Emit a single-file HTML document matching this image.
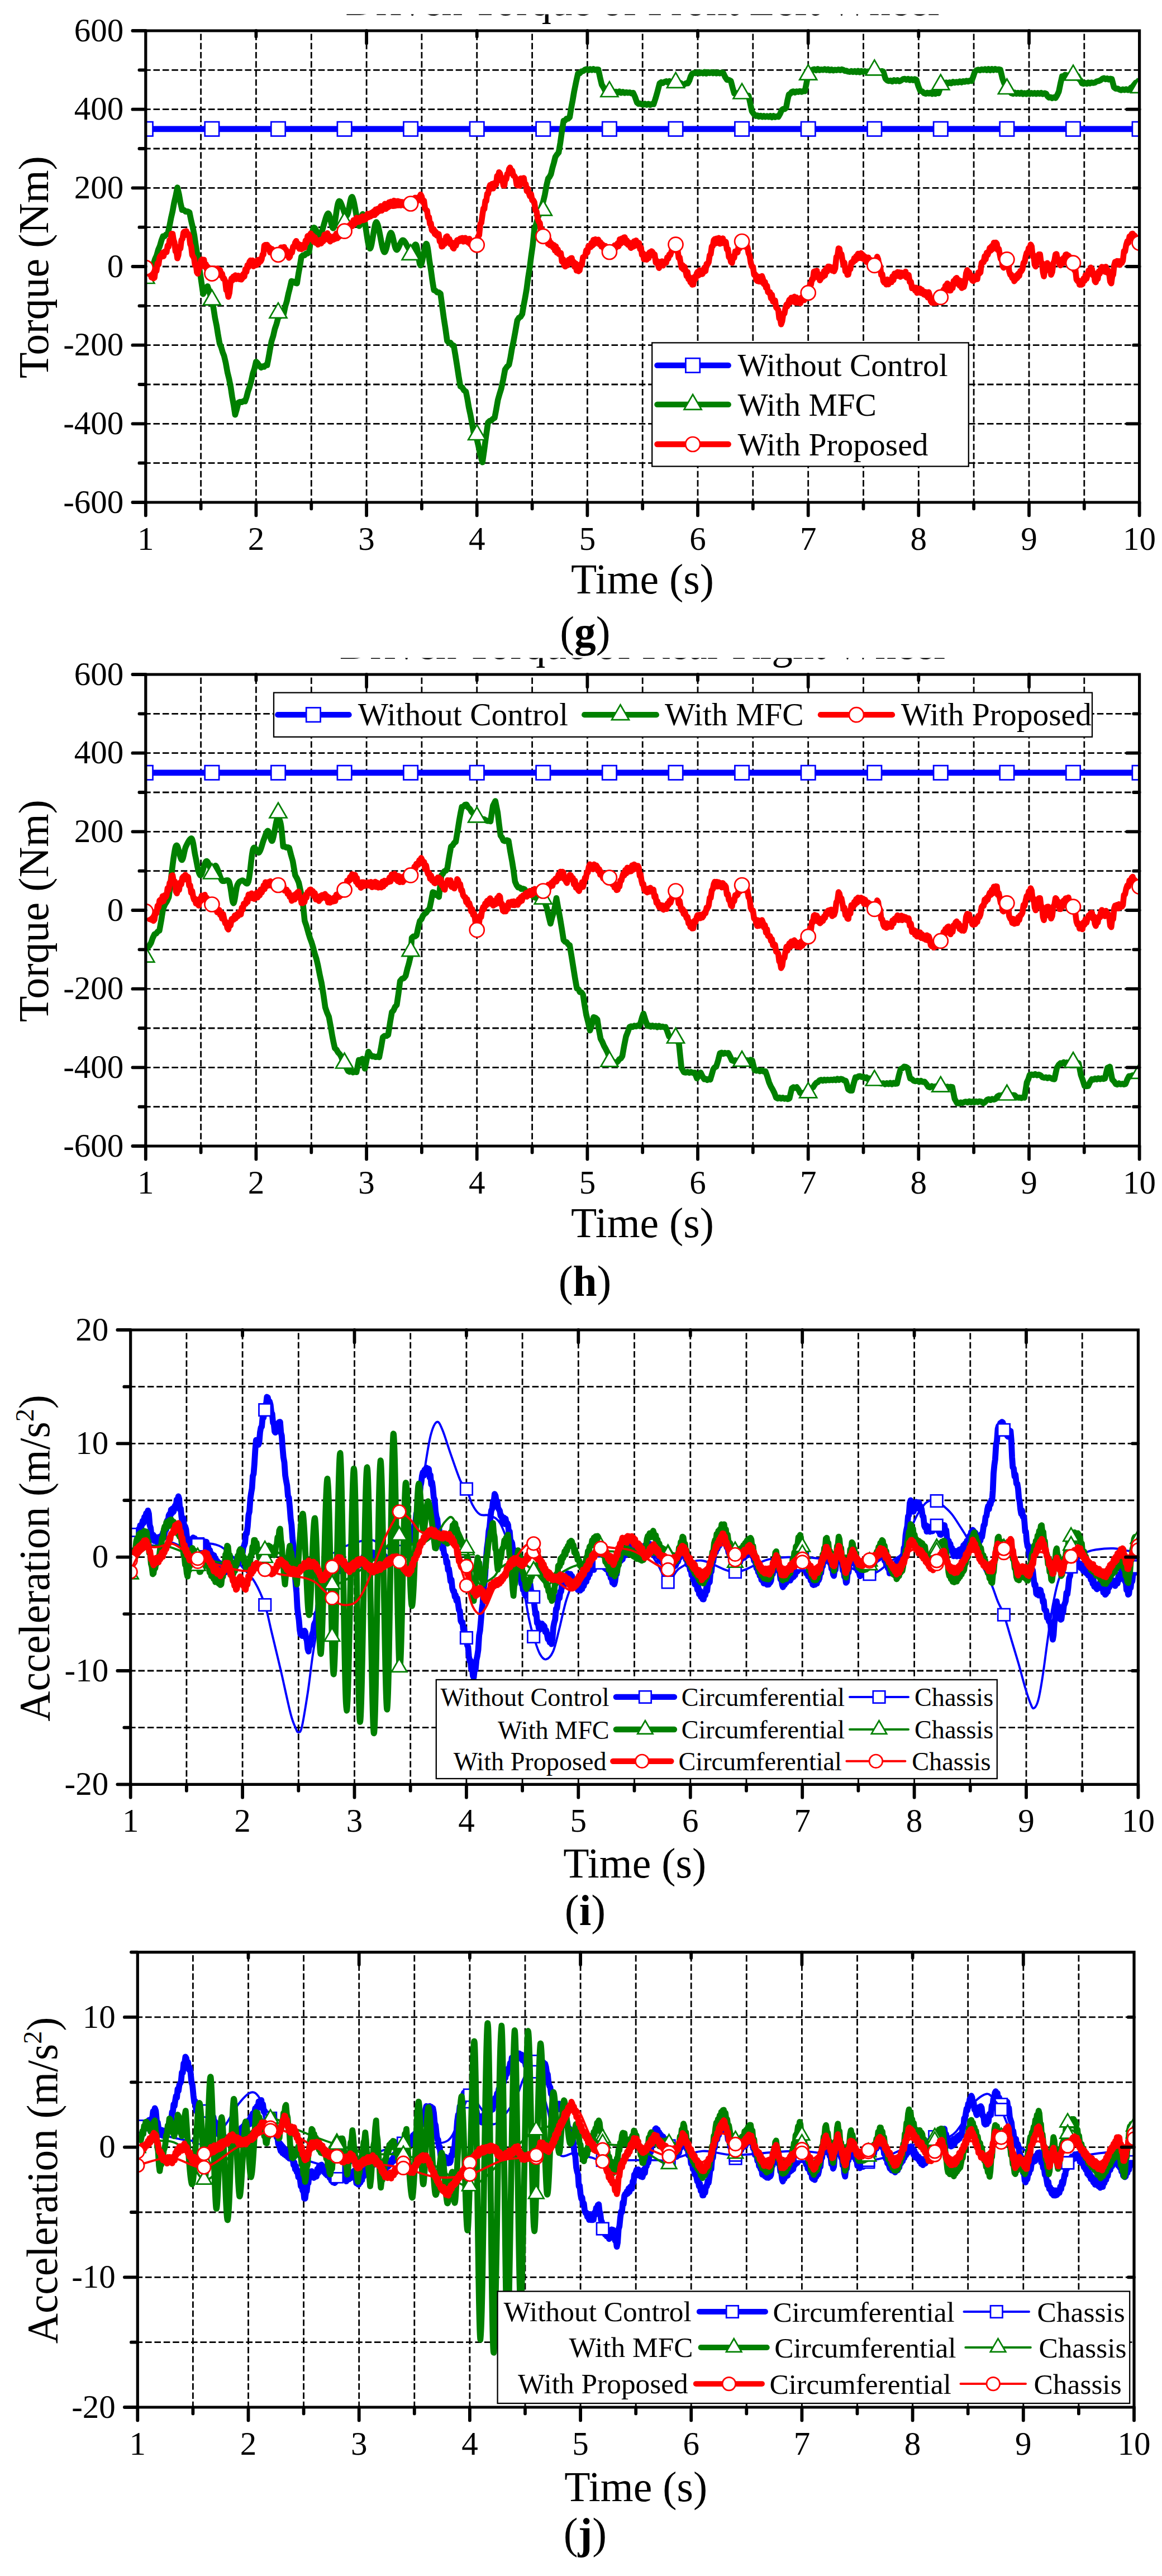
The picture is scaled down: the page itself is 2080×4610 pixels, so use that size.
<!DOCTYPE html><html><head><meta charset="utf-8"><title>Figure</title>
<style>html,body{margin:0;padding:0;background:#fff}svg{display:block}text{font-family:"Liberation Serif", serif;fill:#000}</style></head><body>
<svg width="2080" height="4610" viewBox="0 0 2080 4610">
<rect width="2080" height="4610" fill="#fff"/>
<defs>
<clipPath id="c1"><rect x="260.8" y="55" width="1778.8" height="844"/></clipPath>
<clipPath id="t1"><rect x="0" y="25.4" width="2080" height="40"/></clipPath>
<clipPath id="c2"><rect x="260.8" y="1207" width="1778.8" height="844"/></clipPath>
<clipPath id="t2"><rect x="0" y="1177.4" width="2080" height="40"/></clipPath>
<clipPath id="c3"><rect x="233.7" y="2380" width="1803.7" height="813.3"/></clipPath>
<clipPath id="c4"><rect x="246.3" y="3493.6" width="1783.7" height="814.4"/></clipPath>
</defs>
<text x="1150" y="27" font-size="75.5" text-anchor="middle" clip-path="url(#t1)">Driven Torque of Front Left Wheel</text>
<path d="M359.6 55V899M458.4 55V899M557.3 55V899M656.1 55V899M754.9 55V899M853.7 55V899M952.6 55V899M1051.4 55V899M1150.2 55V899M1249 55V899M1347.8 55V899M1446.7 55V899M1545.5 55V899M1644.3 55V899M1743.1 55V899M1842 55V899M1940.8 55V899" fill="none" stroke="#000" stroke-width="2.8" stroke-dasharray="11.6 4.7" stroke-dashoffset="10.9"/>
<path d="M260.8 828.7H2039.6M260.8 758.3H2039.6M260.8 688H2039.6M260.8 617.7H2039.6M260.8 547.3H2039.6M260.8 477H2039.6M260.8 406.7H2039.6M260.8 336.3H2039.6M260.8 266H2039.6M260.8 195.7H2039.6M260.8 125.3H2039.6" fill="none" stroke="#000" stroke-width="2.8" stroke-dasharray="11.6 4.8" stroke-dashoffset="2.7"/>
<path d="M260.8 230.8L2039.6 230.8" fill="none" stroke="#0000ff" stroke-width="10.8" stroke-linejoin="round" stroke-linecap="butt" clip-path="url(#c1)"/>
<g fill="#fff" stroke="#0000ff" stroke-width="2.7" clip-path="url(#c1)">
<rect x="248.1" y="218.1" width="25.4" height="25.4"/>
<rect x="366.7" y="218.1" width="25.4" height="25.4"/>
<rect x="485.3" y="218.1" width="25.4" height="25.4"/>
<rect x="603.9" y="218.1" width="25.4" height="25.4"/>
<rect x="722.4" y="218.1" width="25.4" height="25.4"/>
<rect x="841" y="218.1" width="25.4" height="25.4"/>
<rect x="959.6" y="218.1" width="25.4" height="25.4"/>
<rect x="1078.2" y="218.1" width="25.4" height="25.4"/>
<rect x="1196.8" y="218.1" width="25.4" height="25.4"/>
<rect x="1315.4" y="218.1" width="25.4" height="25.4"/>
<rect x="1434" y="218.1" width="25.4" height="25.4"/>
<rect x="1552.6" y="218.1" width="25.4" height="25.4"/>
<rect x="1671.1" y="218.1" width="25.4" height="25.4"/>
<rect x="1789.7" y="218.1" width="25.4" height="25.4"/>
<rect x="1908.3" y="218.1" width="25.4" height="25.4"/>
<rect x="2026.9" y="218.1" width="25.4" height="25.4"/>
</g>
<path d="M260.8 501.6L263.6 495L266.3 491L269.1 483.1L271.9 479.4L274.6 472.8L277.5 463.6L280.4 457.1L283.2 447.2L286.1 440.4L289 430.2L291.8 422.8L294.7 422.6L297.5 419.5L300.3 418.6L303.2 405.5L306.1 390.4L308.9 378.3L311.8 362.3L314.7 350L317.5 335.6L320.4 347.7L323.2 363.6L326 375.7L329.3 375.8L332.5 378.8L335.8 378.3L339.1 379.9L342 394L344.9 406.2L347.8 420.7L350.7 440.6L353.7 458.8L356.7 479.4L359.6 498.1L363.6 526.2L366.2 521.1L368.8 517.7L371.5 512.2L374.1 519.5L376.8 529.7L379.4 536.8L382.2 551.5L384.9 569L387.7 582.7L390.5 600.3L393.2 614.9L395.9 621.3L398.5 630.1L401.1 636.7L404.1 649.4L407.1 666.1L410 677.7L413 692.9L415.6 710.4L418.3 725L420.9 742.2L423.9 731.9L426.8 720.4L429.8 719.1L432.8 719.8L435.7 717.7L438.7 718.2L441.3 710.6L444 700.2L446.6 692.9L449.6 682.3L452.5 668.8L455.5 659.8L458.4 647.2L461.4 650.3L464.4 654.9L467.3 657.8L470.1 655.5L472.8 656.5L475.5 653.3L478.2 653.5L480.8 640L483.5 624.4L486.1 610.6L489.1 601.1L492 588.4L495 579.7L498 568.4L501.3 565.6L504.6 564.5L507.9 561.4L510.6 548.5L513.4 539.1L516.2 525.8L518.9 515.4L521.7 503L525 503.9L528.3 506.3L531.6 507.2L534.2 490.2L536.8 476L539.5 459.4L542.2 456.8L545 456.9L547.8 453.7L550.5 453.7L553.3 451C554.6 443.8 557.9 413.1 561.2 408.1C564.5 403 568.8 425.1 573.1 420.7C577.4 416.4 583 384.2 586.9 382.1C590.9 379.9 593.5 411.7 596.8 408.1C600.1 404.4 602.7 363.9 606.7 360.2C610.6 356.6 616.6 387.6 620.5 386.3C624.5 385 626.8 349.6 630.4 352.5C634 355.4 639 398.6 642.3 403.9C645.5 409.1 646.9 377.4 650.2 384.2C653.5 391 658.1 442.4 662 444.6C666 446.9 669.6 396.5 673.9 397.5C678.2 398.6 683.4 447.8 687.7 451C692 454.1 695.9 417.2 699.6 416.5C703.2 415.8 705.8 444.5 709.5 446.8C713.1 449 717 429.5 721.3 429.9C725.6 430.2 731.2 447.5 735.1 448.9C739.1 450.3 742.1 434 745 438.3C748 442.7 750 475.2 752.9 474.9C755.9 474.5 760.2 437.6 762.8 436.2C765.5 434.8 767.8 461.4 768.7 466.4L771.4 483.5L774 502.6L776.7 519.2L779.6 520.2L782.6 523.2L785.5 523.3L788.5 525.5L791.5 548L794.4 569.1L797.4 588.3L800.4 609.9L803.3 613.2L806.3 613.4L809.3 617.5L812.2 618.4L815.2 636L818.2 654.9L821.1 674L824.1 691.5L827.4 693.4L830.7 698.6L834 700.7L836.6 713.7L839.2 729.1L841.9 741.5L844.8 757L847.8 773.8L850.8 780.8L853.7 786.5L856.7 799.4L859.7 814.6L863.6 827.3L866.6 806.5L869.5 784.4L873.5 756.2L876.5 753.4L879.4 752.5L882.4 749.4L885.4 747.8L888.3 732.6L891.3 715.4L894.3 704.9L897.2 695.7L900.7 679.5L904.1 661.3L907.6 656.3L911.1 652.8L913.7 640.1L916.3 624.4L919 612L922.4 593.6L925.9 573.4L928.8 568.7L931.8 567L934.8 562.1L937.4 546.5L940 532.7L942.7 517.1L945.4 496.5L948.1 479.6L950.8 458.4L953.5 439.7L956.5 410.2L959.7 401L962.8 389.4L966 381.9L969.2 370.2L972.3 360.9L975.3 348.4L978.2 332.1L981.2 319.5L983.7 316.5L986.2 311.7L988.8 300.6L991.4 291.6L994.1 280.8L997 276.4L1000 273L1003 255.3L1005.9 234.4L1008.9 216.1L1011.6 215.5L1014.3 212.2L1017 212.5L1019.8 209.7L1022.4 193.5L1025 180L1027.7 164L1031.1 147.2L1034.6 131.7L1037.8 131L1041 127.6L1044.2 127L1047.4 124.6L1050.4 123.7L1053.4 125.8L1056.3 123.7L1059.3 125.3L1062.2 123.4L1065.2 125.3L1068.2 124.2L1071.1 124.6L1074.1 138.7L1077.1 151.4L1080.5 156.9L1084 164L1087.1 164.7L1090.2 163.7L1093.3 165.2L1096.3 163.6L1099.4 165.2L1102.5 164L1105.6 166.1L1108.7 163.8L1111.8 166.2L1114.9 164.3L1118 166.4L1121 165L1124.1 166.2L1127.2 165.4L1130.3 167.2L1133.4 166.1L1136.9 173.9L1140.3 183.7L1143 185.9L1145.6 185.1L1148.2 186.5L1151.3 187.5L1154.4 185.7L1157.5 187.6L1160.6 185.8L1163.8 187.8L1166.9 186L1170 186.5L1173.4 176.2L1176.9 164L1180.8 149.2L1183.8 147.2L1186.8 148.6L1189.7 146.4L1192.6 145.4L1195.4 147.5L1198.2 145.3L1201 147.7L1203.8 145.7L1206.7 147.5L1209.5 146.4L1212.5 146.2L1215.4 149.6L1218.4 148.6L1221.4 151.5L1224.3 151.4L1227.8 149.1L1231.2 149.2L1233.9 144.3L1236.5 136.5L1239.1 131.7L1243.1 130.3L1246.1 131L1249.1 129.3L1252.2 131.2L1255.2 129.7L1258.2 131.3L1261.2 129L1264.3 131.5L1267.3 129.2L1270.3 131L1273.3 129.2L1276.3 131.2L1279.4 129.4L1282.4 131.4L1285.4 129.7L1288.4 131.3L1291.5 129.8L1294.5 130.3L1297.9 137.5L1301.4 142.9L1304.9 143.1L1308.3 145L1311.3 156.6L1314.2 166.8L1317.1 166.3L1320 168.6L1322.8 167.3L1325.7 169.9L1328.5 168.5L1331.4 170.1L1334.2 169.4L1337.1 171.6L1339.9 171.1L1342.9 184.5L1345.9 199.2L1349.3 204L1352.8 207.6L1355.7 206.5L1358.6 208.8L1361.5 207.1L1364.4 209.2L1367.3 207.4L1370.2 209.2L1373 207.7L1375.9 209.2L1378.8 207.4L1381.7 209.9L1384.6 207.5L1387.5 209.6L1390.4 208L1393.3 209L1396.3 203.8L1399.2 197.1L1401.9 195.1L1404.5 195.1L1407.1 192.9L1409.6 179.7L1412.1 168.9L1414.5 168L1417 164.7L1420 163.5L1422.9 165.6L1425.9 163.5L1428.9 164.6L1431.8 163L1434.8 164.4L1437.8 162.9L1440.7 163.3L1443.7 148.6L1446.7 132.4L1449.3 128.8L1451.9 128.1L1454.6 124.6L1457.6 123.9L1460.7 125.9L1463.8 123.5L1466.9 125.6L1469.9 124.3L1473 125.3L1476.1 123.7L1479.2 125.4L1482.2 123.9L1485.3 126L1488.4 124.3L1491.5 126.2L1494.5 124.7L1497.6 125.7L1500.7 124.4L1503.8 125.7L1506.8 124.1L1509.9 125.3L1512.5 126.9L1515.2 126.6L1517.8 128.1L1520.8 128.6L1523.8 127.2L1526.9 129L1529.9 127.2L1532.9 129.2L1535.9 127L1538.9 129.4L1541.9 127.1L1544.9 128.8L1547.9 127.3L1550.9 128.8L1554 127.7L1557 129L1560 127.1L1563 128.8L1566 127.5L1569 128.9L1572 127.1L1575 129L1578.1 127.2L1581.1 128.1L1585 140.8L1588 144L1590.9 145L1594.1 144.1L1597.2 145.9L1600.3 143.5L1603.4 145.2L1606.5 143.3L1609.6 145.5L1612.7 144.3L1616.6 141.5L1619.6 141.1L1622.6 142.7L1625.5 141.1L1628.5 143.4L1631.5 141.6L1634.4 143.5L1637.4 141.5L1640.4 142.9L1643.8 153.9L1647.3 162.6L1650.7 163.5L1654.2 166.8L1657 167.7L1659.9 165.8L1662.8 167.5L1665.6 165.8L1668.5 168L1671.3 165.8L1674.2 167.9L1677 166.2L1679.9 166.8L1682.4 159.3L1684.8 149.2L1687.8 147.7L1690.9 150.1L1693.9 147.6L1696.9 149.4L1699.9 147.3L1702.9 149.1L1706 146.4L1709 148.1L1712 146.6L1715 147.7L1718 145.7L1721.1 147.5L1724.1 145.3L1727.1 146.4L1730.1 144.6L1733.1 146L1736.2 144.1L1739.2 145L1742.1 137.2L1745.1 128.1L1748.1 125.7L1751 124.6L1754.1 125.8L1757.1 124.1L1760.2 125.2L1763.2 123.7L1766.2 125.7L1769.3 123.5L1772.3 125.7L1775.4 123.4L1778.4 125.5L1781.4 123.4L1784.5 125.2L1787.5 124L1790.6 124.6L1794.5 140.8L1797.2 148.3L1799.8 153.2L1802.4 160.5L1805.1 163.7L1807.7 163.7L1810.3 166.8L1813.3 167.8L1816.3 165.7L1819.2 167.9L1822.2 166.2L1825.2 167.8L1828.1 165.9L1831.1 168.3L1834 166.5L1837 168.3L1840 165.9L1842.9 168.1L1845.9 166.3L1848.9 167.9L1851.8 166.4L1854.8 168.2L1857.8 166.4L1860.7 167.9L1863.7 166.2L1866.7 168.4L1869.6 166.7L1872.6 167.5L1875.1 172.2L1877.5 174.6L1880.5 173.8L1883.5 175.8L1886.4 174.1L1889.4 175.3L1892.4 170.2L1895.3 164L1898.3 149.4L1901.2 136.6L1903.9 136.7L1906.5 133.9L1909.2 134.5L1912 135.9L1914.8 134.2L1917.6 135.9L1920.4 134.7L1923.3 136.3L1926.1 134.5L1928.9 135.9L1931.6 141.6L1934.2 143.9L1936.8 149.2L1939.6 149.9L1942.5 148.4L1945.3 149.9L1948.1 147.6L1950.9 149.3L1953.8 147.5L1956.6 148.5L1959.9 147.8L1963.2 145.6L1966.5 145L1969.9 143.6L1973.4 140.8L1976.2 139.9L1979 141.8L1981.8 140.4L1984.6 142.3L1987.4 140.8L1990.2 141.5L1994.1 156.3L1997.4 158.8L2000.7 158.5L2004 160.5L2007 161.4L2010 159.8L2012.9 161.1L2015.9 159.6L2018.8 161.3L2021.8 160.5L2024.4 156.9L2027.1 155.7L2029.7 152.1L2033 148.1L2036.3 146.6L2039.6 142.9" fill="none" stroke="#008000" stroke-width="10.6" stroke-linejoin="round" stroke-linecap="butt" clip-path="url(#c1)"/>
<g fill="#fff" stroke="#008000" stroke-width="2.7" clip-path="url(#c1)">
<path d="M260.8 480.2L276.3 507L245.3 507Z"/>
<path d="M379.4 518.9L394.9 545.7L363.9 545.7Z"/>
<path d="M498 542.1L513.5 568.9L482.5 568.9Z"/>
<path d="M616.6 380.3L632.1 407.2L601.1 407.2Z"/>
<path d="M735.1 438L750.6 464.8L719.6 464.8Z"/>
<path d="M853.7 760.1L869.2 787L838.2 787Z"/>
<path d="M972.3 358.5L987.8 385.4L956.8 385.4Z"/>
<path d="M1090.9 146.1L1106.4 173L1075.4 173Z"/>
<path d="M1209.5 129.9L1225 156.8L1194 156.8Z"/>
<path d="M1328.1 149.6L1343.6 176.5L1312.6 176.5Z"/>
<path d="M1446.7 115.9L1462.2 142.7L1431.2 142.7Z"/>
<path d="M1565.3 107.4L1580.8 134.3L1549.8 134.3Z"/>
<path d="M1683.8 133.5L1699.3 160.3L1668.3 160.3Z"/>
<path d="M1802.4 141.2L1817.9 168L1786.9 168Z"/>
<path d="M1921 116.6L1936.5 143.4L1905.5 143.4Z"/>
<path d="M2039.6 139.1L2055.1 165.9L2024.1 165.9Z"/>
</g>
<path d="M260.8 479.1L262.5 477.9L264.3 488.1L266 481.9L267.7 491L269.4 489L271.2 496.6L272.9 492.8L274.6 498.1L276.5 497.1L278.3 482.1L280.1 484.7L282 470.9L283.8 473.3L285.6 460.7L287.5 457.3L289.3 459.5L291 452.3L292.8 458.7L294.6 450.1L296.4 451L298.2 451.2L300 439.5L301.8 441.5L303.6 429.4L305.4 431.2L307.2 418.3L309 418.6L310.7 429.3L312.4 433.9L314.1 450L315.8 449.8L317.5 462.2L319.3 456.9L321.1 441.5L323 444.7L324.8 429.4L326.6 427.6L328.4 416.5L330.1 414.5L331.8 420.4L333.5 413.6L335.2 420.7L336.9 418.6L338.7 422.4L340.5 437L342.2 440.6L344 456.1L345.8 459.4L347.4 462.1L349.1 474.9L350.8 473.5L352.4 487.2L354.1 489.7L356 480L357.8 479L359.7 466.1L361.6 464.3L363.4 472.7L365.1 464.9L366.9 477.5L368.6 473L370.4 482.4L372.1 477.8L373.9 489.5L375.7 485.8L377.4 491.1L379.3 492.4L381.2 485L383.1 490.6L385 480.6L386.9 487.7L388.8 480.6L390.7 481.2L392.4 488.9L394.1 483.4L395.9 493.4L397.6 489.8L399.4 498.7L401.1 498.1L403.1 503.1L405 519.3L406.9 520.6L408.8 531.2L410.7 524L412.5 506.6L414.4 498.1L416.1 501.9L417.9 494.9L419.6 499.3L421.4 492.6L423.1 499.4L424.8 494.6L426.6 493.2L428.4 499.6L430.2 494L432 500.3L433.7 498.1L435.6 490.3L437.4 495L439.2 481.8L441.1 486.6L442.9 474.5L444.8 478L446.6 468.6L448.4 466L450.2 472.6L452 466.1L453.8 476.6L455.6 470.1L457.5 472.8L459.3 474.3L461.1 465.3L462.9 471.7L464.7 464.4L466.5 467.7L468.3 464.3L469.9 455.8L471.5 455.5L473.1 439.4L474.7 438.3L476.4 445.6L478.2 438.1L480 445.6L481.8 442.3L483.5 451.8L485.3 448.9L487.1 445.6L488.9 456.4L490.7 451L492.4 459.2L494.2 453.4L496 458.7L497.8 460.2L499.6 450.5L501.4 455.9L503.2 442.8L505.1 447.7L506.9 442.5L508.6 442L510.3 452.4L512 446.9L513.8 457.5L515.5 450.8L517.2 461.4L518.9 459.4L520.8 449.9L522.7 452L524.6 441.3L526.5 442L528.4 434.1L530.3 431.2L532.1 441.5L534 436.2L535.9 445.2L537.7 438.2L539.6 445.9L541.5 444.6L543.3 437.7L545.1 443.2L547 430.5L548.8 435.1L550.6 422.4L552.5 429.5L554.3 420.7L556.2 417.8L558 427.6L559.9 421.9L561.8 432.8L563.6 424.6L565.5 435L567.4 429.6L569.2 437.7L571.1 436.2L573 429.4L574.9 435.7L576.8 427.6L578.7 431.8L580.6 420L582.5 427.7L584.3 420.7L586 417.3L587.7 429.3L589.4 422L591.1 432.2L592.8 429.2L594.7 424.7L596.5 429.1L598.3 422.4L600.1 427.5L602 418L603.8 426.4L605.6 417L607.4 423.8L609.3 416.1L611.1 421.1L612.9 411.7L614.7 418.2L616.6 413.7L618.4 409.2L620.2 413.8L622 405.6L623.7 411.4L625.5 403L627.3 406L629.1 399L630.9 404.8L632.7 394.1L634.5 401.4L636.3 395.4L638.1 389.6L639.9 397.5L641.7 391.7L643.5 396.8L645.3 389L647.1 394.5L648.9 387.1L650.7 394L652.5 387.5L654.3 392.8L656.1 389.1L657.9 382.6L659.7 388.7L661.6 382.3L663.4 387.2L665.2 380.5L667 385.4L668.9 378L670.7 384.8L672.5 374.7L674.3 381.6L676.2 373.5L678 378.4L679.8 373.6L681.6 368.8L683.4 377L685.2 368.5L687.1 374.1L688.9 364.8L690.7 373.9L692.5 365.5L694.3 371.4L696.1 362.1L697.9 369.3L699.7 360.9L701.5 364.5L703.3 368.8L705.1 359.1L706.9 368.4L708.6 360.1L710.4 367.6L712.2 359.9L713.9 367.5L715.7 360.8L717.5 367.7L719.2 361.4L721 366.9L722.8 361.7L724.5 368.3L726.3 361.6L728.1 366.6L729.8 359.7L731.6 367.4L733.4 359.2L735.1 364.5L737.1 367.1L739.1 358.3L741.1 365.3L743.1 353.7L745 357.4L747 359.4L749 352.8L751 358.3L752.9 348L754.9 351.8L756.9 361.9L758.9 359L760.8 373.1L762.8 375.7L764.5 377L766.2 389.4L767.9 388.6L769.6 400.7L771.3 399.5L773 411.6L774.7 413.7L776.5 410.2L778.2 418.8L780 414.8L781.8 421.6L783.6 420L785.3 418.7L787.1 432L788.9 430.2L790.7 441.3L792.5 440.4L794.4 431L796.4 436.5L798.4 424L800.4 422.8L802.3 431.3L804.3 427.7L806.3 437.1L808.3 433.6L810.3 442.5L812.2 444.8L814.2 434.5L816.2 439.6L818.2 429.8L820.1 429.2L821.9 432L823.8 426.7L825.6 431L827.4 425.7L829.2 432.5L831 427.8L832.8 425.7L834.7 432.2L836.5 427.9L838.3 434.4L840.2 427.3L842 437.3L843.9 434.1L845.8 432.6L847.8 440.2L849.8 432.8L851.8 441L853.7 438.3L855.7 423.7L857.7 420.9L859.7 401L861.6 398.7L863.6 384.2L865.3 373.1L867 374.1L868.7 359.5L870.4 360.1L872.1 346.6L873.8 346.9L875.5 336.3L877.3 331.1L879.1 337.8L880.9 329L882.7 337.2L884.5 327.8L886.3 332.1L888.1 330.5L889.8 314.8L891.5 318.5L893.3 308.2L895.2 310.7L897.2 323.5L899.2 322L901.2 332.1L902.9 332.1L904.6 317.9L906.3 320.6L907.9 311.5L909.6 311.3L911.3 302.2L913 299.8L915 305.8L917 305.5L919 314.2L920.9 315.2L922.9 318.5L924.9 330.9L926.9 332.1L928.6 325.5L930.4 332.4L932.2 319.2L934 326.6L935.8 319.5L937.6 318.5L939.4 330.2L941.2 329.7L943 342L944.8 337.5L946.6 345.5L948.6 351.3L950.6 347.2L952.6 358.4L954.5 358.1L956.5 362L958.5 376.7L960.5 378.6L962.4 391.3L964.4 396.8L966.4 399.2L968.4 415.2L970.3 410.9L972.3 422.8L974.1 429.2L975.8 421L977.6 431.2L979.3 426.7L981.1 436.7L982.9 429.1L984.6 439.2L986.4 434.6L988.1 438.3L989.9 442.9L991.6 438.4L993.3 448.4L995 440.8L996.8 452.2L998.5 446.3L1000.2 454.5L1002 453.1L1003.9 452.9L1005.9 468.1L1007.9 463.8L1009.9 474.8L1011.8 477L1013.8 469.9L1015.8 474.9L1017.8 464.9L1019.8 467.9L1021.7 462.2L1023.5 461.8L1025.2 472.1L1026.9 468.6L1028.6 477.7L1030.4 471.4L1032.1 484.2L1033.8 479.7L1035.6 485.4L1037.5 483.7L1039.5 472.7L1041.5 474.4L1043.5 460.4L1045.4 459.4L1047.4 458.2L1049.4 447.9L1051.4 452.1L1053.4 440.2L1055.3 440.4L1057.1 442.3L1058.8 434.6L1060.5 439.4L1062.2 429.3L1064 436.5L1065.7 428.3L1067.4 434.1L1069.2 429.2L1071 428.9L1072.8 437L1074.6 433.2L1076.4 441.2L1078.2 437.1L1080 442.5L1081.8 447.1L1083.7 440.1L1085.5 449.7L1087.3 445.1L1089.1 453.8L1090.9 451L1092.7 446.1L1094.6 451.7L1096.4 442.2L1098.2 447.1L1100.1 439.1L1101.9 444.2L1103.8 440.4L1105.6 435.4L1107.4 440.8L1109.3 428.3L1111.1 435.9L1112.9 426.8L1114.8 430.7L1116.6 425L1118.4 424.6L1120.2 435L1122 429.9L1123.8 437.9L1125.7 433.6L1127.5 440.4L1129.3 443.8L1131.2 434.8L1133 441.7L1134.9 431.9L1136.7 440L1138.6 430.4L1140.4 438.2L1142.3 434.1L1144 434.8L1145.7 445.9L1147.4 442.6L1149.1 456L1150.8 452.9L1152.5 463.8L1154.2 464.3L1155.9 458.1L1157.6 464.7L1159.3 455L1161.1 461.8L1162.8 451.5L1164.5 457.5L1166.3 449.6L1168 451L1170 457.8L1171.9 455.4L1173.9 470.1L1175.9 466.8L1177.9 474.9L1179.7 479.7L1181.5 468.5L1183.4 475.5L1185.2 467.6L1187 475.3L1188.9 468.2L1190.7 470.7L1192.5 470.2L1194.3 460.7L1196.2 462.9L1198 455.4L1199.8 456.6L1201.6 451L1203.6 444.6L1205.5 446.8L1207.5 438.6L1209.5 437.6L1211.3 449.3L1213.1 447.8L1214.8 461.5L1216.6 460.5L1218.4 471.4L1220.2 479.4L1221.9 474.6L1223.7 482.6L1225.5 477.6L1227.3 485.4L1229 494L1230.7 487L1232.4 499.5L1234.1 495.9L1235.8 505.1L1237.4 500.8L1239.1 509.4L1241.1 509.1L1243.1 495.6L1245.1 499.3L1247 489.7L1248.7 486.5L1250.4 492.9L1252.1 483.6L1253.8 490.8L1255.5 484L1257.2 490.4L1258.9 487.6L1260.9 478.9L1262.9 485.1L1264.8 472.2L1266.8 472.8L1268.6 469.1L1270.4 456.5L1272.2 455L1274.1 441L1275.9 440.4L1277.7 429.9L1279.5 427.9L1281.3 435.5L1283.1 426.7L1284.9 434.6L1286.7 425.9L1288.5 436.2L1290.3 427.3L1292.1 435.3L1293.9 426.6L1295.6 435.1L1297.4 432L1299.3 432.9L1301.1 446.2L1302.9 445.5L1304.7 460.2L1306.5 458.3L1308.3 468.6L1310.3 470.5L1312.3 458.8L1314.2 461.4L1316.2 449.7L1318.2 451L1320.2 451.8L1322.2 439.6L1324.1 444.3L1326.1 431.4L1328.1 432L1330.1 439.1L1332 432L1334 441.5L1336 437.5L1338 442.5L1339.9 453.4L1341.9 457.4L1343.9 470.5L1345.9 477L1347.8 477.6L1349.8 491.4L1351.8 490.9L1353.8 500.9L1355.5 503L1357.2 494.9L1358.9 503.8L1360.6 497.1L1362.2 504.3L1363.9 494.1L1365.6 498.8L1367.4 508.4L1369.3 504.5L1371.1 514.8L1372.9 511.4L1374.7 522.8L1376.5 524.1L1378.3 522.8L1380.1 533.9L1381.8 527.5L1383.6 539.7L1385.4 537.5L1387.4 537.8L1389.3 550.3L1391.3 552.3L1393.1 554.7L1394.8 569.8L1396.5 570.8L1398.2 580.4L1400.2 574.8L1402.2 561.1L1404.2 560.9L1406.1 550.1L1407.8 545.1L1409.4 548.2L1411.1 541.7L1412.9 536.6L1414.6 541.4L1416.4 532.7L1418.2 538.8L1420 533.3L1421.8 530.9L1423.6 541.5L1425.4 532.3L1427.2 541.9L1429 535.3L1430.9 541.7L1432.6 542.8L1434.4 532.5L1436.1 538L1437.9 530.8L1439.6 537.2L1441.4 525.7L1443.2 532.5L1444.9 523.4L1446.7 524.1L1448.4 521L1450.1 507.7L1451.7 509.7L1453.4 499.5L1455.1 500L1456.8 486.1L1458.5 485.4L1460.3 492L1462.1 484.4L1464 496.8L1465.8 490.9L1467.6 501.8L1469.4 498.8L1471.2 493L1473.1 495.5L1475 485.3L1476.8 493L1478.7 480.9L1480.5 486.1L1482.4 477.1L1484.2 477L1486 481.4L1487.8 478.2L1489.6 484.3L1491.3 480.1L1493.1 485.4L1495.1 480.4L1497.1 459.8L1499 458.6L1501 444.6L1502.7 445.2L1504.5 458.1L1506.2 454.7L1507.9 464.3L1509.7 474.3L1511.5 469.9L1513.3 485.7L1515.1 481.9L1516.8 491.8L1518.6 491.2L1520.4 480L1522.2 481.5L1523.9 469.7L1525.7 468.6L1527.4 469.1L1529.1 462.1L1530.8 466.2L1532.5 458.4L1534.2 463.2L1535.9 454L1537.6 455.2L1539.4 461.8L1541.3 453.1L1543.1 462.4L1545 456.3L1546.8 464.2L1548.7 459.4L1550.6 468.6L1552.4 464.3L1554.2 460.7L1556.1 471.6L1557.9 464.6L1559.7 472.8L1561.6 468L1563.4 475.9L1565.3 474.9L1566.9 466.6L1568.5 468.6L1570.2 459.4L1572 464.2L1573.8 476.7L1575.6 476.7L1577.4 492.1L1579.3 490.6L1581.1 503L1582.9 505.8L1584.7 501.4L1586.6 509.2L1588.4 500.1L1590.2 508.9L1592.1 500.9L1593.9 505.1L1595.7 505L1597.5 494.6L1599.3 501.1L1601.2 489.6L1603 494.7L1604.8 489.7L1606.6 486.9L1608.4 493.9L1610.2 487.4L1612 495.4L1613.8 487.8L1615.6 493L1617.4 488.5L1619.2 494.1L1621 486.1L1622.7 496.6L1624.5 491.8L1626.5 492.2L1628.5 504.8L1630.5 504L1632.5 515.8L1634.4 515.7L1636.2 514.2L1638 520L1639.8 514.7L1641.5 524.1L1643.3 517.3L1645.1 522.9L1646.9 516.4L1648.7 524.4L1650.4 518.7L1652.2 524.1L1653.9 527.2L1655.6 522.3L1657.3 528.6L1659 523L1660.7 532.4L1662.4 522.8L1664.1 528.3L1666.1 538.9L1668 541.7L1669.8 538.4L1671.5 542.1L1673.3 535.4L1675.1 542.1L1676.8 531L1678.6 537.2L1680.3 530.9L1682.1 538.3L1683.8 531.9L1685.5 525.9L1687.2 527L1688.9 518.4L1690.6 522.9L1692.3 511.4L1694 515.3L1695.7 507.2L1697.7 509.1L1699.7 520L1701.6 519.9L1703.4 513.2L1705.2 515.5L1707 502.7L1708.7 508.1L1710.5 498.8L1712.4 497.2L1714.2 507.9L1716.1 501L1717.9 511.5L1719.8 502.8L1721.6 515.4L1723.5 509.4L1725.3 513.6L1727.3 506.4L1729.3 489L1731.3 483.3L1733.1 491.7L1734.9 487.1L1736.7 497.8L1738.5 492.8L1740.3 501.7L1742.1 503L1744 498.6L1745.8 500.5L1747.6 493.6L1749.4 499.4L1751.2 487.5L1753 489.7L1755 487.6L1757 470.4L1758.9 468.6L1760.8 469L1762.6 458.3L1764.4 464L1766.2 452.4L1768 456.2L1769.8 451L1771.7 443.5L1773.5 448.6L1775.3 440.2L1777.2 445.7L1779 434.3L1780.8 441.4L1782.7 434.1L1784.4 436.3L1786.1 447.6L1787.9 445.4L1789.6 455.2L1791.3 463.3L1793 462.1L1794.8 476.2L1796.5 479.1L1798.5 470.9L1800.5 472.3L1802.4 464.3L1804.4 469L1806.4 485.2L1808.4 491.8L1810.1 491.2L1811.9 497.6L1813.7 494.9L1815.5 503.2L1817.2 500.9L1819.1 492.9L1820.9 497.7L1822.7 489.6L1824.5 493.8L1826.3 485L1828.1 485.4L1830.1 482.1L1832.1 470.1L1834 469.4L1836 459.4L1837.8 452.2L1839.6 452.8L1841.4 443.9L1843.1 447.2L1844.9 437.6L1846.7 441L1848.5 458.8L1850.3 456.4L1852 473.7L1853.8 477L1855.8 468.8L1857.8 468.4L1859.7 455.2L1861.7 455.2L1863.4 469.4L1865.2 470.4L1866.9 487.2L1868.6 494.6L1870.6 481.9L1872.6 482.5L1874.6 470.7L1876.3 473.7L1878 483.9L1879.8 481.1L1881.5 491.8L1883.5 486.8L1885.4 471.2L1887.4 466.6L1889.4 455.2L1891.2 454.5L1892.9 466.3L1894.7 463.4L1896.5 473.4L1898.3 474.9L1900.1 469L1901.9 472L1903.7 461.6L1905.5 464.4L1907.3 456L1909.2 455.2L1910.8 460.9L1912.5 457.3L1914.2 464L1915.9 460.4L1917.6 468.4L1919.3 463.9L1921 470.7L1923 483.4L1925 482.4L1926.9 500.3L1928.9 503L1930.6 502.1L1932.4 509.6L1934.1 504.4L1935.8 509.4L1937.6 508.6L1939.5 498.5L1941.3 502.6L1943.1 492.2L1944.9 499L1946.7 491.8L1948.7 483.7L1950.7 488.6L1952.6 478.7L1954.6 481.2L1956.3 492.6L1958.1 488.5L1959.8 503.2L1961.5 505.1L1963.3 496.1L1965.1 499.2L1966.9 485.8L1968.6 490L1970.4 481.2L1972.3 477.6L1974.1 485.2L1975.9 478L1977.8 486.4L1979.6 477.4L1981.4 487.7L1983.3 483.3L1985.2 488.2L1987.2 503.8L1989.2 507.2L1990.9 494.8L1992.7 491.5L1994.4 474.4L1996.1 468.6L1997.8 473.4L1999.5 467L2001.2 471.9L2002.9 467.2L2004.6 474.2L2006.3 467.8L2008 470.7L2010 466.5L2011.9 449.4L2013.9 449.9L2015.9 438.3L2017.9 431.7L2019.8 434.5L2021.8 423.1L2023.8 426L2025.8 418.6L2027.5 418.1L2029.2 427L2031 421.5L2032.7 432.2L2034.4 425L2036.1 435.1L2037.9 427.5L2039.6 434.8" fill="none" stroke="#ff0000" stroke-width="10.6" stroke-linejoin="round" stroke-linecap="butt" clip-path="url(#c1)"/>
<g fill="#fff" stroke="#ff0000" stroke-width="2.7" clip-path="url(#c1)">
<circle cx="260.8" cy="479.1" r="13"/>
<circle cx="379.4" cy="489.6" r="13"/>
<circle cx="498" cy="455.8" r="13"/>
<circle cx="616.6" cy="413.7" r="13"/>
<circle cx="735.1" cy="364.5" r="13"/>
<circle cx="853.7" cy="438.3" r="13"/>
<circle cx="972.3" cy="422.8" r="13"/>
<circle cx="1090.9" cy="451" r="13"/>
<circle cx="1209.5" cy="437.6" r="13"/>
<circle cx="1328.1" cy="432" r="13"/>
<circle cx="1446.7" cy="524.1" r="13"/>
<circle cx="1565.3" cy="474.9" r="13"/>
<circle cx="1683.8" cy="531.9" r="13"/>
<circle cx="1802.4" cy="464.3" r="13"/>
<circle cx="1921" cy="470.7" r="13"/>
<circle cx="2039.6" cy="434.8" r="13"/>
</g>
<rect x="1167.2" y="613.4" width="566.6" height="221.2" fill="#fff" stroke="#000" stroke-width="2.3"/>
<path d="M1176.4 653.9H1303.8" stroke="#0000ff" stroke-width="10.3" stroke-linecap="round" fill="none"/>
<g fill="#fff" stroke="#0000ff" stroke-width="2.7"><rect x="1227.4" y="641.2" width="25.4" height="25.4"/></g>
<text x="1320.4" y="673.4" font-size="57.5" text-anchor="start">Without Control</text>
<path d="M1176.4 723.9H1303.8" stroke="#008000" stroke-width="10.3" stroke-linecap="round" fill="none"/>
<g fill="#fff" stroke="#008000" stroke-width="2.7"><path d="M1240.1 706L1255.6 732.8L1224.6 732.8Z"/></g>
<text x="1320.4" y="744.3" font-size="57.5" text-anchor="start">With MFC</text>
<path d="M1176.4 795H1303.8" stroke="#ff0000" stroke-width="10.3" stroke-linecap="round" fill="none"/>
<g fill="#fff" stroke="#ff0000" stroke-width="2.7"><circle cx="1240.1" cy="795" r="13"/></g>
<text x="1320.4" y="815.4" font-size="57.5" text-anchor="start">With Proposed</text>
<path d="M260.8 899v23.4M359.6 899v11.4M458.4 899v23.4M557.3 899v11.4M656.1 899v23.4M754.9 899v11.4M853.7 899v23.4M952.6 899v11.4M1051.4 899v23.4M1150.2 899v11.4M1249 899v23.4M1347.8 899v11.4M1446.7 899v23.4M1545.5 899v11.4M1644.3 899v23.4M1743.1 899v11.4M1842 899v23.4M1940.8 899v11.4M2039.6 899v23.4M458.4 55v10.4M656.1 55v22.4M853.7 55v10.4M1051.4 55v22.4M1249 55v10.4M1446.7 55v22.4M1644.3 55v10.4M1842 55v22.4M260.8 55h-23.4M260.8 195.7h-23.4M260.8 336.3h-23.4M260.8 477h-23.4M260.8 617.7h-23.4M260.8 758.3h-23.4M260.8 899h-23.4M260.8 125.3h-11.4M260.8 266h-11.4M260.8 406.7h-11.4M260.8 547.3h-11.4M260.8 688h-11.4M260.8 828.7h-11.4M2039.6 195.7h-22.4M2039.6 477h-22.4M2039.6 758.3h-22.4M2039.6 336.3h-10.4M2039.6 617.7h-10.4" fill="none" stroke="#000" stroke-width="5.8" stroke-linecap="round"/>
<path d="M260.8 55H2039.6V899H260.8Z" fill="none" stroke="#000" stroke-width="5.2" stroke-linejoin="miter"/>
<g font-size="59" text-anchor="end">
<text x="221.3" y="73.7">600</text>
<text x="221.3" y="214.4">400</text>
<text x="221.3" y="355.1">200</text>
<text x="221.3" y="495.7">0</text>
<text x="221.3" y="636.4">-200</text>
<text x="221.3" y="777.1">-400</text>
<text x="221.3" y="917.7">-600</text>
</g><g font-size="59" text-anchor="middle">
<text x="260.8" y="983.7">1</text>
<text x="458.4" y="983.7">2</text>
<text x="656.1" y="983.7">3</text>
<text x="853.7" y="983.7">4</text>
<text x="1051.4" y="983.7">5</text>
<text x="1249" y="983.7">6</text>
<text x="1446.7" y="983.7">7</text>
<text x="1644.3" y="983.7">8</text>
<text x="1842" y="983.7">9</text>
<text x="2039.6" y="983.7">10</text>
</g>
<text transform="translate(86 478) rotate(-90)" font-size="76" text-anchor="middle">Torque (Nm)</text>
<text x="1150" y="1061.8" font-size="75.7" text-anchor="middle">Time (s)</text>
<text x="1047.4" y="1157.2" font-size="77.5" text-anchor="middle">(<tspan font-weight="bold">g</tspan>)</text>
<text x="1150" y="1179" font-size="75.5" text-anchor="middle" clip-path="url(#t2)">Driven Torque of Rear Right Wheel</text>
<path d="M359.6 1207V2051M458.4 1207V2051M557.3 1207V2051M656.1 1207V2051M754.9 1207V2051M853.7 1207V2051M952.6 1207V2051M1051.4 1207V2051M1150.2 1207V2051M1249 1207V2051M1347.8 1207V2051M1446.7 1207V2051M1545.5 1207V2051M1644.3 1207V2051M1743.1 1207V2051M1842 1207V2051M1940.8 1207V2051" fill="none" stroke="#000" stroke-width="2.8" stroke-dasharray="11.6 4.7" stroke-dashoffset="10.9"/>
<path d="M260.8 1980.7H2039.6M260.8 1910.3H2039.6M260.8 1840H2039.6M260.8 1769.7H2039.6M260.8 1699.3H2039.6M260.8 1629H2039.6M260.8 1558.7H2039.6M260.8 1488.3H2039.6M260.8 1418H2039.6M260.8 1347.7H2039.6M260.8 1277.3H2039.6" fill="none" stroke="#000" stroke-width="2.8" stroke-dasharray="11.6 4.8" stroke-dashoffset="2.7"/>
<path d="M260.8 1382.8L2039.6 1382.8" fill="none" stroke="#0000ff" stroke-width="10.8" stroke-linejoin="round" stroke-linecap="butt" clip-path="url(#c2)"/>
<g fill="#fff" stroke="#0000ff" stroke-width="2.7" clip-path="url(#c2)">
<rect x="248.1" y="1370.1" width="25.4" height="25.4"/>
<rect x="366.7" y="1370.1" width="25.4" height="25.4"/>
<rect x="485.3" y="1370.1" width="25.4" height="25.4"/>
<rect x="603.9" y="1370.1" width="25.4" height="25.4"/>
<rect x="722.4" y="1370.1" width="25.4" height="25.4"/>
<rect x="841" y="1370.1" width="25.4" height="25.4"/>
<rect x="959.6" y="1370.1" width="25.4" height="25.4"/>
<rect x="1078.2" y="1370.1" width="25.4" height="25.4"/>
<rect x="1196.8" y="1370.1" width="25.4" height="25.4"/>
<rect x="1315.4" y="1370.1" width="25.4" height="25.4"/>
<rect x="1434" y="1370.1" width="25.4" height="25.4"/>
<rect x="1552.6" y="1370.1" width="25.4" height="25.4"/>
<rect x="1671.1" y="1370.1" width="25.4" height="25.4"/>
<rect x="1789.7" y="1370.1" width="25.4" height="25.4"/>
<rect x="1908.3" y="1370.1" width="25.4" height="25.4"/>
<rect x="2026.9" y="1370.1" width="25.4" height="25.4"/>
</g>
<path d="M260.8 1700L264 1695.2L267.1 1692.6L270.3 1687.4L273.4 1678.6L276.6 1671.9L279.5 1670.7L282.4 1667L285.3 1665.6L288.6 1647.4L291.8 1626.9L295.3 1618.5L298.8 1613.2L302.3 1605.1C303.8 1592.9 308.8 1547.3 311.2 1531.9C313.6 1516.6 314.4 1511.8 316.7 1513C319.1 1514.1 322.8 1538.6 325.4 1539C328.1 1539.3 329.7 1521.4 332.7 1515.1C335.7 1508.7 340.6 1498.2 343.4 1501C346.2 1503.8 347.2 1521 349.7 1531.9C352.2 1542.8 355.2 1564.9 358.4 1566.4C361.7 1567.9 365.8 1542.4 369.3 1541.1C372.8 1539.8 376.5 1557.3 379.4 1558.7C382.3 1560.1 383.5 1546.7 386.5 1549.5C389.5 1552.3 393.3 1570.9 397.2 1575.5C401.1 1580.2 406.6 1570.9 410 1577.7C413.4 1584.5 415.3 1615.3 417.7 1616.3C420.2 1617.4 422.2 1590.8 424.8 1584C427.5 1577.2 430.4 1576.6 433.7 1575.5C437 1574.5 441.4 1587 444.6 1577.7C447.8 1568.3 449.9 1528 453.1 1519.3C456.3 1510.6 460.6 1528.4 463.8 1525.6C467 1522.8 469.6 1508.8 472.3 1502.4C474.9 1496 477.3 1486.6 479.8 1486.9C482.3 1487.3 484.8 1508 487.5 1504.5C490.2 1501 493.5 1470.9 496 1465.8C498.5 1460.8 500.7 1466.1 502.5 1474.3C504.3 1482.5 506.1 1508.3 506.9 1515.1L509.6 1514.7L512.3 1516.8L515 1516.2L517.7 1517.2L520.9 1529.9L524.1 1541.1L528.4 1566.4L531.7 1572.1L534.9 1579.8L538.2 1595.4L541.5 1610L545.4 1648L548.8 1657.8L552.1 1669.8L555 1679.1L557.8 1686.5L560.6 1695.8L563.5 1706.9L566.3 1715.6L569.1 1727.5L572.4 1744.4L575.6 1759.1L578.9 1779.7L582.2 1802.7L585.4 1812.1L588.7 1819.6L591.8 1836.4L594.8 1854.1L597.1 1865.7L599.4 1875.9L602.3 1878.5L605.2 1883.5L608.1 1886.4L610.9 1891.3L613.7 1899.4L616.6 1904.7L619.8 1910.1L623.1 1916.7L626.1 1918.2L629.1 1916.9L632.1 1919.2L635.1 1917.5L638.1 1918.8L642.3 1897L645.5 1896.8L648.8 1894.9L653.1 1912.4L656.3 1896.6L659.4 1882.2L662.7 1887.3L666 1890.6L669.2 1890.4L672.4 1891.8L675.6 1890.5L678.8 1892L682.1 1874.8L685.3 1856.2L688.5 1853.7L691.7 1854L694.8 1852L698.2 1830.3L701.5 1811.2L704.4 1808.2L707.3 1801.6L710.2 1798.5L713.2 1778.2L716.2 1755.6L719.5 1751.6L722.8 1750.6L726.1 1746.5L729 1734.4L731.9 1724.3L734.8 1712L737.1 1678.2L740 1675.7L742.8 1676L745.6 1674L748.6 1659.8L751.6 1648L754.4 1645L757.2 1638.7L760 1635.3L762.9 1633.3L765.8 1628.9L768.7 1626.9L771.7 1612.5L774.7 1596.6L777.4 1597.5L780.2 1601.6L783 1602.5L785.7 1605.1L790.1 1566.4L792.8 1563.8L795.4 1559L798.1 1558.2L800.8 1553.7L804 1533.5L807.3 1515.1L810.1 1513.1L813 1508.5L815.8 1506.6L818.9 1488.4L822.1 1467.9L824.4 1455.3L826.7 1444L829.5 1443.6L832.3 1440.3L835.2 1439.8L838.1 1445L841 1447.6L843.9 1452.5L847.1 1456.1L850.4 1457.8L853.7 1461.6L856.9 1464.1L860.1 1463.4L863.2 1466.4L866.4 1466L869.5 1467.9L872.4 1469.2L875.2 1468.8L878 1470L882.4 1441.9L886.7 1433.5L890.9 1454.6L893.5 1476.1L896 1495.4L898.6 1498.8L901.2 1504.5L904.2 1505.3L907.2 1503.5L910.3 1504.5L913.4 1523.8L916.6 1541.1L919.3 1558.2L921.9 1577.7L924.7 1584.2L927.5 1588.2L930.3 1588.1L933.1 1590.9L936 1590.3L938.9 1591.2L941.8 1595.5L944.6 1596.6L947.3 1597.6L950 1601.7L952.7 1602.2L955.3 1605.1L958.2 1606.5L961 1605.3L963.8 1607.8L966.7 1607.4L969.5 1609.7L972.3 1609.3L975.6 1615.9L978.8 1624.8L982.1 1639.7L985.4 1652.9L988.5 1640.8L991.7 1631.1L996 1607.2L999.3 1626L1002.6 1643.8L1005.7 1662.4L1008.9 1682.5L1011.6 1685.4L1014.3 1686.2L1017 1689.9L1019.8 1691.6L1022.9 1710.4L1026.1 1730.3L1029.3 1750.4L1032.6 1769L1035.3 1770.4L1038 1775.5L1040.8 1775.8L1043.5 1779.5L1046.4 1798.7L1049.4 1816.1L1052.8 1829.5L1056.1 1844.2L1059.4 1833.5L1062.6 1820.3L1065.9 1821.5L1069.2 1824.5L1072.1 1842.8L1075.1 1859L1078.1 1864.4L1081 1871.3L1084 1876.6L1087.4 1883.5L1090.9 1892.8L1093.9 1899.2L1096.8 1903.3L1099.8 1900.9L1102.8 1901.9L1105.7 1899.8L1108.5 1895.7L1111.3 1894.2L1114 1889.9L1117.3 1871.2L1120.6 1854.8L1123.7 1847L1126.9 1837.9L1129.8 1836.6L1132.7 1837.9L1135.6 1835.7L1138.5 1836.9L1141.4 1835.1L1144.3 1835.8L1146.8 1829.8L1149.3 1820.8L1151.8 1814L1155.4 1825.8L1159.1 1835.8L1162 1835L1165 1837.3L1167.9 1835.4L1170.8 1837.2L1173.7 1835.9L1176.7 1838.2L1179.6 1835.9L1182.5 1837.9L1185.5 1837L1188.4 1838.2L1191.3 1837.9L1194.5 1845.9L1197.6 1854.8L1200.6 1856.5L1203.6 1856L1206.5 1858.6L1209.5 1858.3L1212.5 1862.2L1215.4 1868.1L1219.8 1911L1224.1 1918.8L1227.3 1919.5L1230.6 1918.1L1233.8 1919.9L1237 1918.4L1240.3 1920L1243.5 1919.5L1247.6 1930L1250.9 1924.2L1254.2 1919.5L1257.4 1926.1L1260.7 1931.4L1263.4 1930.8L1266 1932.8L1268.7 1931L1271.4 1932.1L1274.1 1923.1L1276.9 1913.1L1279.5 1910L1282 1908.9L1285.3 1898.2L1288.6 1885L1291.6 1883.8L1294.6 1885.9L1297.6 1884.1L1300.6 1885.3L1303.6 1884.3L1306.8 1890.5L1310.1 1897.7L1313.1 1898.9L1316.1 1897.3L1319.1 1899.1L1322.1 1897.5L1325.1 1899.3L1328.1 1898.4L1331.1 1897.5L1334.2 1898.6L1337.3 1897.2L1340.3 1898.6L1343.4 1896.6L1346.5 1897.7L1350.8 1915.3L1354 1916.3L1357.3 1915.1L1360.5 1917.2L1363.7 1915.4L1367 1917.6L1370.2 1917.4L1373.4 1926.3L1376.7 1937.1L1379.9 1944.3L1383 1949.7L1386.2 1956L1389.3 1964.5L1392.3 1965.9L1395.3 1964.1L1398.2 1966.1L1401.2 1964.3L1404.2 1966.3L1407.1 1965L1410.1 1966.9L1413.1 1965.9L1417.4 1947.6L1420.3 1945.6L1423.2 1947L1426.1 1945.5L1429.3 1950.1L1432.4 1956L1435.3 1957.3L1438.1 1955.5L1441 1956.6L1443.8 1955.5L1446.7 1956L1449.6 1953.5L1452.5 1947.6L1455.4 1945.8L1458.3 1941.3L1461.2 1937.7L1464 1936.6L1466.8 1933.5L1469.7 1932.4L1472.7 1934.1L1475.6 1932.2L1478.5 1933.7L1481.4 1932L1484.4 1933.3L1487.3 1932L1490.2 1933.2L1493.1 1931.5L1496 1933.1L1499 1930.7L1501.9 1932.8L1504.8 1930.7L1507.7 1931.4L1510.8 1933.5L1513.9 1934.2L1516.1 1941.2L1518.4 1949.7L1521.7 1951.6L1524.9 1951.8L1528.1 1938.9L1531.3 1927.9L1534 1928.5L1536.8 1926L1539.6 1925.8L1542.4 1927.5L1545.3 1926.7L1548.1 1929.4L1551 1928L1553.8 1931.2L1556.7 1930L1559.5 1932.9L1562.4 1931.7L1565.3 1933.5L1568.6 1936.1L1571.9 1935.3L1575.2 1938.8L1578.5 1939.2L1581.5 1938.5L1584.5 1940.4L1587.5 1938.4L1590.5 1940.1L1593.5 1938L1596.5 1940.4L1599.6 1937.9L1602.6 1939.6L1605.6 1939.2L1608.8 1925.4L1612.1 1913.1L1615.3 1911.8L1618.4 1908.9L1621.5 1909.2L1624.5 1911L1626.9 1921.1L1629.3 1930L1632.5 1931.2L1635.6 1934.2L1638.8 1935L1642.1 1934L1645.3 1936.2L1648.5 1934.1L1651.8 1936.3L1655 1935.7L1658.2 1939.7L1661.5 1944.8L1664.7 1946.1L1667.9 1943.7L1671.1 1945.4L1674.3 1944.1L1677.5 1945.8L1680.6 1943.8L1683.8 1944.8L1686.8 1945.6L1689.8 1943.7L1692.7 1945.8L1695.7 1944.5L1698.7 1946.5L1701.6 1944.8L1704.6 1945.5L1708.9 1966.6L1713.3 1974.3L1716.5 1974.8L1719.7 1972.7L1722.9 1973.7L1726.1 1972.2L1729.1 1971.5L1732.1 1972.9L1735.1 1970.8L1738.2 1972.8L1741.2 1971.1L1744.2 1972.8L1747.2 1971L1750.2 1972.3L1753.2 1970.8L1756.2 1971.5L1760.5 1974.3L1763.7 1971.9L1766.9 1968L1769.9 1967.1L1772.9 1968.7L1776 1966.7L1779 1968L1782.1 1966.6L1785.3 1962.2L1788.6 1960.3L1791.4 1961.2L1794.1 1959.5L1796.9 1960.7L1799.7 1959.2L1802.4 1959.6L1805.2 1960.7L1808 1958.8L1810.8 1960.6L1813.7 1959.7L1816.5 1960.3L1819.7 1963.3L1823 1964.5L1825.6 1964L1828.3 1965.2L1831 1963.7L1833.7 1964.5L1838 1937.1L1840.6 1931.6L1843.1 1923.7L1846.4 1922.8L1849.7 1924L1853 1922.2L1856.3 1924.3L1859.5 1923L1862.8 1924.6L1866.1 1927.9L1869.1 1928.7L1872.1 1927.9L1875.1 1929.6L1878.1 1928.1L1881.1 1929.3L1884.3 1931L1887.4 1931.4L1891.8 1911L1895 1905.7L1898.3 1902.6L1901.1 1903.6L1904 1901L1906.8 1903.3L1909.6 1901.4L1912.5 1902.7L1915.3 1901L1918.2 1902.6L1921 1901.2L1924.2 1900.6L1927.5 1903.2L1930.7 1902.6L1934.8 1923.7L1938.1 1932.9L1941.4 1943.4L1944.6 1943.9L1947.9 1943.4L1951.2 1936.3L1954.4 1931.4L1957.4 1932.2L1960.3 1930.1L1963.2 1931.8L1966.2 1929.6L1969.1 1931.3L1972.1 1929.7L1975 1931L1977.9 1930L1982.3 1911L1986.6 1908.9L1991 1932.1L1994.1 1935.3L1997.3 1939.9L2000.2 1940.9L2003.1 1938.7L2006 1940.4L2008.9 1939.4L2011.8 1940.8L2014.7 1939.9L2017.9 1931.8L2021 1925.8L2024.1 1926.1L2027.2 1924.4L2030.3 1925.3L2033.4 1923.9L2036.5 1924.9L2039.6 1923.7" fill="none" stroke="#008000" stroke-width="10.6" stroke-linejoin="round" stroke-linecap="butt" clip-path="url(#c2)"/>
<g fill="#fff" stroke="#008000" stroke-width="2.7" clip-path="url(#c2)">
<path d="M260.8 1694.8L276.3 1721.6L245.3 1721.6Z"/>
<path d="M379.4 1545.7L394.9 1572.5L363.9 1572.5Z"/>
<path d="M498 1436.7L513.5 1463.5L482.5 1463.5Z"/>
<path d="M616.6 1884.7L632.1 1911.5L601.1 1911.5Z"/>
<path d="M735.1 1684.2L750.6 1711.1L719.6 1711.1Z"/>
<path d="M853.7 1444.4L869.2 1471.3L838.2 1471.3Z"/>
<path d="M972.3 1590.7L987.8 1617.6L956.8 1617.6Z"/>
<path d="M1090.9 1881.9L1106.4 1908.7L1075.4 1908.7Z"/>
<path d="M1209.5 1839.7L1225 1866.5L1194 1866.5Z"/>
<path d="M1328.1 1881.2L1343.6 1908L1312.6 1908Z"/>
<path d="M1446.7 1937.4L1462.2 1964.3L1431.2 1964.3Z"/>
<path d="M1565.3 1915.6L1580.8 1942.5L1549.8 1942.5Z"/>
<path d="M1683.8 1926.9L1699.3 1953.7L1668.3 1953.7Z"/>
<path d="M1802.4 1941.7L1817.9 1968.5L1786.9 1968.5Z"/>
<path d="M1921 1883.3L1936.5 1910.1L1905.5 1910.1Z"/>
<path d="M2039.6 1903L2055.1 1929.8L2024.1 1929.8Z"/>
</g>
<path d="M260.8 1631.1L262.5 1627.9L264.3 1637.8L266 1635.4L267.7 1645L269.4 1639.1L271.2 1646.1L272.9 1641.6L274.6 1648L276.5 1645.7L278.3 1632L280.1 1634.5L282 1620.9L283.8 1623.9L285.6 1611.4L287.5 1610L289.3 1614.4L291 1603.9L292.8 1612.7L294.6 1602.2L296.4 1605.8L298.2 1602.3L300 1589.5L301.8 1592.9L303.6 1580.2L305.4 1580.3L307.2 1567.1L309 1566.4L311 1578.5L312.9 1577.3L314.8 1595.4L316.7 1598.8L318.7 1588.4L320.6 1592.6L322.6 1579.2L324.5 1582.7L326.5 1570.7L328.4 1568.5L330 1573.9L331.7 1565.5L333.3 1573.2L334.9 1568.5L336.7 1569.3L338.5 1585L340.4 1584.4L342.2 1597.8L344 1594.7L345.8 1605.1L347.4 1610.3L349.1 1608.3L350.8 1616.9L352.4 1613.7L354.1 1618.5L355.8 1620.6L357.6 1608.5L359.3 1612.9L361 1602.7L362.8 1603L364.6 1609L366.5 1601.2L368.3 1611.2L370.2 1606.6L372 1615.6L373.9 1610.3L375.7 1619.1L377.5 1612.9L379.4 1618.5L381.3 1623.7L383.1 1617.6L385 1627.5L386.9 1623.2L388.8 1632.7L390.7 1629L392.4 1628.3L394.1 1637.4L395.9 1633L397.6 1644.1L399.4 1636L401.1 1643.8L403.1 1652.4L405 1650.3L406.9 1660.8L408.8 1663.5L410.8 1653.4L412.7 1656.2L414.6 1644.8L416.5 1643.8L418.4 1645.7L420.2 1638.3L422 1643.4L423.9 1636.3L425.7 1639.8L427.6 1632.7L429.4 1635.3L431.1 1636.7L432.9 1624.3L434.6 1627.8L436.3 1617.4L438.1 1618.5L439.8 1617.5L441.5 1608.9L443.2 1614.1L444.9 1600.9L446.6 1603L448.4 1606.9L450.2 1598.7L452 1607.7L453.8 1600.6L455.6 1608.7L457.5 1605.1L459.3 1597.8L461.1 1606.1L463 1596L464.8 1602.4L466.6 1591.8L468.5 1597.4L470.3 1592.4L471.9 1584.5L473.6 1591L475.2 1578.8L476.8 1579.8L478.6 1585.4L480.4 1578.5L482.1 1584.5L483.9 1577L485.6 1584.7L487.4 1579.3L489.2 1586.6L490.9 1579.1L492.7 1585.8L494.4 1581.2L496.2 1589L498 1584L499.9 1582L501.8 1588.7L503.6 1584.9L505.5 1591.6L507.4 1585L509.3 1593.8L511.2 1592.4L513.1 1592L514.9 1599.7L516.7 1596.4L518.6 1605.1L520.4 1601.8L522.2 1612.1L524.1 1610L525.8 1602.1L527.5 1609.6L529.3 1599.9L531 1602.6L532.8 1596.6L534.5 1595.6L536.2 1606.6L538 1605.8L539.7 1616.1L541.5 1616.3L543.3 1609.6L545.1 1614.1L547 1601.6L548.8 1606.3L550.6 1596.4L552.5 1598.6L554.3 1592.4L556.2 1591.7L558 1599L559.9 1594.7L561.7 1603.7L563.6 1598.3L565.4 1609.8L567.3 1605.7L569.1 1610L570.9 1612.5L572.7 1603.6L574.6 1608.6L576.4 1601.7L578.2 1606.2L580 1603L581.8 1599.9L583.7 1608.1L585.5 1603.6L587.3 1614.9L589.2 1606.1L591 1615.4L592.8 1614.2L594.7 1608.7L596.5 1613.3L598.3 1606L600.1 1612.5L602 1601L603.8 1606.1L605.6 1599.2L607.4 1605L609.3 1596.6L611.1 1602.3L612.9 1590.7L614.7 1598L616.6 1592.4L618.2 1585L619.8 1588.9L621.5 1576L623.1 1575.5L624.9 1576.6L626.6 1569.6L628.4 1573.5L630.2 1564.5L632 1571.7L633.8 1566.4L635.5 1565.5L637.2 1578.3L638.9 1571.5L640.6 1583.1L642.3 1584L644.1 1580.4L645.8 1588.7L647.6 1578.8L649.4 1586.5L651.2 1578.8L653 1585.5L654.8 1580.1L656.6 1584.6L658.4 1579L660.2 1584.8L662 1581.9L663.9 1578.3L665.8 1587.7L667.7 1580.1L669.6 1586.7L671.5 1578L673.3 1587.3L675.2 1579.7L677.1 1588.4L679 1584L680.8 1581.4L682.6 1588.1L684.4 1577.8L686.2 1586.4L688.1 1576.1L689.9 1582.6L691.7 1579.8L693.5 1575.7L695.4 1578.5L697.3 1570.3L699.1 1577.4L701 1565L702.8 1571.7L704.7 1566.4L706.5 1563.6L708.3 1573.6L710.1 1567.2L711.9 1577L713.7 1567.6L715.6 1578.8L717.4 1575.5L719.1 1569.5L720.9 1578.5L722.7 1568.5L724.5 1575L726.3 1568L728 1572.8L729.8 1567L731.6 1573.5L733.4 1564.3L735.1 1566.4L736.8 1565.4L738.5 1557.3L740.2 1559.7L741.9 1550.8L743.6 1554.4L745.3 1545.8L747 1545.3L748.7 1547.7L750.5 1539.4L752.2 1544.7L754 1535.4L755.7 1539L757.4 1545.8L759.2 1542.7L760.9 1555.4L762.7 1548.8L764.4 1558L766.2 1564.3L768.1 1562.1L769.9 1572.6L771.7 1566.7L773.6 1576.2L775.4 1574.3L777.2 1579.8L778.9 1580.7L780.6 1573.1L782.3 1576.7L784 1570.4L785.7 1570.6L787.5 1580L789.2 1573.6L791 1584.8L792.7 1582.7L794.4 1590.3L796.1 1592.2L797.8 1580.7L799.5 1583.6L801.2 1575.4L802.9 1575.5L804.7 1581.4L806.4 1575.4L808.2 1587.2L809.9 1582.1L811.6 1588.2L813.3 1589.9L815 1581L816.7 1585L818.4 1573.3L820.1 1575.5L821.9 1584.8L823.7 1582.2L825.5 1593.3L827.2 1593.3L829 1602.4L830.8 1605.1L832.7 1605.5L834.5 1614.5L836.3 1609.2L838.2 1619.5L840 1616.1L841.9 1622.7L843.5 1631.1L845.2 1626.9L846.9 1637.3L848.5 1634.3L850.2 1643.8L852 1658L853.7 1664.2L855.6 1654.1L857.4 1652.9L859.3 1638.7L861.2 1641.3L863 1629L864.8 1623.2L866.6 1626.9L868.4 1616.9L870.1 1620.7L871.9 1612.1L873.7 1617.9L875.5 1610L877.4 1607.5L879.2 1617.7L881.1 1611.4L883 1620.7L884.9 1612.3L886.7 1618.5L888.4 1617.3L890 1606.9L891.6 1611.2L893.3 1603L895 1604.6L896.7 1618.3L898.4 1617.1L900.1 1629.4L901.8 1631.1L903.5 1625.5L905.3 1631L907.1 1620.5L908.9 1626.7L910.7 1614.8L912.4 1616.3L914.2 1619.4L916 1613.5L917.8 1619.6L919.5 1613L921.3 1619.9L923.1 1614.1L924.9 1618.5L926.8 1619.3L928.7 1609.3L930.6 1614.2L932.5 1605.3L934.3 1611.9L936.2 1602.4L938.1 1603L939.8 1604.5L941.6 1598L943.3 1604.7L945 1596.7L946.7 1600.7L948.4 1594.4L950.2 1601.9L951.9 1593.7L953.6 1600.7L955.3 1594.5L957.2 1590.8L959.1 1597L961 1592.3L962.9 1597.8L964.8 1590.9L966.7 1597.1L968.5 1592.3L970.4 1598.3L972.3 1594.5L974.2 1590.2L976 1595L977.9 1586.5L979.8 1592.9L981.6 1583L983.5 1588.2L985.4 1584L987.2 1579.5L989 1585.2L990.8 1576.2L992.6 1578.7L994.4 1572.3L996.2 1577.4L998 1570.6L999.8 1564.7L1001.5 1571.6L1003.2 1560.1L1005 1565.3L1006.7 1560.1L1008.3 1561L1010 1573.4L1011.6 1570.5L1013.2 1577.7L1014.9 1580.2L1016.6 1569.8L1018.3 1573L1020 1565.5L1021.7 1566.4L1023.6 1574L1025.5 1571.4L1027.3 1582.7L1029.2 1576L1031 1588.7L1032.9 1583.6L1034.8 1592.4L1036.6 1594.7L1038.3 1584.4L1040.1 1588.6L1041.9 1578.7L1043.7 1587.1L1045.4 1579.8L1047.1 1570.6L1048.8 1571.8L1050.5 1560.7L1052.2 1561.4L1053.9 1551.6L1055.8 1546.7L1057.8 1554.9L1059.7 1548.7L1061.6 1555.7L1063.5 1546.9L1065.4 1554.2L1067.3 1548.7L1069.2 1551.6L1070.9 1558.8L1072.6 1555.5L1074.3 1565.3L1076 1560.4L1077.7 1566.4L1079.6 1571.9L1081.4 1564.1L1083.3 1570.7L1085.2 1566.8L1087.1 1571.7L1089 1567.2L1090.9 1570.6L1092.7 1578L1094.6 1571.3L1096.4 1583L1098.2 1578.5L1100 1588.5L1101.9 1582.4L1103.7 1592.9L1105.5 1592.4L1107.2 1585.4L1108.9 1586.5L1110.6 1575.4L1112.3 1575.9L1114 1568.5L1115.8 1563.1L1117.5 1566.5L1119.3 1557L1121 1563L1122.8 1552.8L1124.5 1555.9L1126.2 1559.8L1128 1552.6L1129.7 1559.1L1131.5 1548.5L1133.2 1556.5L1134.9 1547L1136.7 1555.1L1138.4 1548.8L1140.2 1552.6L1141.9 1549.5L1143.5 1553L1145.1 1567.5L1146.6 1564.2L1148.2 1575.5L1149.9 1582.6L1151.5 1581.9L1153.1 1592.1L1154.7 1594.5L1156.6 1591.5L1158.5 1597.1L1160.4 1590.2L1162.3 1595.8L1164.2 1588.8L1166.1 1595.5L1168 1592.4L1169.7 1592L1171.5 1605.5L1173.2 1603L1175 1615.8L1176.7 1612.7L1178.5 1620.6L1180.3 1624L1182.1 1619.4L1184 1625.3L1185.8 1620.2L1187.6 1628.1L1189.5 1621L1191.3 1624.8L1193.1 1626.8L1194.9 1616.9L1196.6 1619.6L1198.4 1611.9L1200.2 1615.8L1202 1610L1203.9 1601L1205.7 1604.9L1207.6 1595.7L1209.5 1594.5L1211.3 1602.8L1213.1 1603.2L1214.8 1617.2L1216.6 1612.3L1218.4 1623.4L1220.2 1628.9L1221.9 1626.9L1223.7 1635.5L1225.5 1630.6L1227.3 1637.4L1229 1643.2L1230.7 1640.9L1232.4 1652.4L1234.1 1649.2L1235.8 1659L1237.4 1653.6L1239.1 1661.4L1241.1 1661.2L1243.1 1647.8L1245.1 1650.2L1247 1641.7L1248.7 1637.6L1250.4 1643.5L1252.1 1637L1253.8 1643.2L1255.5 1637.1L1257.2 1641.9L1258.9 1639.5L1260.9 1633.4L1262.9 1634.3L1264.8 1624.6L1266.8 1624.8L1268.6 1620.4L1270.4 1606.6L1272.2 1607.1L1274.1 1593.4L1275.9 1591.4L1277.7 1581.9L1279.5 1578L1281.3 1586.6L1283.1 1578.1L1284.9 1586.4L1286.7 1578.8L1288.5 1585L1290.3 1580.2L1292.1 1588.2L1293.9 1580.3L1295.6 1586.1L1297.4 1584L1299.3 1586.7L1301.1 1601.1L1302.9 1600L1304.7 1610.7L1306.5 1610.8L1308.3 1620.6L1310.3 1622.1L1312.3 1610.2L1314.2 1612.8L1316.2 1601.8L1318.2 1603L1320.2 1601.4L1322.2 1592.4L1324.1 1595.6L1326.1 1582.8L1328.1 1584L1330.1 1591.1L1332 1585.1L1334 1593.2L1336 1589.2L1338 1594.5L1339.9 1605.5L1341.9 1608.9L1343.9 1625L1345.9 1629L1347.8 1629.6L1349.8 1643.8L1351.8 1644.8L1353.8 1652.9L1355.5 1657.2L1357.2 1646.9L1358.9 1656.8L1360.6 1648.3L1362.2 1656L1363.9 1646.5L1365.6 1650.8L1367.4 1659.6L1369.3 1655.6L1371.1 1669L1372.9 1663L1374.7 1674.7L1376.5 1676.1L1378.3 1675.3L1380.1 1683.7L1381.8 1680.9L1383.6 1691.7L1385.4 1689.5L1387.4 1690.7L1389.3 1703.1L1391.3 1704.3L1393.1 1706.6L1394.8 1720.6L1396.5 1722.2L1398.2 1732.4L1400.2 1728.5L1402.2 1713.6L1404.2 1714.1L1406.1 1702.1L1407.8 1694.1L1409.4 1701.3L1411.1 1693.7L1412.9 1688.1L1414.6 1694.7L1416.4 1684.8L1418.2 1692.4L1420 1685.3L1421.8 1682.6L1423.6 1692.1L1425.4 1686.1L1427.2 1694.3L1429 1687.6L1430.9 1693.7L1432.6 1695L1434.4 1684.6L1436.1 1692.4L1437.9 1680.6L1439.6 1688.4L1441.4 1678L1443.2 1683.3L1444.9 1676.1L1446.7 1676.1L1448.4 1674.9L1450.1 1660.5L1451.7 1664.1L1453.4 1649.4L1455.1 1650.5L1456.8 1638.6L1458.5 1637.4L1460.3 1642.6L1462.1 1638.6L1464 1649.2L1465.8 1643L1467.6 1652.2L1469.4 1650.8L1471.2 1646L1473.1 1647.9L1475 1640L1476.8 1642.6L1478.7 1633.4L1480.5 1636.5L1482.4 1629.5L1484.2 1629L1486 1632.9L1487.8 1627.8L1489.6 1639.5L1491.3 1631.1L1493.1 1637.4L1495.1 1631L1497.1 1614.7L1499 1611.6L1501 1596.6L1502.7 1599.2L1504.5 1608.7L1506.2 1607.7L1507.9 1616.3L1509.7 1626.8L1511.5 1624.3L1513.3 1637.8L1515.1 1635.2L1516.8 1643.8L1518.6 1644.5L1520.4 1629.9L1522.2 1634.9L1523.9 1619.8L1525.7 1620.6L1527.4 1623.5L1529.1 1614.1L1530.8 1618.6L1532.5 1609.1L1534.2 1615.5L1535.9 1606.4L1537.6 1607.2L1539.4 1612.3L1541.3 1606.5L1543.1 1613.2L1545 1608.2L1546.8 1617.7L1548.7 1610.1L1550.6 1618.4L1552.4 1616.3L1554.2 1615.1L1556.1 1622.6L1557.9 1617.5L1559.7 1625.3L1561.6 1620.8L1563.4 1628.1L1565.3 1626.9L1566.9 1618.8L1568.5 1620.9L1570.2 1611.4L1572 1614.5L1573.8 1630.1L1575.6 1628L1577.4 1644.8L1579.3 1645.4L1581.1 1655L1582.9 1658.7L1584.7 1651.8L1586.6 1660.5L1588.4 1652.4L1590.2 1658.8L1592.1 1653.2L1593.9 1657.1L1595.7 1658.8L1597.5 1647.2L1599.3 1652.9L1601.2 1644.1L1603 1646.3L1604.8 1641.7L1606.6 1638.1L1608.4 1646.6L1610.2 1639.9L1612 1646.2L1613.8 1638.6L1615.6 1646.7L1617.4 1640.2L1619.2 1645.4L1621 1641.4L1622.7 1646.6L1624.5 1643.8L1626.5 1643.4L1628.5 1656.8L1630.5 1652.7L1632.5 1667.8L1634.4 1667.7L1636.2 1664.5L1638 1672.9L1639.8 1666.3L1641.5 1676L1643.3 1668.8L1645.1 1675.2L1646.9 1668.5L1648.7 1678.6L1650.4 1672L1652.2 1676.1L1653.9 1680.1L1655.6 1675L1657.3 1681.9L1659 1673.8L1660.7 1682.8L1662.4 1675.3L1664.1 1680.3L1666.1 1691.6L1668 1693.7L1669.8 1689.5L1671.5 1695.7L1673.3 1685L1675.1 1693.8L1676.8 1685.7L1678.6 1691.4L1680.3 1681.8L1682.1 1689.7L1683.8 1683.9L1685.5 1675.9L1687.2 1682L1688.9 1667.9L1690.6 1672.5L1692.3 1662.6L1694 1664.8L1695.7 1659.2L1697.7 1658L1699.7 1670L1701.6 1671.9L1703.4 1664.2L1705.2 1667.6L1707 1655.8L1708.7 1657.6L1710.5 1650.8L1712.4 1648.9L1714.2 1657.2L1716.1 1652.7L1717.9 1662.7L1719.8 1657L1721.6 1665.4L1723.5 1659.5L1725.3 1665.6L1727.3 1659.3L1729.3 1640.6L1731.3 1635.3L1733.1 1643.7L1734.9 1636.5L1736.7 1647.7L1738.5 1644.8L1740.3 1654.1L1742.1 1655L1744 1648.4L1745.8 1653.9L1747.6 1643.4L1749.4 1649.8L1751.2 1639.1L1753 1641.7L1755 1636.7L1757 1623.5L1758.9 1620.6L1760.8 1621L1762.6 1609.8L1764.4 1614.1L1766.2 1606.6L1768 1610.3L1769.8 1603L1771.7 1597.5L1773.5 1601.6L1775.3 1592.4L1777.2 1598.8L1779 1586.8L1780.8 1593.4L1782.7 1586.1L1784.4 1586.4L1786.1 1601.6L1787.9 1598.4L1789.6 1607.2L1791.3 1616.1L1793 1615.4L1794.8 1630.3L1796.5 1631.1L1798.5 1621.1L1800.5 1624.9L1802.4 1616.3L1804.4 1620.3L1806.4 1639.3L1808.4 1643.8L1810.1 1643.5L1811.9 1651.6L1813.7 1644.5L1815.5 1653.2L1817.2 1652.9L1819.1 1647.1L1820.9 1652L1822.7 1641.4L1824.5 1646.4L1826.3 1637.8L1828.1 1637.4L1830.1 1633.8L1832.1 1619.4L1834 1621.1L1836 1611.4L1837.8 1603.4L1839.6 1606.7L1841.4 1595.4L1843.1 1597.4L1844.9 1589.6L1846.7 1593.8L1848.5 1610.4L1850.3 1608.3L1852 1623.7L1853.8 1629L1855.8 1619.8L1857.8 1622.7L1859.7 1607.5L1861.7 1607.2L1863.4 1620.9L1865.2 1622.7L1866.9 1641L1868.6 1646.6L1870.6 1634.3L1872.6 1635.8L1874.6 1622.7L1876.3 1622.5L1878 1638.7L1879.8 1636.1L1881.5 1643.8L1883.5 1639.1L1885.4 1622.2L1887.4 1619.3L1889.4 1607.2L1891.2 1608.9L1892.9 1620.3L1894.7 1613.9L1896.5 1626.8L1898.3 1626.9L1900.1 1619.9L1901.9 1623L1903.7 1611.8L1905.5 1618.4L1907.3 1608L1909.2 1607.2L1910.8 1613.4L1912.5 1606.1L1914.2 1616.7L1915.9 1612.8L1917.6 1621.5L1919.3 1617.2L1921 1622.7L1923 1633.1L1925 1634.7L1926.9 1649.7L1928.9 1655L1930.6 1652.2L1932.4 1661.8L1934.1 1654.8L1935.8 1661.4L1937.6 1663L1939.5 1650.5L1941.3 1655L1943.1 1644.9L1944.9 1651.4L1946.7 1643.8L1948.7 1638.2L1950.7 1640.4L1952.6 1633.6L1954.6 1633.2L1956.3 1643.9L1958.1 1639.8L1959.8 1653.3L1961.5 1657.1L1963.3 1649.6L1965.1 1650.9L1966.9 1640.6L1968.6 1642.2L1970.4 1633.2L1972.3 1628.5L1974.1 1638.8L1975.9 1631.6L1977.8 1639.6L1979.6 1630L1981.4 1637.5L1983.3 1635.3L1985.2 1638.3L1987.2 1656.5L1989.2 1659.2L1990.9 1644.5L1992.7 1644.5L1994.4 1625.4L1996.1 1620.6L1997.8 1624.7L1999.5 1619.2L2001.2 1625.8L2002.9 1618.1L2004.6 1624.5L2006.3 1620L2008 1622.7L2010 1619.7L2011.9 1601.3L2013.9 1600.5L2015.9 1590.3L2017.9 1584.4L2019.8 1586.9L2021.8 1575.5L2023.8 1579.6L2025.8 1570.6L2027.5 1569.1L2029.2 1579.1L2031 1574.6L2032.7 1583.4L2034.4 1578.1L2036.1 1586.2L2037.9 1581.1L2039.6 1586.8" fill="none" stroke="#ff0000" stroke-width="10.6" stroke-linejoin="round" stroke-linecap="butt" clip-path="url(#c2)"/>
<g fill="#fff" stroke="#ff0000" stroke-width="2.7" clip-path="url(#c2)">
<circle cx="260.8" cy="1631.1" r="13"/>
<circle cx="379.4" cy="1618.5" r="13"/>
<circle cx="498" cy="1584" r="13"/>
<circle cx="616.6" cy="1592.4" r="13"/>
<circle cx="735.1" cy="1566.4" r="13"/>
<circle cx="853.7" cy="1664.2" r="13"/>
<circle cx="972.3" cy="1594.5" r="13"/>
<circle cx="1090.9" cy="1570.6" r="13"/>
<circle cx="1209.5" cy="1594.5" r="13"/>
<circle cx="1328.1" cy="1584" r="13"/>
<circle cx="1446.7" cy="1676.1" r="13"/>
<circle cx="1565.3" cy="1626.9" r="13"/>
<circle cx="1683.8" cy="1683.9" r="13"/>
<circle cx="1802.4" cy="1616.3" r="13"/>
<circle cx="1921" cy="1622.7" r="13"/>
<circle cx="2039.6" cy="1586.8" r="13"/>
</g>
<rect x="490" y="1239.6" width="1465" height="79.2" fill="#fff" stroke="#000" stroke-width="2.3"/>
<path d="M497.2 1279.2H624.6" stroke="#0000ff" stroke-width="10.2" stroke-linecap="round" fill="none"/>
<g fill="#fff" stroke="#0000ff" stroke-width="2.7"><rect x="548.2" y="1266.5" width="25.4" height="25.4"/></g>
<text x="640.7" y="1297.8" font-size="57.5" text-anchor="start">Without Control</text>
<path d="M1046.1 1279.2H1174.9" stroke="#008000" stroke-width="10.2" stroke-linecap="round" fill="none"/>
<g fill="#fff" stroke="#008000" stroke-width="2.7"><path d="M1110.5 1261.3L1126 1288.1L1095 1288.1Z"/></g>
<text x="1190.1" y="1297.8" font-size="57.5" text-anchor="start">With MFC</text>
<path d="M1468.9 1279.2H1597.1" stroke="#ff0000" stroke-width="10.2" stroke-linecap="round" fill="none"/>
<g fill="#fff" stroke="#ff0000" stroke-width="2.7"><circle cx="1533" cy="1279.2" r="13"/></g>
<text x="1612.8" y="1297.8" font-size="57.5" text-anchor="start">With Proposed</text>
<path d="M260.8 2051v23.4M359.6 2051v11.4M458.4 2051v23.4M557.3 2051v11.4M656.1 2051v23.4M754.9 2051v11.4M853.7 2051v23.4M952.6 2051v11.4M1051.4 2051v23.4M1150.2 2051v11.4M1249 2051v23.4M1347.8 2051v11.4M1446.7 2051v23.4M1545.5 2051v11.4M1644.3 2051v23.4M1743.1 2051v11.4M1842 2051v23.4M1940.8 2051v11.4M2039.6 2051v23.4M458.4 1207v10.4M656.1 1207v22.4M853.7 1207v10.4M1051.4 1207v22.4M1249 1207v10.4M1446.7 1207v22.4M1644.3 1207v10.4M1842 1207v22.4M260.8 1207h-23.4M260.8 1347.7h-23.4M260.8 1488.3h-23.4M260.8 1629h-23.4M260.8 1769.7h-23.4M260.8 1910.3h-23.4M260.8 2051h-23.4M260.8 1277.3h-11.4M260.8 1418h-11.4M260.8 1558.7h-11.4M260.8 1699.3h-11.4M260.8 1840h-11.4M260.8 1980.7h-11.4M2039.6 1347.7h-22.4M2039.6 1488.3h-22.4M2039.6 1629h-22.4M2039.6 1769.7h-22.4M2039.6 1910.3h-22.4M2039.6 1277.3h-10.4M2039.6 1418h-10.4M2039.6 1558.7h-10.4M2039.6 1699.3h-10.4M2039.6 1840h-10.4M2039.6 1980.7h-10.4" fill="none" stroke="#000" stroke-width="5.8" stroke-linecap="round"/>
<path d="M260.8 1207H2039.6V2051H260.8Z" fill="none" stroke="#000" stroke-width="5.2" stroke-linejoin="miter"/>
<g font-size="59" text-anchor="end">
<text x="221.3" y="1225.7">600</text>
<text x="221.3" y="1366.4">400</text>
<text x="221.3" y="1507.1">200</text>
<text x="221.3" y="1647.7">0</text>
<text x="221.3" y="1788.4">-200</text>
<text x="221.3" y="1929.1">-400</text>
<text x="221.3" y="2069.7">-600</text>
</g><g font-size="59" text-anchor="middle">
<text x="260.8" y="2135.7">1</text>
<text x="458.4" y="2135.7">2</text>
<text x="656.1" y="2135.7">3</text>
<text x="853.7" y="2135.7">4</text>
<text x="1051.4" y="2135.7">5</text>
<text x="1249" y="2135.7">6</text>
<text x="1446.7" y="2135.7">7</text>
<text x="1644.3" y="2135.7">8</text>
<text x="1842" y="2135.7">9</text>
<text x="2039.6" y="2135.7">10</text>
</g>
<text transform="translate(86 1630) rotate(-90)" font-size="76" text-anchor="middle">Torque (Nm)</text>
<text x="1150" y="2213.8" font-size="75.7" text-anchor="middle">Time (s)</text>
<text x="1047" y="2319.2" font-size="77.5" text-anchor="middle">(<tspan font-weight="bold">h</tspan>)</text>
<path d="M333.9 2380V3193.3M434.1 2380V3193.3M534.3 2380V3193.3M634.5 2380V3193.3M734.7 2380V3193.3M834.9 2380V3193.3M935.1 2380V3193.3M1035.3 2380V3193.3M1135.5 2380V3193.3M1235.8 2380V3193.3M1336 2380V3193.3M1436.2 2380V3193.3M1536.4 2380V3193.3M1636.6 2380V3193.3M1736.8 2380V3193.3M1837 2380V3193.3M1937.2 2380V3193.3" fill="none" stroke="#000" stroke-width="2.8" stroke-dasharray="11.6 4.7" stroke-dashoffset="10.9"/>
<path d="M233.7 3091.6H2037.4M233.7 2990H2037.4M233.7 2888.3H2037.4M233.7 2786.7H2037.4M233.7 2685H2037.4M233.7 2583.3H2037.4M233.7 2481.7H2037.4" fill="none" stroke="#000" stroke-width="2.8" stroke-dasharray="11.6 4.8" stroke-dashoffset="2.7"/>
<path d="M233.7 2766.3L235.2 2761.4L236.6 2763.3L238.1 2754.3L239.5 2759.9L241 2749.7L242.4 2752.1L243.9 2743.7L245.3 2744L246.7 2746.6L248.1 2736.5L249.5 2741.8L250.9 2729.8L252.3 2734.7L253.7 2729.7L255.3 2721.8L256.9 2726L258.5 2714.7L260 2720.6L261.6 2708.4L263.2 2709.2L264.8 2703.3L266.4 2708.7L268 2729.3L269.6 2734L271.2 2748L272.8 2752.7L274.3 2747L275.9 2757.7L277.5 2750.2L279.1 2757.3L280.6 2751.3L282.2 2761.1L283.8 2758.2L285.4 2750.3L287 2759.5L288.5 2748.6L290.1 2752.9L291.7 2742.7L293.3 2751.9L294.8 2744L296.3 2736L297.7 2737.4L299.1 2721.2L300.6 2725.5L302 2712.2L303.4 2709.4L304.8 2713.2L306.2 2701.7L307.7 2708.2L309.1 2699.4L310.5 2705.6L311.9 2701.3L313.3 2694.3L314.8 2695.3L316.3 2683.8L317.8 2686.2L319.3 2677.9L320.7 2682.4L322.1 2701.5L323.5 2699.5L324.9 2714.5L326.5 2724.7L328.2 2717.1L329.8 2732.6L331.5 2731.8L333.1 2737.1L334.7 2751.8L336.3 2753.1L337.9 2766.3L339.5 2767.2L341.1 2755L342.7 2758.9L344.3 2753.1L345.8 2751.7L347.2 2761.7L348.6 2753.1L350 2763.8L351.5 2758L352.9 2765.6L354.3 2757.7L355.7 2769.5L357.2 2766.3L358.7 2759.5L360.2 2767.4L361.8 2759.8L363.3 2768.1L364.9 2758.1L366.4 2766.3L368 2760.2L369.5 2759.2L371.1 2769.3L372.6 2767.6L374.2 2779.3L375.7 2774.1L377.3 2782.8L378.8 2783.2L380.2 2781.7L381.6 2791.9L383.1 2783.5L384.5 2794.8L385.9 2788.8L387.3 2799.9L388.8 2793.5L390.2 2802.1L391.6 2800.5L393.1 2796.9L394.5 2807L396 2801.1L397.4 2806.8L398.9 2802.6L400.3 2811.1L401.8 2802.3L403.2 2814L404.7 2809L406.1 2803L407.5 2810.2L408.9 2801.1L410.4 2811.2L411.8 2800.8L413.2 2805.5L414.6 2798.8L416.1 2804.6L417.5 2800.5L419.1 2796.6L420.6 2800.6L422.2 2794.6L423.8 2801.6L425.4 2792.7L426.9 2798.4L428.5 2789.9L430.1 2791.7L431.5 2789.5L432.8 2776.3L434.2 2779.7L435.6 2768.6L436.9 2766.3L438.5 2761.6L440.1 2744.2L441.7 2744.5L443.3 2731.8L444.9 2711.2L446.5 2705.2L448.1 2682.3L449.7 2671.4L451.1 2663.4L452.5 2641.7L454 2637.7L455.4 2619.9L456.9 2594.7L458.4 2577.2L459.8 2580.9L461.2 2576.7L462.6 2585.4L464 2581.3L465.5 2563.1L467 2554.9L468.6 2553.3L470.2 2535.3L471.8 2537.1L473.4 2525.4L474.9 2514.2L476.3 2513.9L477.8 2500L479.4 2501L481 2510.8L482.6 2508L484.2 2514.2L485.7 2527.3L487.2 2530L488.7 2546.6L490.1 2547.5L491.6 2562L493 2563.7L494.4 2554L495.8 2559.7L497.2 2547.1L498.6 2555L500 2544.9L501.4 2544.7L502.9 2564.1L504.3 2568.9L505.7 2589.4L507.3 2607.8L509 2617L510.6 2640.4L512.3 2650.4L513.9 2658.6L515.5 2677.5L517.1 2680.2L518.7 2697.2L520.3 2718.1L521.9 2728.9L523.5 2752L525.1 2766.3L526.5 2785.9L527.9 2817.2L529.3 2835.4L530.8 2850.2L532.2 2877.2L533.7 2890.3L535.1 2899.5L536.5 2916.5L537.9 2924.9L539.4 2919.7L540.8 2927.5L542.2 2918.8L543.7 2927.9L545.1 2918.3L546.5 2920.8L547.9 2932.3L549.3 2935.9L550.8 2950.8L552.2 2955.4L553.9 2944.7L555.6 2944.4L557.4 2933L559 2923.6L560.6 2920.4L562.2 2907.4L563.8 2903.6L565.3 2902.1L566.8 2887.2L568.3 2889.6L569.8 2873.1L571.4 2874.6L572.9 2859.2L574.4 2857.8L575.9 2857L577.4 2845.7L578.9 2851.8L580.4 2838.4L581.9 2842.1L583.4 2832.5L584.9 2835.5L586.4 2827.3L587.9 2822.8L589.4 2827.5L590.9 2818L592.4 2826.3L593.9 2814.1L595.4 2821.3L596.9 2810L598.4 2817.1L600 2808.5L601.5 2815.1L603 2804.4L604.5 2807L606 2809.7L607.5 2802.9L609 2811.7L610.5 2803.1L612 2810.8L613.5 2803.5L615 2811.4L616.5 2800.6L618 2808.5L619.5 2799L621 2810L622.5 2802.2L624 2807.4L625.5 2800.1L627 2809.9L628.5 2801.1L630 2805.8L631.5 2800L633 2805.4L634.5 2802.9L636 2798.1L637.5 2804.9L639 2795.7L640.5 2801.1L642 2795.1L643.5 2801.4L645 2791.3L646.5 2797.9L648 2788.9L649.6 2796.5L651.1 2785L652.6 2794.8L654.1 2783.4L655.6 2790.7L657.1 2783.4L658.6 2787.5L660.1 2778.5L661.6 2785.1L663.1 2777.3L664.6 2780.6L666.1 2786.8L667.6 2778.4L669.1 2786L670.6 2779.3L672.1 2789.4L673.6 2779.4L675.1 2790.2L676.6 2783.2L678.1 2791L679.6 2782.8L681.1 2790.9L682.6 2782.6L684.1 2793.4L685.6 2783.4L687.1 2794.7L688.6 2784.7L690.1 2794.7L691.6 2787.3L693.1 2797.3L694.6 2792.7L696.1 2788.1L697.7 2793.8L699.2 2785.9L700.7 2795L702.2 2783.2L703.7 2790.5L705.2 2783.5L706.7 2789.2L708.2 2782L709.7 2790.5L711.2 2780.1L712.7 2786.3L714.2 2779L715.7 2785.2L717.2 2775.8L718.7 2783.2L720.2 2776.1L721.7 2781.1L723.2 2774.2L724.7 2776.5L726.3 2778.7L727.8 2766.9L729.4 2771.4L730.9 2760.4L732.5 2764.7L734.1 2753L735.6 2757.9L737.2 2745.6L738.7 2746L740.3 2740.3L741.9 2727.3L743.5 2726.8L745.1 2709.2L746.8 2705.3L748.2 2698.6L749.6 2680.5L751.1 2678.1L752.5 2658.6L753.9 2654.3L755.4 2641.3L756.9 2634.9L758.5 2640.8L760 2630.2L761.6 2638L763.1 2626.7L764.6 2632.5L766.2 2628.1L767.6 2629L769.1 2644.1L770.5 2639.9L771.9 2656.6L773.4 2652.6L774.8 2662.6L776.4 2680L778 2683.5L779.6 2704.6L781.2 2714.5L782.8 2718.8L784.4 2736.8L786 2735.8L787.6 2748.8L789.1 2758.8L790.5 2754.8L791.9 2771.9L793.4 2768.6L794.8 2779.9L796.3 2783.2L797.7 2784.4L799.1 2797.2L800.6 2794.3L802 2809.8L803.4 2807.3L804.9 2817.1L806.5 2830.1L808.1 2826.9L809.7 2842.7L811.3 2847.6L812.7 2847.4L814.2 2857.6L815.6 2854.5L817 2864.6L818.5 2860.1L819.9 2869.2L821.5 2881.3L823.1 2882.8L824.7 2900.6L826.3 2903.6L827.8 2902.8L829.2 2916.1L830.6 2913.2L832.1 2926.5L833.5 2923.6L834.9 2931L836.4 2944.5L837.9 2947.3L839.3 2963.5L840.8 2972.7L842.2 2971.6L843.7 2987.8L845.1 2984.9L846.5 2999.2L848 3002.2L849.6 2987.1L851.2 2988L852.8 2970.8L854.4 2963.5L856 2952.9L857.7 2926.4L859.3 2918L861 2898.5L862.5 2880L864 2869.4L865.5 2845.9L867 2835.4L868.5 2819.2L870.1 2788.6L871.6 2770.4L873.2 2759.2L874.8 2740L876.4 2732.2L878 2714.5L879.5 2703L881 2700.4L882.5 2686.7L884 2687.1L885.4 2673.6L887 2676.8L888.5 2688.3L890 2686.1L891.5 2698.5L893.1 2701.3L894.6 2703.6L896.1 2712.8L897.6 2712.3L899.1 2719.6L900.6 2726.5L902.1 2716.1L903.6 2727.5L905.1 2718L906.6 2728L908.1 2725.7L909.5 2729.1L910.9 2744.2L912.3 2740.7L913.7 2757.4L915.1 2758.2L916.7 2761.4L918.3 2775.3L919.9 2773.4L921.5 2790.6L923.1 2791.7L924.6 2794.6L926.1 2806L927.5 2806.4L929 2818.4L930.5 2814L931.9 2825.3L933.4 2834.7L934.8 2832.8L936.2 2845.3L937.7 2841L939.1 2853.2L940.5 2855.8L942 2846.7L943.4 2853.7L944.9 2841.6L946.3 2845.7L947.7 2836.1L949.2 2835.4L950.8 2847.9L952.4 2849L954 2864.1L955.6 2865L957.2 2878.1L958.6 2889.7L960 2886.2L961.4 2904.8L962.8 2901.9L964.2 2912.7L965.6 2916.9L967.1 2907.8L968.5 2914.5L969.9 2905.7L971.4 2915.2L972.8 2908.6L974.4 2910.4L976 2920.7L977.6 2917.4L979.2 2924.9L980.8 2933.6L982.4 2926L984 2939.2L985.6 2936.3L987.2 2942.2L988.8 2933.7L990.5 2912L992.1 2903.6L993.7 2898.7L995.4 2879.1L997 2878.5L998.7 2864.9L1000.1 2855.8L1001.5 2860.2L1003 2848L1004.4 2848.3L1005.9 2835.6L1007.3 2835.4L1008.8 2838.7L1010.3 2824.4L1011.8 2830.8L1013.4 2819.1L1014.9 2825.6L1016.4 2815.9L1017.9 2817.1L1019.4 2821.9L1020.9 2816.8L1022.4 2826.9L1023.9 2820.5L1025.4 2833.1L1026.9 2826.7L1028.4 2836L1029.9 2829L1031.4 2838.6L1032.9 2835.2L1034.4 2845.3L1035.9 2836.7L1037.3 2843.6L1038.9 2846.3L1040.4 2837.4L1042 2843.6L1043.5 2832.5L1045.1 2838.2L1046.6 2828.2L1048.2 2830.6L1049.6 2830.8L1051 2817.6L1052.5 2823.7L1053.9 2811.5L1055.4 2817.7L1056.8 2809L1058.3 2801.9L1059.9 2809.1L1061.4 2801.5L1063 2809.4L1064.6 2797.8L1066.1 2804.4L1067.7 2794L1069.2 2800.7L1070.8 2793.7L1072.3 2797.8L1073.9 2789.4L1075.4 2792.7L1076.9 2798.5L1078.3 2793L1079.7 2801.9L1081.1 2796.8L1082.6 2806.5L1084 2798.4L1085.4 2808.8L1086.9 2807L1088.4 2805.1L1090 2816.4L1091.6 2813.4L1093.2 2823.9L1094.7 2822.2L1096.3 2832.6L1097.9 2829.5L1099.5 2835.4L1100.9 2830.6L1102.4 2818.3L1103.9 2817.2L1105.4 2801L1106.8 2802.2L1108.3 2791.7L1109.8 2787.3L1111.3 2793.2L1112.8 2781L1114.4 2790.5L1115.9 2780.4L1117.4 2783.6L1118.9 2775.2L1120.4 2783.2L1122 2771.2L1123.5 2779.1L1125 2768.8L1126.5 2773.9L1128 2763.4L1129.5 2766.3L1131 2770.7L1132.4 2764.9L1133.9 2775.7L1135.3 2766.5L1136.8 2777.9L1138.3 2769.1L1139.7 2781.8L1141.2 2772.7L1142.6 2781.6L1144.1 2776.9L1145.5 2783.5L1147 2782.6L1148.6 2774.4L1150.1 2781.8L1151.7 2770.5L1153.3 2777.9L1154.9 2765.1L1156.4 2771L1158 2760.4L1159.6 2762.3L1161.1 2766.3L1162.5 2762.5L1164 2770.7L1165.4 2763.7L1166.9 2775.2L1168.3 2767.8L1169.8 2777.5L1171.3 2772.1L1172.7 2780.8L1174.2 2776.6L1175.6 2780.6L1177.2 2786.1L1178.7 2779L1180.3 2791.9L1181.8 2785.6L1183.3 2794.8L1184.9 2787.7L1186.4 2797.7L1188 2793.3L1189.5 2803.2L1191 2798.1L1192.6 2808.6L1194.1 2802.8L1195.7 2807L1197.2 2811.7L1198.7 2800.6L1200.2 2808.2L1201.7 2800.5L1203.2 2808.3L1204.7 2797.2L1206.2 2804.1L1207.7 2797L1209.2 2802L1210.7 2798.7L1212.3 2790.1L1213.9 2794.4L1215.4 2783.2L1217 2787.4L1218.6 2775.4L1220.2 2777.1L1221.7 2770.4L1223.2 2769.2L1224.8 2784L1226.3 2777.3L1227.8 2790.9L1229.3 2785.7L1230.8 2800.1L1232.3 2798.7L1233.8 2800.3L1235.2 2809.7L1236.6 2806.8L1238 2819.1L1239.5 2814.6L1240.9 2826.9L1242.3 2822.6L1243.7 2835.4L1245.2 2833.4L1246.8 2833.2L1248.3 2844.9L1249.9 2839.5L1251.5 2853L1253.1 2846.9L1254.6 2857.7L1256.2 2854.5L1257.8 2861.9L1259.4 2862.1L1261 2851.4L1262.5 2855L1264.1 2842.3L1265.7 2847.2L1267.2 2833.9L1268.8 2833.4L1270.4 2831.1L1272 2812.2L1273.5 2812.6L1275.1 2796L1276.7 2794.9L1278.3 2782.2L1279.8 2776.5L1281.3 2778.1L1282.8 2767.6L1284.3 2771.8L1285.8 2760.5L1287.3 2766.5L1288.7 2755.3L1290.2 2762L1291.7 2748.8L1293.2 2753.9L1294.7 2748.6L1296.2 2747.9L1297.8 2762.7L1299.3 2759.3L1300.9 2769.3L1302.4 2768.6L1304 2778.4L1305.5 2780.6L1307 2779.6L1308.5 2793.2L1310 2786.6L1311.5 2797.2L1312.9 2794.6L1314.4 2806.6L1315.9 2804.1L1317.4 2797.7L1318.9 2802.9L1320.3 2792.1L1321.8 2799.4L1323.3 2787.7L1324.7 2795.6L1326.2 2786.3L1327.7 2790.1L1329.1 2785.2L1330.7 2781.6L1332.3 2787.7L1333.9 2777.6L1335.5 2784.5L1337.1 2772.7L1338.6 2780.4L1340.2 2771.2L1341.8 2778.8L1343.4 2772.4L1344.9 2772.2L1346.5 2784.7L1348.1 2782.7L1349.7 2793.2L1351.2 2792.2L1352.8 2798.7L1354.2 2806.6L1355.7 2800.7L1357.1 2813.7L1358.6 2808.1L1360 2820.1L1361.5 2814.2L1362.9 2827.2L1364.4 2820.8L1365.8 2828.3L1367.2 2833.5L1368.7 2824.8L1370.1 2832.6L1371.5 2827.7L1372.9 2835.9L1374.4 2826.2L1375.8 2835.6L1377.2 2826.3L1378.6 2832.4L1380.2 2828.8L1381.7 2814.5L1383.3 2817.1L1384.8 2804.1L1386.4 2802.8L1387.9 2791.5L1389.5 2787.3L1391 2797.1L1392.5 2796.2L1394 2812.3L1395.5 2813.1L1397.1 2826.4L1398.6 2823.5L1400.1 2836.5L1401.5 2840.3L1403 2830.5L1404.4 2836.4L1405.9 2827.5L1407.3 2832.7L1408.8 2823.7L1410.2 2829.2L1411.7 2821.7L1413.1 2824.3L1414.6 2828.4L1416 2816L1417.5 2824.1L1418.9 2812.6L1420.4 2822.1L1421.8 2811.6L1423.3 2818.9L1424.7 2805.9L1426.1 2809.9L1427.6 2812.4L1429 2804.1L1430.4 2809.3L1431.9 2799.5L1433.3 2807.9L1434.7 2797.3L1436.2 2798.7L1437.7 2806L1439.2 2798.4L1440.6 2810.3L1442.1 2805.1L1443.6 2816.3L1445.1 2809.9L1446.6 2820.9L1448.1 2812.2L1449.6 2820.2L1451.2 2828.4L1452.9 2826L1454.6 2835.6L1456.2 2836.5L1457.7 2832.4L1459.2 2835.8L1460.8 2827.7L1462.3 2833.8L1463.8 2822.5L1465.3 2828.3L1466.8 2824.3L1468.3 2813.5L1469.7 2815.3L1471.2 2802.1L1472.6 2803.4L1474.1 2792L1475.5 2795.4L1477 2778.4L1478.4 2780.5L1479.9 2772.4L1481.3 2774.1L1482.7 2788.7L1484.1 2785.6L1485.6 2797.5L1487 2795.8L1488.4 2807.5L1489.8 2805.6L1491.3 2817.5L1492.7 2820.2L1494.1 2809.2L1495.6 2809.5L1497 2790.2L1498.4 2791.4L1499.9 2776.1L1501.3 2770.4L1502.7 2779.9L1504.2 2779.6L1505.6 2795.6L1507.1 2795.8L1508.5 2810.7L1510 2808.2L1511.4 2821.8L1512.9 2820.9L1514.3 2832.4L1515.8 2830.7L1517.4 2814.1L1518.9 2814.3L1520.4 2800.5L1521.9 2799.3L1523.4 2782.4L1524.9 2780.6L1526.4 2790.2L1527.8 2784.9L1529.3 2797.7L1530.7 2790.1L1532.2 2803.3L1533.6 2798.4L1535.1 2810.9L1536.5 2805.8L1538 2815.5L1539.5 2820.7L1541 2808.7L1542.6 2817.8L1544.1 2808.9L1545.7 2818L1547.2 2808.4L1548.7 2814.6L1550.3 2807.1L1551.8 2816.6L1553.3 2806.3L1554.9 2816L1556.4 2809.9L1557.9 2801.5L1559.3 2809.4L1560.8 2798.8L1562.2 2803.8L1563.7 2794.4L1565.1 2797.6L1566.6 2786.1L1568 2789.5L1569.6 2791.5L1571.1 2781.9L1572.7 2789.5L1574.2 2776.9L1575.8 2782.5L1577.3 2774.6L1578.9 2776.5L1580.4 2784.6L1581.9 2781.3L1583.4 2793.3L1584.9 2787.6L1586.4 2801.4L1587.9 2797.3L1589.4 2806.6L1590.9 2804.4L1592.4 2815.7L1593.9 2815.5L1595.4 2810.5L1596.9 2815.8L1598.4 2806.3L1599.9 2810.2L1601.4 2800.6L1602.9 2808.2L1604.5 2796.4L1606 2804.3L1607.5 2792.7L1609 2800.8L1610.5 2790.3L1612 2798.2L1613.5 2787L1615 2794.5L1616.5 2786.7L1618 2770.1L1619.5 2768.1L1621 2747.6L1622.5 2737.9L1624 2731.5L1625.5 2713.4L1627 2711.4L1628.5 2689.9L1630 2685L1631.3 2695.5L1632.7 2691.5L1634 2702.6L1635.4 2705.3L1636.9 2695.4L1638.5 2700.1L1640 2687.8L1641.6 2689.1L1643.2 2695.9L1644.9 2689L1646.5 2701.2L1648.2 2695.8L1649.8 2701.3L1651.4 2713L1652.9 2713.9L1654.5 2730.5L1656 2733.8L1657.5 2729.6L1658.9 2740.9L1660.4 2731.3L1661.9 2739.6L1663.3 2734.1L1664.8 2741.1L1666.2 2737.9L1667.7 2732.3L1669.2 2740.3L1670.7 2732.2L1672.2 2736.1L1673.7 2727.5L1675.2 2736L1676.7 2729.7L1678.2 2728L1679.7 2740.5L1681.2 2737L1682.7 2746L1684.3 2746.6L1685.9 2735.1L1687.5 2741L1689.1 2729.3L1690.7 2729.7L1692.2 2741.3L1693.7 2738.1L1695.2 2753.3L1696.7 2758.2L1698.2 2757.4L1699.6 2771.2L1701.1 2763.1L1702.6 2775.2L1704 2770.5L1705.5 2779.1L1707 2784.8L1708.4 2775.4L1709.8 2783.4L1711.3 2775.9L1712.7 2785.1L1714.2 2776.3L1715.6 2784L1717.1 2773.2L1718.5 2785L1719.9 2779.1L1721.5 2771.1L1723.1 2777.7L1724.6 2765.5L1726.2 2774.1L1727.7 2762.3L1729.3 2767L1730.8 2757.4L1732.4 2758.2L1733.9 2758.9L1735.4 2748.6L1736.8 2754.1L1738.3 2741.9L1739.8 2747.2L1741.3 2738L1742.8 2739.9L1744.4 2748.1L1746 2742.8L1747.6 2759.3L1749.2 2752.9L1750.8 2762.3L1752.2 2763.8L1753.6 2751.9L1755 2756.9L1756.4 2745.6L1757.8 2750.6L1759.2 2741.9L1760.9 2729.4L1762.5 2728.7L1764.2 2714.6L1765.8 2713L1767.4 2701.3L1768.8 2695.1L1770.3 2700.5L1771.7 2689.2L1773.1 2692.6L1774.5 2684.3L1775.9 2685L1777.2 2667.8L1778.5 2637L1779.9 2622L1781.4 2611.4L1783 2584.9L1784.5 2579L1786.1 2556.9L1787.6 2551.8L1789.1 2554.9L1790.5 2546.9L1792 2550.2L1793.5 2544.7L1795 2545.6L1796.6 2557L1798.1 2551.3L1799.6 2564.4L1801.2 2561.7L1802.7 2569.1L1804.3 2571L1805.8 2559.2L1807.4 2567.1L1808.9 2561L1810.3 2576.7L1811.6 2607.6L1812.9 2626L1814.5 2627.7L1816.1 2642.4L1817.7 2638.8L1819.4 2655L1821 2655.5L1822.4 2664.4L1823.8 2681.3L1825.2 2687.3L1826.6 2701.3L1828 2709.4L1829.5 2703.3L1830.9 2714.4L1832.4 2713.5L1833.7 2722.4L1835.1 2741L1836.4 2741.1L1837.8 2758.2L1839.3 2767.5L1840.9 2766.5L1842.5 2783.5L1844 2786.7L1845.6 2793.6L1847.1 2807.9L1848.7 2810.3L1850.2 2824.7L1851.8 2837.2L1853.3 2835.5L1854.9 2852L1856.4 2853.7L1858 2849.6L1859.5 2855.2L1861.1 2844.9L1862.6 2845.6L1864 2854.5L1865.4 2854.4L1866.9 2867.3L1868.3 2864.4L1869.7 2880.2L1871.1 2882.2L1872.7 2882.5L1874.3 2895.6L1875.9 2890.6L1877.5 2901.8L1879.1 2902.5L1880.4 2907L1881.8 2922.7L1883.1 2920.5L1884.5 2934.1L1885.9 2926.1L1887.3 2904.6L1888.7 2896.7L1890.1 2874.7L1891.5 2865.9L1892.9 2876.5L1894.3 2874L1895.7 2891.2L1897.1 2889.7L1898.5 2898.5L1900 2897.6L1901.5 2884.1L1903 2886L1904.4 2872.9L1905.9 2870L1907.5 2865.5L1909 2850.4L1910.6 2853.3L1912.1 2841.5L1913.8 2824.4L1915.5 2820.2L1917.2 2803.9L1918.7 2799.5L1920.3 2803.6L1921.9 2794.1L1923.4 2803.7L1925 2792.1L1926.6 2795.8L1928.1 2799.4L1929.6 2796L1931.1 2803.2L1932.6 2798L1934.2 2806.1L1935.7 2799.5L1937.2 2803.9L1938.8 2810.9L1940.3 2804.9L1941.9 2813.5L1943.4 2807.5L1945 2816.1L1946.5 2811.5L1948.1 2819.6L1949.7 2815.3L1951.2 2820.4L1952.7 2827.2L1954.3 2822.8L1955.8 2834.1L1957.3 2827L1958.8 2839.6L1960.3 2835.6L1961.8 2841.5L1963.5 2844L1965.1 2835.6L1966.8 2842L1968.4 2832.9L1970.1 2833.4L1971.7 2840.7L1973.3 2835.8L1975 2850L1976.6 2846.2L1978.3 2853.7L1979.8 2852.5L1981.3 2844L1982.7 2848.7L1984.2 2837.4L1985.7 2841.1L1987.2 2830.1L1988.7 2829.3L1990.2 2835L1991.6 2828L1993.1 2833.7L1994.5 2828.8L1996 2838.1L1997.5 2830.7L1998.9 2833.4L2000.4 2833.7L2001.9 2820.5L2003.4 2827.3L2004.9 2816.7L2006.4 2819.9L2007.9 2808.3L2009.3 2808L2010.8 2817.5L2012.2 2818.4L2013.6 2830.1L2015.1 2829.8L2016.5 2845.7L2017.9 2841.6L2019.4 2853.7L2020.9 2852.4L2022.4 2838.1L2023.9 2841.6L2025.4 2827.3L2026.9 2829.8L2028.5 2812.3L2030 2812.3L2031.5 2814.8L2033 2803.9L2034.4 2811.8L2035.9 2800.8L2037.4 2803.9" fill="none" stroke="#0000ff" stroke-width="10.8" stroke-linejoin="round" stroke-linecap="butt" clip-path="url(#c3)"/>
<g fill="#fff" stroke="#0000ff" stroke-width="2.7" clip-path="url(#c3)">
<rect x="223" y="2735.3" width="21.5" height="21.5"/>
<rect x="343.2" y="2752.3" width="21.5" height="21.5"/>
<rect x="463.5" y="2512.4" width="21.5" height="21.5"/>
<rect x="583.7" y="2807.5" width="21.5" height="21.5"/>
<rect x="704" y="2771.2" width="21.5" height="21.5"/>
<rect x="824.2" y="2920.3" width="21.5" height="21.5"/>
<rect x="944.4" y="2847.1" width="21.5" height="21.5"/>
<rect x="1064.7" y="2782" width="21.5" height="21.5"/>
<rect x="1184.9" y="2796.3" width="21.5" height="21.5"/>
<rect x="1305.2" y="2793.3" width="21.5" height="21.5"/>
<rect x="1425.4" y="2788" width="21.5" height="21.5"/>
<rect x="1545.7" y="2799.2" width="21.5" height="21.5"/>
<rect x="1665.9" y="2719" width="21.5" height="21.5"/>
<rect x="1786.2" y="2548.2" width="21.5" height="21.5"/>
<rect x="1906.4" y="2793.2" width="21.5" height="21.5"/>
<rect x="2026.7" y="2793.2" width="21.5" height="21.5"/>
</g>
<path d="M233.7 2760.2C242.1 2761.2 271.8 2766.3 283.8 2766.3C295.8 2766.3 297.5 2759.5 305.8 2760.2C314.2 2760.9 324.6 2770 333.9 2770.4C343.3 2770.7 352.3 2762.9 362 2762.3C371.6 2761.6 383.3 2762.8 392 2766.3C400.7 2769.8 407.1 2776.8 414.1 2783.2C421.1 2789.6 427.1 2796.9 434.1 2804.9C441.1 2813 449.5 2820.2 456.2 2831.4C462.8 2842.6 469.2 2857.1 474.2 2872C479.2 2887 481.3 2900.5 486.2 2920.8C491.1 2941.2 498 2969.6 503.7 2994C509.3 3018.4 516 3050.8 520.3 3067.2C524.6 3083.7 527.1 3087.2 529.3 3092.7C531.5 3098.1 531.9 3100.1 533.7 3099.8C535.6 3099.4 537.5 3102.5 540.3 3090.6C543.2 3078.8 547.7 3049.8 551 3028.6C554.2 3007.4 556.7 2982.9 559.6 2963.5C562.4 2944.2 564.7 2932 568.2 2912.7C571.7 2893.4 576.7 2866.6 580.4 2847.6C584.1 2828.7 587.1 2810.7 590.4 2798.8C593.8 2787 595.4 2781.9 600.5 2776.5C605.5 2771.1 613 2769.4 620.5 2766.3C628 2763.3 637.9 2759.9 645.5 2758.2C653.2 2756.5 658.7 2754.1 666.6 2756.2C674.4 2758.2 684.6 2767 692.6 2770.4C700.7 2773.8 707.7 2778.9 714.7 2776.5C721.7 2774.1 728.7 2769.4 734.7 2756.2C740.7 2742.9 746.6 2717.9 750.8 2697.2C754.9 2676.5 756.4 2653.5 759.8 2632.1C763.1 2610.8 767.1 2583.7 770.8 2569.1C774.5 2554.5 778.5 2546.4 782 2544.7C785.6 2543 787.9 2549.3 792 2558.9C796.2 2568.6 801.5 2587.4 806.9 2602.6C812.3 2617.9 819.6 2640.1 824.3 2650.4C829 2660.8 831.4 2657.5 834.9 2664.7C838.5 2671.8 841.7 2685.5 845.8 2693.1C849.8 2700.7 853.9 2707 859 2710.2C864 2713.4 870 2709.7 876 2712.2C882 2714.8 888.5 2714.9 895.1 2725.7C901.6 2736.4 908.4 2758.2 915.1 2776.5C921.8 2794.8 929.8 2815.1 935.1 2835.4C940.5 2855.8 943.8 2882.9 947.2 2898.5C950.5 2914.1 952 2918.8 955.2 2929C958.4 2939.1 962.5 2952.7 966.2 2959.5C969.9 2966.3 973.3 2970.3 977.2 2969.6C981.2 2969 986.1 2964.2 990.1 2955.4C994 2946.6 996.8 2931.9 1000.7 2916.8C1004.5 2901.7 1009 2879.2 1013.3 2864.9C1017.6 2850.7 1021.5 2840.7 1026.5 2831.4C1031.5 2822.1 1035.2 2814.8 1043.4 2809C1051.5 2803.3 1064.7 2801.1 1075.4 2796.8C1086.1 2792.5 1094.8 2787.6 1107.5 2783.2C1120.2 2778.8 1140.2 2768.1 1151.6 2770.4C1162.9 2772.7 1168.3 2786.7 1175.6 2796.8C1183 2807 1189 2829.7 1195.7 2831.4C1202.4 2833.1 1205.7 2813.4 1215.7 2807C1225.7 2800.5 1239.1 2791.7 1255.8 2792.7C1272.5 2793.8 1295.9 2813.4 1315.9 2813.1C1336 2812.7 1356 2795.1 1376 2790.7C1396.1 2786.3 1416.1 2786 1436.2 2786.7C1456.2 2787.3 1476.2 2789.7 1496.3 2794.8C1516.3 2799.9 1539.7 2817.5 1556.4 2817.1C1573.1 2816.8 1586.5 2799.5 1596.5 2792.7C1606.5 2786 1609.9 2788.3 1616.5 2776.5C1623.2 2764.6 1630.3 2735.5 1636.6 2721.6C1642.8 2707.7 1649.1 2699.2 1654 2693.1C1659 2687 1662.5 2686.2 1666.2 2685C1670 2683.8 1672.9 2684.3 1676.7 2686C1680.5 2687.7 1684.6 2691.3 1689.1 2695.2C1693.6 2699.1 1698.4 2702.9 1703.5 2709.4C1708.7 2715.8 1714.7 2725.7 1719.9 2733.8C1725.2 2741.9 1729.3 2748.6 1734.8 2758.2C1740.3 2767.8 1746.3 2779 1752.8 2791.5C1759.3 2804.1 1768.3 2821 1773.9 2833.4C1779.4 2845.8 1782.2 2856.6 1786.1 2865.9C1789.9 2875.3 1792.8 2878 1796.9 2889.7C1801 2901.4 1806.5 2921.4 1810.9 2936.1C1815.3 2950.8 1819.2 2963.4 1823.4 2977.8C1827.5 2992.2 1832.3 3011 1835.8 3022.5C1839.2 3034 1841.6 3041.1 1844 3046.9C1846.4 3052.7 1847.8 3057.8 1850.2 3057.1C1852.6 3056.4 1855.7 3052.7 1858.4 3042.8C1861.2 3033 1863.9 3015.9 1866.6 2998.1C1869.4 2980.3 1872 2957.4 1875.1 2936.1C1878.1 2914.7 1881.3 2889.3 1885.1 2870C1888.9 2850.7 1892.4 2831.4 1897.7 2820.4C1903.1 2809.4 1909.6 2810.8 1917.2 2803.9C1924.7 2797.1 1935.4 2784.3 1943.2 2779.1C1951 2774 1955.6 2774.4 1963.8 2773C1972.1 2771.7 1983.8 2770.7 1992.7 2771C2001.6 2771.3 2009.9 2773.7 2017.4 2775.1C2024.8 2776.4 2034.1 2778.4 2037.4 2779.1" fill="none" stroke="#0000ff" stroke-width="3.9" stroke-linejoin="round" stroke-linecap="butt" clip-path="url(#c3)"/>
<g fill="#fff" stroke="#0000ff" stroke-width="2.7" clip-path="url(#c3)">
<rect x="223" y="2749.5" width="21.5" height="21.5"/>
<rect x="343.2" y="2753.8" width="21.5" height="21.5"/>
<rect x="463.5" y="2861.3" width="21.5" height="21.5"/>
<rect x="583.7" y="2779.2" width="21.5" height="21.5"/>
<rect x="704" y="2765.8" width="21.5" height="21.5"/>
<rect x="824.2" y="2653.9" width="21.5" height="21.5"/>
<rect x="944.4" y="2918.2" width="21.5" height="21.5"/>
<rect x="1064.7" y="2786.1" width="21.5" height="21.5"/>
<rect x="1184.9" y="2820.7" width="21.5" height="21.5"/>
<rect x="1305.2" y="2802.4" width="21.5" height="21.5"/>
<rect x="1425.4" y="2775.9" width="21.5" height="21.5"/>
<rect x="1545.7" y="2806.4" width="21.5" height="21.5"/>
<rect x="1665.9" y="2675.3" width="21.5" height="21.5"/>
<rect x="1786.2" y="2879" width="21.5" height="21.5"/>
<rect x="1906.4" y="2793.2" width="21.5" height="21.5"/>
<rect x="2026.7" y="2768.4" width="21.5" height="21.5"/>
</g>
<path d="M233.7 2817.1L235.2 2806.7L236.6 2804.1L238.1 2789.8L239.5 2790.7L241 2773.1L242.4 2774L243.9 2758.6L245.3 2753.1L246.9 2756.2L248.5 2745.7L250 2754.2L251.6 2743.3L253.2 2753.6L254.7 2743.5L256.3 2748.1L257.9 2739.9L259.4 2746.5L261 2740.8L262.6 2741.9L264.1 2757.6L265.7 2758L267.2 2779.5L268.7 2779.1L270.3 2798.5L271.8 2804L273.4 2817.1L274.9 2815.5L276.4 2802.8L277.8 2807L279.3 2797.5L280.8 2798.1L282.3 2789.4L283.8 2787.5L285.4 2781.8L287 2768.1L288.5 2766.3L290.1 2752.3L291.7 2753.4L293.3 2737L294.8 2731.8L296.3 2735.9L297.7 2724.5L299.2 2732.7L300.6 2722.9L302.1 2731.2L303.5 2720.6L305 2726.8L306.4 2719.3L307.9 2721.6L309.4 2727.3L310.9 2723.2L312.4 2735.5L313.9 2728.4L315.4 2737.2L316.9 2733.5L318.4 2745.4L319.9 2738.9L321.4 2750.2L322.9 2748L324.3 2753.7L325.7 2766.6L327.2 2767.7L328.6 2782.8L330 2785.4L331.4 2800.4L332.9 2802.1L334.3 2815.3L335.7 2821.2L337.1 2810.6L338.6 2810.1L340 2791L341.5 2793.1L342.9 2774.8L344.3 2770.4L345.8 2781L347.2 2774.4L348.6 2789.1L350 2785.2L351.5 2798.2L352.9 2795.9L354.3 2807.2L355.7 2803.4L357.2 2813.1L358.7 2812.9L360.2 2801.6L361.8 2808L363.3 2796.4L364.9 2803.1L366.4 2790.2L368 2791.7L369.4 2797.6L370.9 2795.2L372.3 2803.7L373.8 2802.6L375.2 2813.9L376.7 2807L378.1 2820.5L379.6 2812.8L381 2821.2L382.5 2826L384 2818.2L385.5 2831.2L387 2823L388.5 2830.8L390 2826.4L391.5 2833.9L393 2829.1L394.5 2836.4L396 2835.4L397.6 2820.7L399.1 2821.6L400.6 2802.9L402.1 2801.1L403.6 2781.7L405.1 2780.2L406.7 2766.3L408.2 2767.9L409.7 2784.4L411.3 2782.8L412.8 2797.6L414.4 2796.8L415.9 2812.7L417.5 2817.1L419.1 2809.4L420.6 2811.5L422.2 2795.5L423.8 2799.5L425.4 2784.1L426.9 2787.2L428.5 2775.5L430.1 2772.4L431.6 2779.8L433 2774.7L434.5 2790.5L436 2785.7L437.5 2796.6L438.9 2793L440.4 2806.5L441.9 2802.8L443.3 2809L444.8 2808.5L446.2 2794.2L447.6 2795.6L449 2782.9L450.5 2782.1L451.9 2768.2L453.3 2772L454.7 2756.1L456.2 2756.2L457.7 2766.7L459.2 2761.3L460.8 2773.8L462.3 2772.1L463.9 2787.5L465.4 2782.6L467 2791.7L468.5 2790.5L470.1 2781.7L471.6 2786.8L473.2 2771.3L474.7 2776.6L476.3 2766.6L477.8 2766.3L479.2 2773.1L480.7 2766L482.1 2774.8L483.5 2767.9L484.9 2780.2L486.4 2774L487.8 2781.6L489.2 2777.2L490.6 2783.2L492.2 2781.5L493.7 2766.9L495.3 2765.3L496.8 2751.2L498.4 2755L499.9 2739L501.4 2735.8L502.9 2756.4L504.3 2764.4L505.8 2789.8L507.2 2799.6L508.6 2822L510.1 2835.4L511.5 2821L512.9 2815.3L514.4 2798.4L515.8 2793L517.2 2774.9L518.7 2766.3L520.1 2779.4L521.5 2778.3L523 2795.2L524.4 2791.8L525.8 2807.9L527.2 2809.7L528.7 2824.4L530.1 2823.8L531.5 2835.4C533.3 2814.4 538.7 2700.2 542.3 2709.4C545.9 2718.5 549.6 2889 553.2 2890.3C556.7 2891.7 560.2 2706 563.8 2717.5C567.3 2729 570.7 2971.3 574.4 2959.5C578.1 2947.6 582.4 2640.3 586.2 2646.4C590.1 2652.5 593.6 3003.7 597.4 2996.1C601.3 2988.5 605.2 2589.8 609.1 2600.6C612.9 2611.5 616.4 3056.6 620.5 3061.1C624.6 3065.7 629.5 2624.7 633.5 2628.1C637.5 2631.4 640.6 3081.8 644.5 3081.5C648.5 3081.1 653 2622.6 657.2 2626C661.3 2629.4 665.4 3103.8 669.4 3101.8C673.4 3099.8 677.1 2620.9 681 2613.8C685 2606.7 689.2 3067.1 693 3059.1C696.9 3051.1 700.4 2578.2 704.1 2566C707.8 2553.8 711.6 2971.2 715.3 2985.9C719 3000.6 722.4 2673.1 726.1 2654.5C729.8 2635.9 733.6 2873.4 737.3 2874.1C741.1 2874.8 745.4 2680.9 748.8 2658.6C752.1 2636.2 754.6 2735.1 757.6 2739.9C760.6 2744.6 763.3 2681.9 766.8 2687C770.3 2692.1 776.8 2756.5 778.8 2770.4L780.4 2770.9L782 2760.4L783.5 2763.5L785.1 2750.6L786.7 2755.8L788.3 2745.2L789.8 2744.6L791.4 2752.8L793 2746.4L794.6 2758.1L796.1 2749.9L797.7 2759.3L799.3 2755.9L800.9 2762.3L802.4 2760.4L804 2747.9L805.6 2752.3L807.2 2741.5L808.8 2745.2L810.3 2729.6L811.9 2734.7L813.5 2725.7L814.9 2726.6L816.4 2738.6L817.8 2735.6L819.2 2750.1L820.7 2747.9L822.1 2757.4L823.5 2763.3L825 2757.2L826.4 2765.2L827.8 2759.4L829.2 2770.9L830.7 2765.1L832.1 2776.1L833.5 2767.1L834.9 2774.5L836.4 2789.4L837.8 2788.9L839.3 2808.1L840.7 2812.2L842.2 2828.2L843.6 2830.3L845.1 2850L846.5 2849.9L848 2864.9L849.4 2854L850.8 2829.5L852.2 2823.1L853.6 2798.6L855 2787.5L856.4 2796.5L857.8 2796.9L859.3 2811.2L860.7 2812.5L862.1 2826.2L863.6 2823.2L865 2835.4L866.5 2827.1L867.9 2807.7L869.4 2805.4L870.9 2784.6L872.3 2783.3L873.8 2766.3L875.2 2754.7L876.7 2755.2L878.1 2741.5L879.6 2742.7L881 2728.7L882.4 2725.7L883.9 2744.3L885.3 2750.7L886.7 2771.9L888.2 2775.5L889.6 2797.5L891 2809L892.5 2797.2L893.9 2801L895.4 2786L896.8 2788.3L898.2 2774.4L899.7 2770.4L901.2 2769.1L902.8 2756.5L904.4 2763L905.9 2751.8L907.5 2753.2L909.1 2746.6L910.5 2758.4L911.9 2782L913.4 2787.4L914.8 2811.8L916.2 2820L917.7 2844L919.1 2855.8L920.5 2838L921.9 2834.4L923.3 2812.6L924.7 2806.9L926.1 2783.1L927.5 2774.5L929 2784.5L930.5 2785.7L932 2800.2L933.5 2796.7L935 2812.5L936.5 2813.3L938 2827.1L939.5 2825L941.1 2840.2L942.6 2843.6L944.1 2835.8L945.7 2837.9L947.3 2828.7L948.9 2830.3L950.4 2818.2L952 2821.8L953.6 2812.2L955.2 2811L956.8 2813.5L958.3 2805.2L959.9 2809.7L961.5 2800.3L963.1 2806.8L964.6 2798L966.2 2800.9L967.8 2807.6L969.4 2805.2L970.9 2818.4L972.5 2814L974.1 2824.9L975.7 2824.1L977.2 2830.6L978.7 2838.6L980.3 2836.7L981.8 2847.8L983.3 2846.4L984.8 2859.2L986.3 2857.7L987.8 2864.9L989.3 2862.5L990.7 2844.9L992.1 2848.4L993.5 2832.6L995 2834.7L996.4 2816.4L997.8 2820.9L999.2 2802.2L1000.7 2800.9L1002.1 2803L1003.5 2789.2L1005 2797.1L1006.4 2785.7L1007.9 2788.8L1009.3 2783.2L1010.7 2776.3L1012.2 2782.3L1013.6 2771.4L1015.1 2775.2L1016.5 2766.4L1018 2768.2L1019.4 2760L1020.9 2765.6L1022.3 2757.4L1023.8 2758.9L1025.2 2767.7L1026.7 2765.2L1028.1 2778.5L1029.6 2773.5L1031 2782.5L1032.4 2781.8L1033.9 2791.4L1035.3 2791.7L1036.7 2792.5L1038.2 2802.2L1039.6 2798L1041 2806.1L1042.4 2803.7L1043.8 2809L1045.2 2807.4L1046.7 2797.1L1048.1 2797.5L1049.6 2787.2L1051 2788.3L1052.4 2776L1053.9 2779.3L1055.3 2768.2L1056.8 2766.3L1058.4 2766.3L1059.9 2756.5L1061.5 2765.2L1063.1 2751.8L1064.7 2760.3L1066.3 2749.4L1067.8 2754.4L1069.4 2748.8L1071 2750.9L1072.6 2762.5L1074.1 2759.8L1075.7 2774.2L1077.3 2770.5L1078.9 2783.1L1080.4 2783.2L1082 2781.9L1083.6 2795.2L1085.2 2789.8L1086.7 2800.2L1088.3 2799L1089.9 2809.4L1091.5 2809L1092.9 2805.7L1094.4 2817.2L1095.9 2807.3L1097.4 2816.6L1098.9 2812.1L1100.4 2821.1L1101.9 2817.1L1103.3 2809.8L1104.7 2812.4L1106.2 2799.1L1107.6 2800.8L1109 2785.8L1110.4 2788.4L1111.9 2778.3L1113.3 2780.1L1114.7 2770.4L1116.2 2766.3L1117.7 2774.2L1119.2 2768.9L1120.6 2778.8L1122.1 2769.3L1123.6 2778.9L1125.1 2773.9L1126.6 2781.4L1128.1 2773.5L1129.5 2778.5L1131 2783.1L1132.5 2775.9L1133.9 2785.5L1135.4 2778.1L1136.9 2787.2L1138.4 2779.5L1139.8 2789.8L1141.3 2780.4L1142.8 2788.6L1144.2 2782.2L1145.7 2791.3L1147.2 2785.3L1148.6 2792.9L1150.1 2787.5L1151.6 2791.7L1153.2 2786.8L1154.8 2770.7L1156.4 2768.5L1158 2754.2L1159.6 2748.8L1161.2 2752.1L1162.8 2744L1164.4 2751.2L1166 2744L1167.6 2750.1L1169.2 2739.5L1170.8 2744.6L1172.4 2753.2L1173.9 2747.7L1175.5 2760.9L1177 2755.7L1178.6 2765.8L1180.1 2762.2L1181.6 2770.4L1183.2 2774.8L1184.8 2769.9L1186.3 2779.5L1187.9 2771.7L1189.4 2779.9L1191 2775.6L1192.6 2784.8L1194.1 2776.6L1195.7 2782.6L1197.2 2789.2L1198.7 2779.6L1200.2 2788.8L1201.7 2781.8L1203.2 2793.2L1204.7 2783.1L1206.2 2795.4L1207.7 2788.1L1209.2 2794.8L1210.7 2792.7L1212.3 2783.9L1213.9 2785.8L1215.4 2769.6L1217 2772.6L1218.6 2759.4L1220.2 2759.9L1221.7 2750.1L1223.2 2751.4L1224.8 2764.5L1226.3 2762.8L1227.8 2779.3L1229.3 2775L1230.8 2792.4L1232.3 2792.7L1233.8 2791.1L1235.2 2801L1236.6 2796.6L1238 2806.7L1239.5 2800.7L1240.9 2810.8L1242.3 2806.9L1243.7 2816.7L1245.2 2815.1L1246.8 2812.3L1248.3 2821.6L1249.9 2816L1251.5 2828.4L1253.1 2821.9L1254.6 2832.3L1256.2 2824.9L1257.8 2832.4L1259.4 2833.7L1261 2824.1L1262.5 2827.4L1264.1 2819.1L1265.7 2822.4L1267.2 2814.5L1268.8 2815.1L1270.4 2811.3L1272 2794.8L1273.5 2795.5L1275.1 2777.5L1276.7 2778.4L1278.3 2761.7L1279.8 2756.2L1281.3 2759.3L1282.8 2745.2L1284.3 2753.4L1285.8 2739.8L1287.3 2746.3L1288.7 2736.7L1290.2 2742L1291.7 2728L1293.2 2735L1294.7 2728.3L1296.2 2727.8L1297.8 2742L1299.3 2736.9L1300.9 2752.2L1302.4 2746.5L1304 2758.3L1305.5 2760.2L1307 2761.6L1308.5 2774.9L1310 2772.9L1311.5 2786L1312.9 2783L1314.4 2794L1315.9 2796.8L1317.4 2790.4L1318.9 2795.9L1320.3 2783.4L1321.8 2788.3L1323.3 2778.3L1324.7 2783.8L1326.2 2770.7L1327.7 2775.7L1329.1 2770.2L1330.7 2765.3L1332.3 2769.9L1333.9 2761.2L1335.5 2764.9L1337.1 2756.8L1338.6 2760.8L1340.2 2753.9L1341.8 2757.9L1343.4 2752.1L1344.9 2755.1L1346.5 2770.1L1348.1 2766.7L1349.7 2785L1351.2 2782L1352.8 2792.7L1354.2 2798.9L1355.7 2794.1L1357.1 2805.4L1358.6 2800.1L1360 2813.2L1361.5 2805.3L1362.9 2819.3L1364.4 2811L1365.8 2819.2L1367.2 2824.7L1368.7 2814.1L1370.1 2825.5L1371.5 2816L1372.9 2826.2L1374.4 2816L1375.8 2826.5L1377.2 2819.2L1378.6 2823.2L1380.2 2821L1381.7 2807L1383.3 2808.3L1384.8 2792.3L1386.4 2793.2L1387.9 2778.3L1389.5 2776.3L1391 2788.4L1392.5 2786.4L1394 2801.5L1395.5 2801.3L1397.1 2814.9L1398.6 2816.3L1400.1 2827.3L1401.5 2828.2L1403 2820.2L1404.4 2825.7L1405.9 2818.9L1407.3 2825.7L1408.8 2814.3L1410.2 2820.8L1411.7 2814.3L1413.1 2815.1L1414.6 2815.5L1416 2800.5L1417.5 2801.2L1418.9 2789.3L1420.4 2793.3L1421.8 2778.2L1423.3 2780.4L1424.7 2767.6L1426.1 2766.3L1427.6 2765L1429.2 2750.9L1430.7 2757L1432.2 2747L1433.5 2751.2L1434.8 2765.7L1436.2 2768.4L1437.7 2767.8L1439.2 2780.7L1440.6 2779.9L1442.1 2791.6L1443.6 2787.5L1445.1 2800.6L1446.6 2797.4L1448.1 2810.7L1449.6 2811L1451.2 2810.3L1452.9 2821.7L1454.6 2819.8L1456.2 2827.3L1457.7 2828.2L1459.2 2820.9L1460.8 2827.7L1462.3 2815.8L1463.8 2824L1465.3 2813.2L1466.8 2815.1L1468.3 2811.1L1469.7 2798.7L1471.2 2799.2L1472.6 2781.6L1474.1 2785.1L1475.5 2770.1L1477 2771.2L1478.4 2753.5L1479.9 2752.1L1481.3 2761.9L1482.7 2761.2L1484.1 2777.7L1485.6 2775.4L1487 2789.5L1488.4 2786.3L1489.8 2802.3L1491.3 2798.8L1492.7 2811L1494.1 2804.9L1495.6 2788L1497 2784.1L1498.4 2767.1L1499.9 2764.3L1501.3 2750.1L1502.7 2754.6L1504.2 2771.7L1505.6 2769.9L1507.1 2787.8L1508.5 2786.3L1510 2801.2L1511.4 2804.2L1512.9 2817.7L1514.3 2823.2L1515.8 2809.4L1517.4 2808.7L1518.9 2790.9L1520.4 2792.8L1521.9 2772.8L1523.4 2773.9L1524.9 2760.2L1526.4 2762.3L1527.8 2772.9L1529.3 2771.6L1530.7 2785.9L1532.2 2780.3L1533.6 2793.4L1535.1 2793.8L1536.5 2805L1538 2806.4L1539.5 2801.5L1541 2808.9L1542.6 2800.3L1544.1 2809.7L1545.7 2798.9L1547.2 2809.6L1548.7 2800.6L1550.3 2808.8L1551.8 2800.2L1553.3 2806.6L1554.9 2796.6L1556.4 2801.3L1557.9 2801.6L1559.3 2793.6L1560.8 2799.2L1562.2 2788.4L1563.7 2792.4L1565.1 2785.3L1566.6 2789.7L1568 2783L1569.6 2776.5L1571.1 2778L1572.7 2768.4L1574.2 2771.8L1575.8 2761.4L1577.3 2763.4L1578.9 2756.2L1580.4 2758L1581.9 2769.3L1583.4 2766.2L1584.9 2780.2L1586.4 2776.1L1587.9 2792L1589.4 2785.5L1590.9 2799.4L1592.4 2796.6L1593.9 2806.4L1595.5 2811.1L1597 2808.4L1598.6 2817.3L1600.2 2810.6L1601.8 2819.7L1603.4 2815.8L1604.9 2826L1606.5 2823.2L1607.9 2816L1609.4 2820.3L1610.8 2809.5L1612.2 2814.4L1613.7 2805.8L1615.1 2811.2L1616.5 2803.9L1618 2792.4L1619.5 2789.7L1621 2774.4L1622.5 2775.7L1624 2758.9L1625.5 2755.6L1627 2741.3L1628.5 2742L1630 2727.7L1631.4 2729.7L1632.9 2740.7L1634.3 2736L1635.8 2750.8L1637.2 2746.7L1638.7 2758.6L1640.1 2754.2L1641.6 2762.3L1643.1 2768.3L1644.7 2757.5L1646.2 2768.3L1647.8 2759.7L1649.4 2767.3L1650.9 2762L1652.5 2771.5L1654 2766.3L1655.7 2767.6L1657.3 2781.2L1658.9 2781.2L1660.6 2795.2L1662.2 2795.8L1663.7 2788.1L1665.1 2795.4L1666.6 2783.1L1668 2788.8L1669.4 2779.4L1670.9 2786.4L1672.3 2773.5L1673.8 2779.6L1675.2 2769.9L1676.7 2771L1678.2 2775L1679.8 2763.4L1681.3 2769.5L1682.9 2761.9L1684.5 2766.9L1686 2759L1687.6 2764.9L1689.1 2757.4L1690.7 2758.2L1692.1 2770.7L1693.6 2774L1695 2793.1L1696.4 2797.5L1697.9 2813.9L1699.3 2820.4L1700.8 2817L1702.3 2826.2L1703.8 2821.1L1705.3 2830.7L1706.8 2821.1L1708.2 2831.6L1709.7 2828.7L1711.2 2822.4L1712.6 2830.2L1714.1 2819.5L1715.5 2825.6L1716.9 2816.9L1718.4 2821.9L1719.8 2813.7L1721.3 2818L1722.7 2808.7L1724.2 2812.3L1725.7 2809.8L1727.3 2798.7L1728.8 2798.1L1730.4 2784.2L1731.9 2788.2L1733.5 2775.2L1735 2774.7L1736.6 2763.1L1738.1 2765.3L1739.7 2750.9L1741.2 2752.2L1742.8 2744L1744.2 2742.4L1745.7 2756.3L1747.1 2750.3L1748.6 2763.9L1750 2758.5L1751.5 2768.1L1752.9 2765.7L1754.3 2777.7L1755.8 2770.2L1757.2 2779.1L1758.8 2786.5L1760.3 2783.1L1761.9 2796L1763.4 2791.8L1765 2804.8L1766.5 2801.5L1768.1 2814.9L1769.7 2810.5L1771.2 2824.8L1772.8 2819.4L1774.3 2831.3L1775.9 2832.8L1777.3 2817.7L1778.8 2812.9L1780.2 2794.1L1781.7 2790.4L1783.2 2771.1L1784.6 2767L1786.1 2752.1L1787.6 2750.1L1789.2 2762.5L1790.7 2758L1792.3 2769.1L1793.8 2764.4L1795.4 2775.3L1796.9 2775.1L1798.3 2768.7L1799.8 2772.4L1801.2 2763.8L1802.6 2768.4L1804.1 2759.4L1805.5 2763.1L1806.9 2758.2L1808.5 2763.4L1810 2776.9L1811.6 2776.5L1813.2 2790.7L1814.7 2790.6L1816.3 2806.7L1817.8 2808.2L1819.4 2822.2L1821 2826.7L1822.5 2818.8L1824 2828L1825.5 2814.7L1827 2823.5L1828.5 2811.3L1830.1 2816.8L1831.6 2812.3L1833.2 2812.4L1834.9 2824.5L1836.5 2818.3L1838.2 2828.2L1839.8 2828.7L1841.2 2816.8L1842.6 2816.1L1844 2799.2L1845.4 2800.4L1846.8 2783.4L1848.2 2779.1L1849.7 2777.6L1851.2 2765.8L1852.7 2770.4L1854.2 2757.6L1855.7 2762.7L1857.2 2748.3L1858.7 2750.1L1860.2 2739.6L1861.7 2742.8L1863.2 2730.8L1864.6 2729.7L1866 2743.1L1867.5 2741.3L1868.9 2758.2L1870.3 2757.7L1871.7 2776.1L1873.1 2779.1L1874.5 2783.2L1875.9 2799.3L1877.4 2798.3L1878.8 2813.3L1880.2 2809.5L1881.7 2826.9L1883.1 2828.7L1884.5 2817L1885.9 2814.9L1887.3 2796.9L1888.7 2793.4L1890.1 2775.1L1891.5 2771L1893.1 2784.9L1894.8 2784.9L1896.4 2805.4L1898.1 2805L1899.7 2820.4L1901.1 2818L1902.5 2800.8L1903.9 2804.4L1905.3 2789.3L1906.7 2789.2L1908.1 2779.1L1909.6 2770L1911.1 2772.5L1912.6 2758.6L1914.1 2765.5L1915.7 2749.3L1917.2 2750.1L1918.7 2754.7L1920.2 2743.7L1921.7 2753.2L1923.2 2742.3L1924.7 2750.4L1926.2 2744.4L1927.8 2750.8L1929.3 2743.9L1930.8 2746L1932.2 2753.8L1933.6 2752.3L1935 2767.6L1936.4 2762.3L1937.8 2778.5L1939.2 2779.1L1940.7 2776.6L1942.2 2788.6L1943.7 2785.4L1945.2 2795.5L1946.7 2792.5L1948.2 2800.2L1949.7 2797.5L1951.2 2803.9L1952.8 2809.9L1954.4 2801.5L1956 2812.5L1957.5 2805.7L1959.1 2814.5L1960.7 2807.5L1962.3 2819.7L1963.8 2816.3L1965.3 2814.3L1966.7 2821.8L1968.2 2816.3L1969.6 2826.5L1971.1 2819.5L1972.5 2829.2L1973.9 2822.3L1975.4 2834L1976.8 2827.1L1978.3 2832.8L1979.7 2834.5L1981.2 2825.5L1982.6 2830.1L1984.1 2821.2L1985.5 2826.8L1986.9 2818L1988.4 2821.1L1989.8 2811.1L1991.3 2817L1992.7 2812.3L1994.2 2807.7L1995.6 2813L1997.1 2801.8L1998.6 2807.4L2000 2796.5L2001.5 2803.2L2002.9 2792.3L2004.4 2795.5L2005.9 2785.3L2007.3 2787.5L2008.9 2795.9L2010.4 2795.3L2011.9 2808.2L2013.5 2804.9L2015 2820.4L2016.5 2817.5L2018 2830.3L2019.6 2832.8L2021.1 2819.2L2022.5 2816.2L2024 2795.6L2025.5 2790.4L2027 2772.9L2028.5 2767.9L2030 2754.1L2031.5 2750.5L2033 2757.1L2034.4 2749.6L2035.9 2758.2L2037.4 2754.1" fill="none" stroke="#008000" stroke-width="10.8" stroke-linejoin="round" stroke-linecap="butt" clip-path="url(#c3)"/>
<g fill="#fff" stroke="#008000" stroke-width="2.7" clip-path="url(#c3)">
<path d="M233.7 2801.3L247.4 2825.1L220 2825.1Z"/>
<path d="M353.9 2786.6L367.7 2810.3L340.2 2810.3Z"/>
<path d="M474.2 2772.2L487.9 2796L460.5 2796Z"/>
<path d="M594.4 2913.1L608.2 2936.9L580.7 2936.9Z"/>
<path d="M714.7 2968L728.4 2991.8L701 2991.8Z"/>
<path d="M834.9 2758.6L848.7 2782.4L821.2 2782.4Z"/>
<path d="M955.2 2795.2L968.9 2819L941.5 2819Z"/>
<path d="M1075.4 2751.7L1089.1 2775.5L1061.7 2775.5Z"/>
<path d="M1195.7 2764.7L1209.4 2788.5L1182 2788.5Z"/>
<path d="M1315.9 2781L1329.6 2804.7L1302.2 2804.7Z"/>
<path d="M1436.2 2752.5L1449.9 2776.3L1422.4 2776.3Z"/>
<path d="M1556.4 2785.5L1570.1 2809.2L1542.7 2809.2Z"/>
<path d="M1676.7 2754.5L1690.4 2778.3L1662.9 2778.3Z"/>
<path d="M1796.9 2759.2L1810.6 2783L1783.2 2783Z"/>
<path d="M1917.2 2734.2L1930.9 2758L1903.4 2758Z"/>
<path d="M2037.4 2738.3L2051.1 2762L2023.7 2762Z"/>
</g>
<path d="M233.7 2817.1C237 2810.4 243.7 2785 253.7 2776.5C263.8 2768 277.1 2764.6 293.8 2766.3C310.5 2768 333.9 2781.6 353.9 2786.7C374 2791.7 394 2798.9 414.1 2796.8C434.1 2794.7 457.5 2775.7 474.2 2774C490.9 2772.3 500.9 2781.2 514.3 2786.7C527.6 2792.1 541 2798.8 554.4 2807C567.7 2815.1 581.1 2833.8 594.4 2835.4C607.8 2837.1 621.2 2825.3 634.5 2817.1C647.9 2809 661.2 2798.2 674.6 2786.7C688 2775.1 703 2751.4 714.7 2748C726.4 2744.6 733.7 2766.9 744.7 2766.3C755.8 2765.7 772.2 2751.7 780.8 2744.6C789.4 2737.4 791.6 2728.5 796.3 2723.6C800.9 2718.8 804.6 2712.8 808.9 2715.5C813.2 2718.2 817.8 2730.7 822.1 2739.9C826.4 2749 830.8 2758.9 834.9 2770.4C839.1 2781.9 842.9 2798.2 847 2809C851 2819.9 855 2831.9 859 2835.4C863 2839 866.7 2832.9 871 2830.6C875.3 2828.2 880.7 2825.5 885 2821.2C889.4 2816.9 890.4 2809.7 897.1 2804.9C903.7 2800.2 915.4 2791.7 925.1 2792.7C934.8 2793.8 946.2 2803.9 955.2 2811C964.2 2818.2 971.5 2834.4 979.2 2835.4C986.9 2836.5 994.1 2822.2 1001.3 2817.1C1008.5 2812.1 1015.3 2808.3 1022.3 2804.9C1029.3 2801.6 1034.5 2801.6 1043.4 2796.8C1052.2 2792.1 1060.1 2779.2 1075.4 2776.5C1090.8 2773.8 1115.5 2779.5 1135.5 2780.6C1155.6 2781.6 1182.3 2783 1195.7 2782.6C1209 2782.1 1211 2778.3 1215.7 2777.9C1220.4 2777.5 1221.1 2778.8 1223.7 2780.1C1226.4 2781.5 1229 2782.7 1231.7 2786.2C1234.5 2789.8 1237.3 2796.8 1240 2801.3C1242.7 2805.8 1245.3 2810.7 1248 2813.3C1250.7 2815.9 1253.3 2817.7 1256 2816.9C1258.7 2816.2 1261.3 2813.1 1264 2808.8C1266.7 2804.5 1269.3 2797.9 1272 2791.3C1274.7 2784.8 1277.5 2775.6 1280.2 2769.4C1283 2763.1 1285.6 2756.5 1288.3 2753.7C1290.9 2750.9 1293.6 2751 1296.3 2752.5C1299 2754 1301.6 2759.1 1304.3 2762.7C1307 2766.2 1309.6 2771.1 1312.3 2773.6C1315 2776.2 1317.8 2777.9 1320.5 2778.1C1323.2 2778.3 1325.9 2776 1328.5 2774.7C1331.2 2773.3 1333.9 2770.1 1336.6 2770.2C1339.2 2770.3 1341.9 2772.5 1344.6 2775.3C1347.3 2778 1349.9 2782.4 1352.6 2786.9C1355.3 2791.3 1358.1 2797.9 1360.8 2801.9C1363.5 2805.9 1366.2 2809.8 1368.8 2810.6C1371.5 2811.5 1374.2 2807.6 1376.8 2806.8C1379.5 2805.9 1382.2 2805.7 1384.9 2805.6C1387.5 2805.4 1390.2 2805.7 1392.9 2805.8C1395.6 2805.9 1398.4 2806.1 1401.1 2806.2C1403.8 2806.3 1406.4 2808.5 1409.1 2806.4C1411.8 2804.3 1414.5 2797.8 1417.1 2793.6C1419.8 2789.4 1422.5 2783.8 1425.1 2781.2C1427.8 2778.6 1430.5 2777.1 1433.2 2777.9C1435.8 2778.7 1438.5 2782.1 1441.2 2786C1443.9 2789.9 1446.7 2797.6 1449.4 2801.3C1452.1 2805 1454.7 2808.5 1457.4 2808.4C1460.1 2808.3 1462.8 2803.6 1465.4 2800.7C1468.1 2797.7 1470.8 2793.2 1473.4 2790.7C1476.1 2788.2 1478.8 2788.1 1481.5 2785.8C1484.2 2783.6 1487 2777.5 1489.7 2777.1C1492.4 2776.7 1495 2781.5 1497.7 2783.6C1500.4 2785.7 1503 2789.7 1505.7 2789.7C1508.4 2789.7 1511.1 2783.6 1513.7 2783.6C1516.4 2783.6 1519 2788.6 1521.7 2789.9C1524.4 2791.2 1527.3 2791 1530 2791.3C1532.7 2791.7 1535.3 2790.7 1538 2791.9C1540.6 2793.2 1543.3 2797.8 1546 2798.6C1548.7 2799.5 1551.3 2798.7 1554 2797C1556.7 2795.4 1559.3 2791.5 1562 2788.7C1564.7 2785.9 1567.5 2781.9 1570.2 2780.3C1572.9 2778.8 1575.6 2778.3 1578.3 2779.1C1580.9 2779.9 1583.6 2782.1 1586.3 2785.2C1588.9 2788.3 1591.6 2794 1594.3 2797.6C1597 2801.2 1599.6 2806.2 1602.3 2806.8C1605 2807.4 1607.8 2805.2 1610.5 2801.3C1613.2 2797.4 1615.9 2789.2 1618.5 2783.6C1621.2 2778 1623.9 2772.1 1626.6 2767.9C1629.2 2763.7 1631.9 2759.9 1634.6 2758.4C1637.2 2756.9 1639.9 2756.6 1642.6 2758.8C1645.3 2761 1648.1 2768.4 1650.8 2771.6C1653.5 2774.8 1656.2 2776.9 1658.8 2778.1C1661.5 2779.4 1664.2 2779.3 1666.8 2779.1C1669.5 2778.9 1672.2 2777.4 1674.9 2776.9C1677.5 2776.3 1680.2 2774.5 1682.9 2775.9C1685.6 2777.3 1688.4 2781.5 1691.1 2785.4C1693.8 2789.3 1696.4 2794.8 1699.1 2799.3C1701.8 2803.7 1704.5 2809.6 1707.1 2812.1C1709.8 2814.6 1712.5 2815.9 1715.1 2814.3C1717.8 2812.7 1720.4 2807.6 1723.2 2802.7C1725.9 2797.9 1728.7 2790.2 1731.4 2785.2C1734.1 2780.2 1736.7 2775.3 1739.4 2772.6C1742.1 2770 1744.7 2768.5 1747.4 2769.4C1750.1 2770.3 1752.7 2773.8 1755.4 2778.1C1758.1 2782.4 1760.7 2791.8 1763.4 2795C1766.1 2798.1 1768.9 2797.6 1771.7 2797C1774.4 2796.5 1777 2794.1 1779.7 2791.7C1782.3 2789.3 1785 2786.3 1787.7 2782.6C1790.4 2778.9 1793 2770.6 1795.7 2769.6C1798.4 2768.6 1801 2773.1 1803.7 2776.5C1806.4 2779.8 1809.2 2785.7 1811.9 2789.7C1814.6 2793.7 1817.3 2796.4 1820 2800.3C1822.6 2804.1 1825.3 2811.3 1828 2812.7C1830.6 2814 1833.3 2811.7 1836 2808.4C1838.7 2805.2 1841.3 2798.7 1844 2793.2C1846.7 2787.6 1849.3 2779.9 1852 2775.1C1854.7 2770.2 1857.5 2764.7 1860.2 2764.1C1862.9 2763.4 1865.6 2768.4 1868.3 2771.2C1870.9 2774 1873.6 2777.3 1876.3 2781.2C1878.9 2785 1881.6 2791 1884.3 2794.2C1887 2797.3 1889.6 2801 1892.3 2800.1C1895 2799.2 1897.8 2792.4 1900.5 2788.9C1903.2 2785.4 1905.9 2782.7 1908.5 2778.9C1911.2 2775.2 1913.9 2769.5 1916.6 2766.3C1919.2 2763.2 1921.9 2760 1924.6 2760C1927.2 2760 1929.9 2763 1932.6 2766.1C1935.3 2769.3 1938.1 2774.3 1940.8 2778.9C1943.5 2783.6 1946.1 2789.5 1948.8 2794C1951.5 2798.4 1954.2 2802.3 1956.8 2805.8C1959.5 2809.2 1962.2 2812.5 1964.9 2814.7C1967.5 2816.9 1970.2 2818.2 1972.9 2818.8C1975.6 2819.4 1978.4 2819.4 1981.1 2818.4C1983.8 2817.4 1986.4 2815.1 1989.1 2812.9C1991.8 2810.6 1994.4 2806.1 1997.1 2804.7C1999.8 2803.4 2002.5 2805.7 2005.1 2804.9C2007.8 2804.2 2010.4 2802.9 2013.2 2800.5C2015.9 2798 2018.7 2793.4 2021.4 2790.1C2024.1 2786.8 2026.7 2785 2029.4 2780.8C2032.1 2776.5 2036.1 2767.4 2037.4 2764.7" fill="none" stroke="#008000" stroke-width="3.9" stroke-linejoin="round" stroke-linecap="butt" clip-path="url(#c3)"/>
<g fill="#fff" stroke="#008000" stroke-width="2.7" clip-path="url(#c3)">
<path d="M233.7 2801.3L247.4 2825.1L220 2825.1Z"/>
<path d="M353.9 2770.8L367.7 2794.6L340.2 2794.6Z"/>
<path d="M474.2 2758.2L487.9 2782L460.5 2782Z"/>
<path d="M594.4 2819.6L608.2 2843.4L580.7 2843.4Z"/>
<path d="M714.7 2732.2L728.4 2755.9L701 2755.9Z"/>
<path d="M834.9 2754.5L848.7 2778.3L821.2 2778.3Z"/>
<path d="M955.2 2795.2L968.9 2819L941.5 2819Z"/>
<path d="M1075.4 2760.6L1089.1 2784.4L1061.7 2784.4Z"/>
<path d="M1195.7 2766.7L1209.4 2790.5L1182 2790.5Z"/>
<path d="M1315.9 2759.8L1329.6 2783.5L1302.2 2783.5Z"/>
<path d="M1436.2 2765.1L1449.9 2788.9L1422.4 2788.9Z"/>
<path d="M1556.4 2778.7L1570.1 2802.4L1542.7 2802.4Z"/>
<path d="M1676.7 2760.8L1690.4 2784.6L1662.9 2784.6Z"/>
<path d="M1796.9 2754.8L1810.6 2778.5L1783.2 2778.5Z"/>
<path d="M1917.2 2750L1930.9 2773.8L1903.4 2773.8Z"/>
<path d="M2037.4 2748.9L2051.1 2772.6L2023.7 2772.6Z"/>
</g>
<path d="M233.7 2792.7L235.2 2786.1L236.6 2792.7L238.1 2780.6L239.5 2786.8L241 2776.7L242.4 2784.6L243.9 2771.1L245.3 2774.5L246.9 2775.8L248.5 2766.9L250 2774.5L251.6 2764.5L253.2 2772.9L254.7 2761.4L256.3 2767.9L257.9 2756.8L259.4 2765.7L261 2756.4L262.6 2758.2L264.1 2767L265.7 2765.2L267.2 2777L268.7 2775.8L270.3 2790.7L271.8 2787.5L273.4 2796.8L274.9 2801.2L276.4 2789.1L277.9 2798L279.4 2788L280.9 2794.3L282.4 2788.4L283.9 2795.6L285.4 2785.5L286.9 2790.6L288.4 2786.7L289.9 2778.1L291.4 2785.9L293 2775.4L294.5 2778.4L296 2769.1L297.5 2772.4L299 2766.3L300.5 2760.5L301.9 2763L303.3 2751.8L304.8 2755L306.2 2744.9L307.7 2744L309.1 2744.2L310.6 2737.1L312 2742.6L313.5 2729.8L314.9 2736.8L316.4 2727.6L317.8 2730.6L319.3 2725.7L320.7 2728.9L322.1 2740.6L323.6 2740.8L325 2752.1L326.4 2751.8L327.9 2763.4L329.3 2766.3L330.7 2765.1L332.2 2777L333.6 2772.5L335 2783.4L336.5 2779.1L337.9 2786.7L339.4 2792.6L340.8 2784.8L342.3 2791.2L343.7 2785.6L345.2 2793.9L346.7 2785.9L348.1 2794.4L349.6 2787.1L351 2795.5L352.5 2789.8L353.9 2794.8L355.5 2796.8L357.1 2787.8L358.6 2794.9L360.2 2782.7L361.7 2788.5L363.3 2779.9L364.9 2786.6L366.4 2778.1L368 2778.5L369.4 2783.9L370.9 2779.9L372.3 2792.3L373.8 2786.4L375.2 2796.9L376.7 2792.1L378.1 2802.2L379.6 2796.5L381 2804.9L382.5 2812L384 2803.4L385.5 2810.8L387 2806.2L388.5 2816.3L390 2808.9L391.5 2816L393 2811.9L394.5 2820.8L396 2817.1L397.6 2809.7L399.1 2814.6L400.6 2803.9L402.1 2810.6L403.6 2796.8L405.1 2805.1L406.7 2796.8L408.1 2797.1L409.5 2810.2L411 2803.3L412.4 2818.6L413.8 2812.1L415.3 2821.2L416.7 2829.3L418.1 2824.6L419.6 2837.8L421 2831.6L422.5 2844.8L423.9 2843.6L425.4 2835L427 2834.9L428.5 2823.7L430.1 2821.2L431.7 2830.1L433.3 2825.8L434.9 2837.5L436.5 2836.3L438.1 2843.6L439.7 2845L441.3 2832.4L442.8 2836.1L444.4 2820.8L446 2825.9L447.5 2817.1L449 2808.5L450.4 2816.5L451.8 2806.9L453.3 2812.1L454.7 2799.9L456.2 2800.9L457.7 2807.2L459.2 2797L460.7 2805.6L462.2 2801.3L463.7 2806.5L465.2 2799.8L466.7 2810.8L468.2 2803.3L469.7 2809.5L471.2 2804.1L472.7 2813.6L474.2 2809L475.7 2804.4L477.2 2815.2L478.7 2804.2L480.2 2815.5L481.7 2805.5L483.2 2813.4L484.7 2809.5L486.1 2817.4L487.6 2807.8L489.1 2816.1L490.6 2813.1L492.2 2807.4L493.7 2810.4L495.3 2800.5L496.8 2804.9L498.4 2794L499.9 2797.7L501.4 2791.7L502.9 2791L504.4 2798.1L505.9 2794.3L507.4 2801.1L508.9 2796.7L510.3 2804.7L511.8 2798.6L513.3 2809.8L514.8 2803.4L516.3 2809L517.7 2813.9L519.2 2806.7L520.6 2812.2L522.1 2808L523.5 2814.1L525 2807.5L526.5 2814.5L527.9 2808.4L529.4 2817.4L530.8 2810.3L532.3 2816.6L533.7 2813.1L535.3 2808L536.8 2813.3L538.4 2803.7L540 2810.1L541.5 2803.4L543.1 2806.9L544.7 2796.8L546.3 2804.7L547.8 2797.2L549.4 2804.2L551 2796.8L552.4 2792.7L553.8 2803.6L555.2 2794.8L556.7 2803.9L558.1 2796.8L559.5 2802.6L560.9 2794.8L562.4 2804.5L563.8 2800.9L565.2 2798.4L566.7 2809.9L568.1 2803.5L569.6 2814.1L571 2809.9L572.5 2820L573.9 2817L575.4 2828.1L576.8 2825.3L578.2 2820.1L579.7 2827.8L581.1 2818L582.5 2824.8L584 2812.9L585.4 2817.1L586.9 2819.5L588.4 2809.7L589.9 2815.2L591.4 2802.5L592.9 2811.4L594.4 2803.9L596 2797.9L597.5 2803.3L599.1 2795L600.7 2800.4L602.2 2790.4L603.8 2793.9L605.3 2786.6L606.9 2786.7L608.4 2791.4L610 2787.1L611.6 2796.7L613.1 2792L614.7 2800.6L616.3 2793.8L617.8 2803.4L619.4 2800.3L621 2809.1L622.5 2801.4L624.1 2809L625.6 2813.5L627.2 2802.2L628.7 2807.8L630.2 2798.6L631.8 2808.8L633.3 2796L634.8 2804.5L636.4 2795.5L637.9 2802.3L639.4 2791.5L640.9 2801.4L642.5 2790.2L644 2797L645.5 2791.7L647.1 2789.7L648.6 2798.4L650.2 2791.2L651.7 2799.9L653.3 2794L654.8 2804.8L656.4 2797.4L657.9 2804.7L659.5 2799.6L661 2809.5L662.6 2802L664.1 2811.9L665.6 2802.1L667.2 2809L668.7 2814L670.3 2802.6L671.8 2810.1L673.3 2802.8L674.8 2811.4L676.4 2802.5L677.9 2809.4L679.4 2798.9L681 2809.5L682.5 2799.7L684 2805.2L685.6 2799.8L687.1 2804.8L688.6 2800.9L690.2 2795.4L691.8 2801.5L693.3 2791.7L694.9 2800.3L696.5 2789.9L698 2798.4L699.6 2788.4L701.2 2795.2L702.7 2785.8L704.3 2791.2L705.9 2786.7L707.3 2785.5L708.8 2794.5L710.3 2785.1L711.7 2794.3L713.2 2788.5L714.7 2794.8L716.2 2799.2L717.8 2795.1L719.3 2804.2L720.9 2797.3L722.4 2808.7L724 2802.9L725.5 2812.5L727.1 2808L728.6 2816.1L730.2 2812.8L731.7 2817.1L733.3 2815.7L734.8 2805.6L736.4 2811.2L737.9 2797.9L739.5 2802.1L741 2789.4L742.5 2791.7L744 2790.3L745.4 2780.3L746.8 2783.7L748.2 2773.7L749.7 2778.5L751.1 2763.9L752.5 2767.6L753.9 2758.4L755.4 2757.4L756.9 2760.9L758.5 2750.3L760 2755.4L761.5 2747.1L763.1 2752L764.6 2742.5L766.2 2748.4L767.7 2739L769.3 2744L770.8 2739.9L772.3 2736.6L773.7 2746.1L775.2 2739.2L776.7 2748.9L778.1 2738.6L779.6 2749.9L781 2742.4L782.5 2749.8L784 2743.4L785.4 2748.8L786.9 2752.1L788.3 2746.1L789.8 2753L791.2 2746L792.7 2753.4L794.1 2743.8L795.6 2751L797.1 2744.3L798.5 2751.7L800 2745.4L801.4 2753.8L802.9 2748.8L804.3 2744.9L805.7 2756L807.1 2749.6L808.6 2760.1L810 2752.8L811.4 2763.3L812.8 2757.7L814.3 2766.8L815.7 2766.3L817.1 2767.8L818.6 2782.8L820 2777.9L821.4 2794.4L822.9 2790.9L824.3 2800.9L825.8 2804.8L827.3 2796.9L828.9 2806.4L830.4 2797.6L831.9 2807.2L833.4 2797.6L834.9 2802.9L836.4 2816.8L837.9 2814.7L839.4 2832.8L840.9 2835.4L842.5 2833.2L844 2844.5L845.6 2838.4L847.1 2849.8L848.6 2843.7L850.2 2851.7L851.7 2856.1L853.3 2843.8L854.8 2853.9L856.3 2842.3L857.9 2849.9L859.4 2841.5L861 2843.6L862.6 2852.4L864.2 2846.5L865.8 2859.9L867.4 2857.7L869 2864.9L870.6 2865.8L872.2 2850.9L873.8 2855.2L875.4 2845.4L877 2846.4L878.6 2835.4L880.2 2835.4L881.7 2840.3L883.1 2831.3L884.5 2839L885.9 2831L887.4 2835.7L888.8 2828L890.2 2836.7L891.6 2827.1L893.1 2830.6L894.6 2834L896.1 2824.4L897.7 2830.1L899.2 2821.1L900.8 2826L902.3 2819.7L903.9 2821.2L905.5 2819.6L907.1 2806.4L908.7 2808.8L910.3 2800.9L911.7 2796.8L913.1 2804.8L914.6 2793.2L916 2800.5L917.4 2790.6L918.8 2799.7L920.3 2788.5L921.7 2797L923.1 2791.7L924.6 2788.3L926 2796.2L927.5 2791L928.9 2799.4L930.4 2793.7L931.8 2801.4L933.2 2793.3L934.7 2802.8L936.1 2800.9L937.7 2795.8L939.2 2799.2L940.8 2790.5L942.3 2793L943.9 2782.6L945.4 2790L947 2783.2L948.6 2779.6L950.2 2784.7L951.9 2776.4L953.5 2781.8L955.2 2776.5L956.8 2772.9L958.3 2786.8L959.9 2779.4L961.5 2790.3L963.1 2783.4L964.6 2792L966.2 2791.7L967.7 2790.9L969.1 2802.6L970.5 2795.1L972 2807.9L973.4 2799.9L974.9 2812.3L976.3 2806.7L977.8 2819.6L979.2 2817.1L980.7 2812.3L982.1 2824.5L983.5 2814.4L984.9 2824.2L986.4 2818.1L987.8 2827.1L989.2 2820.9L990.6 2827.7L992.1 2825.3L993.6 2821.4L995.2 2827.4L996.8 2821.4L998.3 2828.4L999.9 2820.1L1001.5 2825.4L1003 2817.5L1004.6 2828.1L1006.2 2819L1007.7 2826.4L1009.3 2821.2L1010.9 2820.5L1012.4 2827.5L1014 2823.5L1015.6 2832.5L1017.1 2825.3L1018.7 2836.5L1020.3 2828.2L1021.8 2839.6L1023.4 2830.7L1025 2842.2L1026.5 2839.5L1028 2834.5L1029.4 2838.2L1030.8 2828L1032.2 2836.7L1033.7 2824.7L1035.1 2833.1L1036.5 2820L1037.9 2826.9L1039.4 2821.2L1040.8 2816.1L1042.2 2820.5L1043.7 2808.8L1045.1 2817.7L1046.6 2807.8L1048 2809.8L1049.5 2801.6L1050.9 2808.8L1052.4 2800.9L1053.8 2792.9L1055.3 2801.3L1056.7 2791.1L1058.2 2793.8L1059.6 2783.3L1061.1 2789.8L1062.5 2780.1L1064 2786.8L1065.4 2778.5L1066.8 2775.5L1068.3 2780.8L1069.7 2770.4L1071.1 2779.9L1072.6 2768.6L1074 2776.5L1075.4 2772.4L1076.9 2769.5L1078.3 2781L1079.7 2773.8L1081.1 2781.6L1082.6 2773.2L1084 2783.2L1085.4 2776.7L1086.9 2783.2L1088.4 2789.9L1090 2783.5L1091.6 2794.3L1093.2 2784.9L1094.7 2794.3L1096.3 2787.4L1097.9 2800.7L1099.5 2796.8L1100.9 2788.5L1102.4 2790.3L1103.9 2778.5L1105.4 2783.7L1106.8 2769.9L1108.3 2772.9L1109.8 2762.2L1111.2 2767L1112.7 2757.4L1114.2 2752L1115.8 2759.4L1117.3 2752.8L1118.8 2759.7L1120.4 2751.5L1121.9 2761L1123.4 2748.9L1124.9 2756.4L1126.5 2749.4L1128 2756.1L1129.5 2753.1L1131 2749.1L1132.4 2760.1L1133.9 2751.8L1135.3 2764.5L1136.8 2754.6L1138.3 2764.5L1139.7 2760.8L1141.2 2769.7L1142.6 2762.1L1144.1 2772.6L1145.5 2765.1L1147 2770.4L1148.4 2776.9L1149.8 2771.1L1151.3 2782.5L1152.7 2777.7L1154.2 2788.3L1155.6 2787.5L1157 2780.4L1158.5 2785.1L1159.9 2776.5L1161.4 2782.4L1162.8 2770.9L1164.3 2779L1165.7 2767.5L1167.2 2774.5L1168.6 2766.3L1170.1 2763.4L1171.5 2773.7L1173 2767.7L1174.4 2777.3L1175.9 2771L1177.3 2779.8L1178.7 2773.8L1180.2 2784.8L1181.6 2783.2L1183.2 2782.3L1184.8 2788.2L1186.3 2783.6L1187.9 2791.5L1189.4 2784.3L1191 2794.5L1192.6 2786.5L1194.1 2796.7L1195.7 2794.8L1197.2 2790.8L1198.7 2799.6L1200.2 2787.8L1201.7 2798.5L1203.2 2789.7L1204.7 2794.1L1206.2 2786.4L1207.7 2794.1L1209.2 2787.7L1210.7 2789.7L1212.3 2788.8L1213.9 2779.7L1215.4 2783L1217 2771.6L1218.6 2779L1220.2 2766.9L1221.7 2766.3L1223.2 2774.9L1224.8 2768.6L1226.3 2781.8L1227.8 2773.7L1229.3 2788.7L1230.8 2783.7L1232.3 2789.7L1233.8 2796.6L1235.2 2788.4L1236.6 2799L1238 2795.2L1239.5 2804.4L1240.9 2796.7L1242.3 2808.2L1243.7 2800L1245.2 2807L1246.8 2814.1L1248.3 2809L1249.9 2819.2L1251.5 2809.8L1253.1 2821.3L1254.6 2814.8L1256.2 2827.9L1257.8 2824.3L1259.4 2818L1261 2822.7L1262.5 2812.4L1264.1 2819.5L1265.7 2808.2L1267.2 2814.3L1268.8 2807L1270.4 2796.2L1272 2800.7L1273.5 2786.5L1275.1 2789.9L1276.7 2777.9L1278.3 2782.7L1279.8 2772.4L1281.3 2766L1282.8 2770.1L1284.3 2760.9L1285.8 2764.8L1287.3 2754.9L1288.7 2759.4L1290.2 2749.9L1291.7 2754.6L1293.2 2744.4L1294.7 2744.6L1296.2 2752.2L1297.8 2749.8L1299.3 2763.9L1300.9 2759.6L1302.4 2770.2L1304 2766.8L1305.5 2776.5L1307 2783L1308.5 2778.3L1310 2788.9L1311.5 2782.3L1312.9 2791.9L1314.4 2786.5L1315.9 2791.7L1317.4 2795.9L1318.9 2785.8L1320.3 2792.8L1321.8 2781.8L1323.3 2790.7L1324.7 2781.4L1326.2 2786.8L1327.7 2778L1329.1 2781.2L1330.7 2783.9L1332.3 2773.4L1333.9 2779.3L1335.5 2773.1L1337.1 2776.2L1338.6 2767.4L1340.2 2774L1341.8 2764.7L1343.4 2768.4L1344.9 2775.8L1346.5 2769.6L1348.1 2783.6L1349.7 2777.2L1351.2 2788.6L1352.8 2789.7L1354.2 2786.5L1355.7 2798L1357.1 2794.6L1358.6 2804.6L1360 2798.5L1361.5 2808.6L1362.9 2804.1L1364.4 2812.5L1365.8 2811L1367.2 2807.6L1368.7 2815.8L1370.1 2807.1L1371.5 2816.1L1372.9 2807.7L1374.4 2816.5L1375.8 2808.3L1377.2 2817.9L1378.6 2815.1L1380.2 2805.8L1381.7 2811.7L1383.3 2796.7L1384.8 2802.3L1386.4 2789.9L1387.9 2793.6L1389.5 2783.2L1391 2786.1L1392.5 2798.2L1394 2793.3L1395.5 2808.8L1397.1 2804L1398.6 2818.5L1400.1 2819.2L1401.5 2811.9L1403 2819.4L1404.4 2809.5L1405.9 2819L1407.3 2809.6L1408.8 2815L1410.2 2805.9L1411.7 2811L1413.1 2807L1414.6 2800.1L1416 2809.5L1417.5 2797.6L1418.9 2803.4L1420.4 2794.8L1421.8 2804L1423.3 2792L1424.7 2801.1L1426.1 2794L1427.6 2787.5L1429 2797.6L1430.4 2787.1L1431.9 2794.8L1433.3 2785.8L1434.7 2793.6L1436.2 2789.7L1437.7 2788L1439.2 2796L1440.6 2790.8L1442.1 2797.8L1443.6 2794.4L1445.1 2801.7L1446.6 2797L1448.1 2803.6L1449.6 2802.9L1451.2 2802L1452.9 2816.4L1454.6 2811.7L1456.2 2819.2L1457.7 2822.3L1459.2 2810.2L1460.8 2816.2L1462.3 2807.9L1463.8 2814.9L1465.3 2806L1466.8 2807L1468.3 2808.3L1469.7 2793.2L1471.2 2798.3L1472.6 2785.6L1474.1 2790.9L1475.5 2778.9L1477 2782.5L1478.4 2768.5L1479.9 2768.4L1481.3 2775.5L1482.7 2772.9L1484.1 2784.1L1485.6 2781.2L1487 2792.9L1488.4 2787.7L1489.8 2800.8L1491.3 2793.3L1492.7 2802.9L1494.1 2802L1495.6 2788.2L1497 2787.7L1498.4 2774L1499.9 2778.2L1501.3 2766.3L1502.7 2767.2L1504.2 2780.7L1505.6 2777.3L1507.1 2791.9L1508.5 2789L1510 2802.7L1511.4 2798.5L1512.9 2814.2L1514.3 2815.1L1515.8 2807.1L1517.4 2808.7L1518.9 2794.9L1520.4 2795.8L1521.9 2783.5L1523.4 2785.1L1524.9 2776.5L1526.4 2773.1L1527.8 2784.3L1529.3 2779.5L1530.7 2788.3L1532.2 2785.3L1533.6 2795.6L1535.1 2789.4L1536.5 2800.5L1538 2798.2L1539.5 2793.5L1541 2802L1542.6 2794.1L1544.1 2802.5L1545.7 2791.8L1547.2 2798.3L1548.7 2790.4L1550.3 2798.2L1551.8 2791.3L1553.3 2799.3L1554.9 2788.7L1556.4 2794L1557.9 2795.7L1559.3 2788.6L1560.8 2794.9L1562.2 2784.9L1563.7 2792.5L1565.1 2782.7L1566.6 2792.5L1568 2785.4L1569.6 2781.2L1571.1 2785.4L1572.7 2774.7L1574.2 2783.3L1575.8 2770.3L1577.3 2777.7L1578.9 2772.4L1580.4 2771.9L1581.9 2782.3L1583.4 2774.8L1584.9 2788L1586.4 2781.1L1587.9 2790.5L1589.4 2785.7L1590.9 2796.2L1592.4 2793.5L1593.9 2798.2L1595.5 2802.5L1597 2799L1598.6 2808.1L1600.2 2802.5L1601.8 2812.6L1603.4 2806.8L1604.9 2817.6L1606.5 2815.1L1608 2809.5L1609.5 2814.7L1610.9 2801.9L1612.4 2809.1L1613.9 2796.7L1615.3 2802.4L1616.8 2790L1618.3 2797.2L1619.7 2789.7L1621.3 2781.8L1622.8 2785.6L1624.4 2772.5L1625.9 2773.7L1627.5 2760.4L1629 2764.8L1630.6 2756.2L1632.1 2755.8L1633.6 2766.4L1635.1 2758.7L1636.6 2767.6L1638.2 2764.3L1639.7 2773.5L1641.2 2772.4L1642.6 2770.7L1644.1 2780.2L1645.5 2773.8L1647 2780.6L1648.4 2774.2L1649.9 2785.4L1651.3 2778.6L1652.8 2789.5L1654.2 2785.4L1655.6 2783.1L1657.1 2795.6L1658.5 2789.2L1659.9 2798.3L1661.3 2794L1662.8 2803.7L1664.2 2797.8L1665.6 2807.5L1667 2807L1668.6 2801.3L1670.2 2810L1671.9 2797.9L1673.5 2803.7L1675.1 2796.2L1676.7 2798.8L1678.2 2800.4L1679.8 2790.6L1681.3 2795.9L1682.9 2781.8L1684.4 2788.3L1686 2776.9L1687.5 2782.6L1689.1 2775.1L1690.5 2776.1L1692 2788.8L1693.5 2785.1L1694.9 2797.3L1696.4 2794.7L1697.8 2805.6L1699.3 2808L1700.9 2804L1702.4 2812.1L1704 2806.5L1705.5 2812.8L1707.1 2805.6L1708.6 2815.1L1710.2 2807.4L1711.7 2812.3L1713.3 2814.3L1714.8 2803.8L1716.4 2809.6L1717.9 2800.9L1719.5 2807.1L1721.1 2795L1722.6 2800.6L1724.2 2795.8L1725.7 2790L1727.3 2793L1728.8 2781.2L1730.4 2786.6L1731.9 2777.1L1733.5 2780.8L1735 2769.8L1736.6 2775.3L1738.1 2764.2L1739.7 2768.1L1741.2 2755.4L1742.8 2758.2L1744.2 2767L1745.7 2762.8L1747.1 2773.6L1748.6 2770.5L1750 2782.9L1751.5 2777.6L1752.9 2790.2L1754.3 2785.3L1755.8 2795L1757.2 2795.8L1758.8 2793.7L1760.3 2801.9L1761.9 2796.5L1763.4 2804.9L1765 2799L1766.5 2806.6L1768.1 2800.9L1769.7 2811.6L1771.2 2805.2L1772.8 2812.2L1774.3 2808.7L1775.9 2812.3L1777.3 2807.9L1778.8 2793.9L1780.2 2795.4L1781.7 2777.9L1783.2 2781.8L1784.6 2766.7L1786.1 2762.3L1787.6 2767.8L1789.2 2764.2L1790.7 2771.9L1792.3 2769.7L1793.8 2778.5L1795.4 2770.9L1796.9 2779.1L1798.4 2781.9L1799.9 2770.7L1801.4 2772.8L1802.9 2763.2L1804.4 2768.9L1805.9 2757.9L1807.4 2761.1L1808.9 2754.1L1810.4 2756.4L1811.9 2774.8L1813.4 2774.6L1814.9 2789.3L1816.4 2788.3L1817.9 2803.4L1819.5 2803.1L1821 2816.3L1822.5 2819.3L1824 2809.3L1825.5 2814.4L1827 2806.8L1828.5 2813.1L1830.1 2802.9L1831.6 2803.9L1833.1 2810.7L1834.6 2803.8L1836 2815.4L1837.5 2808.1L1839 2818.9L1840.5 2813.3L1842 2820.4L1843.5 2818L1844.9 2805L1846.4 2809.6L1847.8 2795.3L1849.3 2798.9L1850.8 2783.9L1852.2 2783.4L1853.8 2781.9L1855.3 2773.1L1856.9 2775.3L1858.4 2764L1860 2770.4L1861.5 2758.4L1863.1 2763.5L1864.6 2754.1L1866.1 2756L1867.6 2767.4L1869.1 2763L1870.6 2776.4L1872.1 2772.5L1873.6 2785L1875.1 2787.5L1876.5 2788.4L1877.9 2801.1L1879.4 2795.2L1880.8 2806.5L1882.2 2804.1L1883.7 2816.4L1885.1 2816.3L1886.7 2806.9L1888.3 2807.6L1889.9 2792.5L1891.5 2787.5L1893.1 2799L1894.8 2794.2L1896.4 2809.4L1898.1 2807L1899.7 2816.3L1901.1 2814.6L1902.5 2802.7L1903.9 2807.7L1905.3 2794.6L1906.7 2796.2L1908.1 2787.5L1909.6 2782.7L1911.1 2792.7L1912.6 2781.6L1914.1 2791.9L1915.7 2780.9L1917.2 2785.4L1918.7 2787.6L1920.2 2776.5L1921.7 2782.9L1923.2 2774L1924.7 2779.6L1926.2 2773.4L1927.8 2776.5L1929.3 2768.7L1930.8 2771L1932.3 2778.8L1933.9 2770.9L1935.4 2783.2L1937 2777.7L1938.5 2787.1L1940.1 2782.5L1941.7 2792.3L1943.2 2791.5L1944.7 2788.9L1946.2 2799.1L1947.7 2793.6L1949.2 2803.2L1950.7 2796.4L1952.2 2806L1953.7 2799.8L1955.2 2805.6L1956.7 2799.2L1958.1 2809.9L1959.6 2808L1961.2 2805.4L1962.7 2815.2L1964.3 2808.7L1965.9 2816.6L1967.4 2807.7L1969 2818.2L1970.5 2813L1972.1 2819L1973.6 2811.8L1975.2 2821.2L1976.7 2814.5L1978.3 2820.4L1979.7 2822.5L1981.2 2810.4L1982.6 2817.6L1984.1 2806.4L1985.5 2813.3L1986.9 2800.7L1988.4 2806.2L1989.8 2798.3L1991.3 2802.7L1992.7 2795.8L1994.2 2789.2L1995.7 2796L1997.2 2785.8L1998.8 2792.7L2000.3 2780.1L2001.8 2786L2003.3 2777.3L2004.8 2780.6L2006.3 2772.3L2007.8 2778L2009.3 2771L2010.8 2772.6L2012.3 2786.8L2013.7 2783.5L2015.2 2797.5L2016.6 2791.5L2018.1 2807.4L2019.6 2808L2021.1 2797.5L2022.5 2800.7L2024 2788.2L2025.5 2790.5L2027 2777.9L2028.5 2782.2L2030 2771L2031.5 2766.7L2033 2775L2034.4 2763.2L2035.9 2770.4L2037.4 2766.3" fill="none" stroke="#ff0000" stroke-width="10.8" stroke-linejoin="round" stroke-linecap="butt" clip-path="url(#c3)"/>
<g fill="#fff" stroke="#ff0000" stroke-width="2.7" clip-path="url(#c3)">
<circle cx="233.7" cy="2792.7" r="11.8"/>
<circle cx="353.9" cy="2794.8" r="11.8"/>
<circle cx="474.2" cy="2809" r="11.8"/>
<circle cx="594.4" cy="2803.9" r="11.8"/>
<circle cx="714.7" cy="2794.8" r="11.8"/>
<circle cx="834.9" cy="2802.9" r="11.8"/>
<circle cx="955.2" cy="2776.5" r="11.8"/>
<circle cx="1075.4" cy="2772.4" r="11.8"/>
<circle cx="1195.7" cy="2794.8" r="11.8"/>
<circle cx="1315.9" cy="2791.7" r="11.8"/>
<circle cx="1436.2" cy="2789.7" r="11.8"/>
<circle cx="1556.4" cy="2794" r="11.8"/>
<circle cx="1676.7" cy="2798.8" r="11.8"/>
<circle cx="1796.9" cy="2779.1" r="11.8"/>
<circle cx="1917.2" cy="2785.4" r="11.8"/>
<circle cx="2037.4" cy="2766.3" r="11.8"/>
</g>
<path d="M233.7 2813.1C235.6 2808.8 240.5 2794.6 245.3 2787.5C250.1 2780.3 256.1 2773.6 262.6 2770.4C269 2767.2 276.6 2769.7 283.8 2768.4C291 2767 299.3 2761.9 305.8 2762.3C312.4 2762.6 315.9 2766.2 322.9 2770.4C329.9 2774.6 336.4 2782.4 347.9 2787.5C359.5 2792.5 377.7 2797 392 2800.9C406.4 2804.8 420.4 2809.7 434.1 2811C447.8 2812.4 463.2 2808 474.2 2809C485.2 2810 488.9 2814.8 500.2 2817.1C511.6 2819.5 531.7 2820.9 542.3 2823.2C552.9 2825.6 557.3 2827.3 563.8 2831.4C570.2 2835.4 575.9 2842.9 581 2847.6C586.1 2852.4 590.1 2856.1 594.4 2859.8C598.7 2863.6 601.9 2868 606.9 2870C611.8 2872 618.7 2872.9 624.1 2872C629.5 2871.2 634.1 2870.4 639.1 2864.9C644.2 2859.5 649.2 2850.9 654.6 2839.5C659.9 2828.2 665.7 2811.2 671.4 2796.8C677.1 2782.4 682.9 2766 688.6 2753.1C694.4 2740.2 701.5 2727.5 705.9 2719.6C710.2 2711.6 709.9 2705.3 714.7 2705.3C719.5 2705.3 728.7 2713.8 734.7 2719.6C740.7 2725.3 745.1 2735.7 750.8 2739.9C756.4 2744.1 759.4 2741.5 768.8 2744.6C778.2 2747.6 798.4 2750.3 806.9 2758.2C815.4 2766 815.2 2778.5 819.9 2791.7C824.6 2804.9 830.6 2823.8 834.9 2837.5C839.2 2851.2 841.7 2865.6 845.8 2874.1C849.8 2882.6 854.8 2888.3 859 2888.3C863.2 2888.3 866.8 2881.5 871 2874.1C875.2 2866.6 879.3 2853.7 884.4 2843.6C889.5 2833.4 895.2 2822.4 901.7 2813.1C908.1 2803.7 916.6 2795.3 923.1 2787.5C929.6 2779.7 935.2 2770.5 940.5 2766.3C945.9 2762.1 950.9 2759.4 955.2 2762.3C959.5 2765.1 961.5 2774 966.2 2783.2C970.9 2792.3 976.1 2807.8 983.2 2817.1C990.4 2826.5 1002.1 2834.8 1009.3 2839.5C1016.5 2844.3 1020.8 2848 1026.5 2845.6C1032.2 2843.2 1037.6 2834.3 1043.4 2825.3C1049.1 2816.3 1055.7 2800.9 1061 2791.7C1066.3 2782.6 1069 2773.9 1075.4 2770.4C1081.8 2766.8 1089.5 2769.4 1099.5 2770.4C1109.5 2771.4 1119.5 2770 1135.5 2776.5C1151.6 2782.9 1182.3 2808 1195.7 2809C1209 2810.1 1211 2787.1 1215.7 2782.8C1220.4 2778.5 1221.1 2782.4 1223.7 2783.2C1226.4 2784 1229 2785 1231.7 2787.5C1234.5 2789.9 1237.3 2794.6 1240 2797.8C1242.7 2801.1 1245.3 2805 1248 2807C1250.7 2809 1253.3 2810.1 1256 2809.8C1258.7 2809.5 1261.3 2807.9 1264 2805.2C1266.7 2802.4 1269.3 2798 1272 2793.4C1274.7 2788.7 1277.5 2781.6 1280.2 2777.1C1283 2772.6 1285.6 2768.4 1288.3 2766.5C1290.9 2764.7 1293.6 2765 1296.3 2765.9C1299 2766.8 1301.6 2769.4 1304.3 2771.8C1307 2774.2 1309.6 2778.1 1312.3 2780.1C1315 2782.1 1317.8 2783.6 1320.5 2783.8C1323.2 2784 1325.9 2782.3 1328.5 2781.6C1331.2 2780.8 1333.9 2779.1 1336.6 2779.1C1339.2 2779.2 1341.9 2780.2 1344.6 2781.8C1347.3 2783.4 1349.9 2785.9 1352.6 2788.7C1355.3 2791.5 1358.1 2795.8 1360.8 2798.4C1363.5 2801.1 1366.2 2804 1368.8 2804.7C1371.5 2805.5 1374.2 2803.5 1376.8 2803.1C1379.5 2802.8 1382.2 2802.7 1384.9 2802.7C1387.5 2802.7 1390.2 2803.1 1392.9 2803.1C1395.6 2803.2 1398.4 2802.7 1401.1 2803.1C1403.8 2803.5 1406.4 2805.6 1409.1 2805.4C1411.8 2805.1 1414.5 2803.2 1417.1 2801.7C1419.8 2800.2 1422.5 2797.6 1425.1 2796.4C1427.8 2795.2 1430.5 2794.2 1433.2 2794.4C1435.8 2794.5 1438.5 2796.1 1441.2 2797.4C1443.9 2798.7 1446.7 2801.2 1449.4 2802.3C1452.1 2803.4 1454.7 2804.7 1457.4 2804.1C1460.1 2803.6 1462.8 2800.8 1465.4 2798.8C1468.1 2796.9 1470.8 2793.9 1473.4 2792.1C1476.1 2790.4 1478.8 2789.8 1481.5 2788.3C1484.2 2786.7 1487 2783 1489.7 2782.8C1492.4 2782.6 1495 2785.8 1497.7 2787.3C1500.4 2788.8 1503 2791.5 1505.7 2791.7C1508.4 2792 1511.1 2788.7 1513.7 2788.9C1516.4 2789.1 1519 2792.2 1521.7 2792.7C1524.4 2793.3 1527.3 2792.4 1530 2792.1C1532.7 2791.8 1535.3 2790.7 1538 2790.9C1540.6 2791.2 1543.3 2793.3 1546 2793.6C1548.7 2793.8 1551.3 2793.3 1554 2792.3C1556.7 2791.4 1559.3 2789.5 1562 2788.1C1564.7 2786.7 1567.5 2784.7 1570.2 2784C1572.9 2783.3 1575.6 2783.2 1578.3 2783.8C1580.9 2784.4 1583.6 2785.9 1586.3 2787.9C1588.9 2789.9 1591.6 2793.7 1594.3 2795.8C1597 2797.9 1599.6 2800.3 1602.3 2800.7C1605 2801.1 1607.8 2800.3 1610.5 2798.2C1613.2 2796.2 1615.9 2791.6 1618.5 2788.3C1621.2 2784.9 1623.9 2780.6 1626.6 2778.1C1629.2 2775.6 1631.9 2773.8 1634.6 2773.2C1637.2 2772.7 1639.9 2772.9 1642.6 2774.7C1645.3 2776.4 1648.1 2780.8 1650.8 2783.6C1653.5 2786.4 1656.2 2789.7 1658.8 2791.7C1661.5 2793.7 1664.2 2795.3 1666.8 2795.6C1669.5 2795.9 1672.2 2794.3 1674.9 2793.8C1677.5 2793.2 1680.2 2792.2 1682.9 2792.1C1685.6 2792.1 1688.4 2792.7 1691.1 2793.6C1693.8 2794.4 1696.4 2795.9 1699.1 2797.4C1701.8 2799 1704.5 2802 1707.1 2802.7C1709.8 2803.4 1712.5 2803.1 1715.1 2801.5C1717.8 2799.9 1720.4 2796.5 1723.2 2793.4C1725.9 2790.2 1728.7 2785.1 1731.4 2782.4C1734.1 2779.7 1736.7 2777.6 1739.4 2777.1C1742.1 2776.6 1744.7 2777.6 1747.4 2779.1C1750.1 2780.7 1752.7 2783.5 1755.4 2786.4C1758.1 2789.4 1760.7 2795.3 1763.4 2796.8C1766.1 2798.3 1768.9 2796.9 1771.7 2795.6C1774.4 2794.3 1777 2791.6 1779.7 2789.3C1782.3 2787 1785 2785 1787.7 2782C1790.4 2779 1793 2772.4 1795.7 2771.2C1798.4 2770 1801 2772.5 1803.7 2774.7C1806.4 2776.8 1809.2 2781.2 1811.9 2784C1814.6 2786.9 1817.3 2788.2 1820 2791.7C1822.6 2795.2 1825.3 2802.5 1828 2804.9C1830.6 2807.4 1833.3 2807.6 1836 2806.4C1838.7 2805.2 1841.3 2801.1 1844 2797.8C1846.7 2794.6 1849.3 2790.3 1852 2787.1C1854.7 2783.8 1857.5 2779.5 1860.2 2778.1C1862.9 2776.8 1865.6 2777.6 1868.3 2778.9C1870.9 2780.2 1873.6 2783 1876.3 2785.8C1878.9 2788.6 1881.6 2793.2 1884.3 2795.8C1887 2798.4 1889.6 2801.1 1892.3 2801.3C1895 2801.5 1897.8 2798.5 1900.5 2797C1903.2 2795.6 1905.9 2794.5 1908.5 2792.5C1911.2 2790.6 1913.9 2787.3 1916.6 2785.4C1919.2 2783.5 1921.9 2781.6 1924.6 2781.2C1927.2 2780.7 1929.9 2781.6 1932.6 2782.6C1935.3 2783.6 1938.1 2785 1940.8 2787.1C1943.5 2789.1 1946.1 2792.4 1948.8 2795C1951.5 2797.6 1954.2 2800.3 1956.8 2802.5C1959.5 2804.7 1962.2 2807.2 1964.9 2808.4C1967.5 2809.7 1970.2 2810.2 1972.9 2810C1975.6 2809.8 1978.4 2808.8 1981.1 2807.2C1983.8 2805.5 1986.4 2802.9 1989.1 2800.1C1991.8 2797.3 1994.4 2792.3 1997.1 2790.3C1999.8 2788.3 2002.5 2788.5 2005.1 2787.9C2007.8 2787.2 2010.4 2787.2 2013.2 2786.4C2015.9 2785.7 2018.7 2784.3 2021.4 2783.4C2024.1 2782.5 2026.7 2782.6 2029.4 2781C2032.1 2779.3 2036.1 2774.7 2037.4 2773.4" fill="none" stroke="#ff0000" stroke-width="3.9" stroke-linejoin="round" stroke-linecap="butt" clip-path="url(#c3)"/>
<g fill="#fff" stroke="#ff0000" stroke-width="2.7" clip-path="url(#c3)">
<circle cx="233.7" cy="2813.1" r="11.8"/>
<circle cx="353.9" cy="2789.3" r="11.8"/>
<circle cx="474.2" cy="2809" r="11.8"/>
<circle cx="594.4" cy="2859.8" r="11.8"/>
<circle cx="714.7" cy="2705.3" r="11.8"/>
<circle cx="834.9" cy="2837.5" r="11.8"/>
<circle cx="955.2" cy="2762.3" r="11.8"/>
<circle cx="1075.4" cy="2770.4" r="11.8"/>
<circle cx="1195.7" cy="2809" r="11.8"/>
<circle cx="1315.9" cy="2781.8" r="11.8"/>
<circle cx="1436.2" cy="2795.5" r="11.8"/>
<circle cx="1556.4" cy="2791.1" r="11.8"/>
<circle cx="1676.7" cy="2793.4" r="11.8"/>
<circle cx="1796.9" cy="2771.7" r="11.8"/>
<circle cx="1917.2" cy="2785.1" r="11.8"/>
<circle cx="2037.4" cy="2773.4" r="11.8"/>
</g>
<rect x="780.8" y="3006" width="1004" height="177" fill="#fff" stroke="#000" stroke-width="2.3"/>
<text x="1090.7" y="3053.4" font-size="46.2" text-anchor="end">Without Control</text>
<path d="M1102.8 3036.9H1207" stroke="#0000ff" stroke-width="10.3" stroke-linecap="round" fill="none"/>
<g fill="#fff" stroke="#0000ff" stroke-width="2.7"><rect x="1144.2" y="3026.2" width="21.5" height="21.5"/></g>
<text x="1219.7" y="3052.7" font-size="46.2" text-anchor="start">Circumferential</text>
<path d="M1521 3036.9H1626" stroke="#0000ff" stroke-width="4.0" stroke-linecap="round" fill="none"/>
<g fill="#fff" stroke="#0000ff" stroke-width="2.7"><rect x="1562.8" y="3026.2" width="21.5" height="21.5"/></g>
<text x="1637" y="3052.7" font-size="46.2" text-anchor="start">Chassis</text>
<text x="1090.7" y="3111.5" font-size="46.2" text-anchor="end">With MFC</text>
<path d="M1102.8 3095H1207" stroke="#008000" stroke-width="10.3" stroke-linecap="round" fill="none"/>
<g fill="#fff" stroke="#008000" stroke-width="2.7"><path d="M1154.9 3079.2L1168.6 3102.9L1141.2 3102.9Z"/></g>
<text x="1219.7" y="3110.8" font-size="46.2" text-anchor="start">Circumferential</text>
<path d="M1521 3095H1626" stroke="#008000" stroke-width="4.0" stroke-linecap="round" fill="none"/>
<g fill="#fff" stroke="#008000" stroke-width="2.7"><path d="M1573.5 3079.2L1587.2 3102.9L1559.8 3102.9Z"/></g>
<text x="1637" y="3110.8" font-size="46.2" text-anchor="start">Chassis</text>
<text x="1085.6" y="3168.3" font-size="46.2" text-anchor="end">With Proposed</text>
<path d="M1097.2 3151.8H1201.4" stroke="#ff0000" stroke-width="10.3" stroke-linecap="round" fill="none"/>
<g fill="#fff" stroke="#ff0000" stroke-width="2.7"><circle cx="1149.3" cy="3151.8" r="11.8"/></g>
<text x="1214.5" y="3167.6" font-size="46.2" text-anchor="start">Circumferential</text>
<path d="M1515.4 3151.8H1620.4" stroke="#ff0000" stroke-width="4.0" stroke-linecap="round" fill="none"/>
<g fill="#fff" stroke="#ff0000" stroke-width="2.7"><circle cx="1567.9" cy="3151.8" r="11.8"/></g>
<text x="1632.3" y="3167.6" font-size="46.2" text-anchor="start">Chassis</text>
<path d="M233.7 3193.3v23.4M333.9 3193.3v11.4M434.1 3193.3v23.4M534.3 3193.3v11.4M634.5 3193.3v23.4M734.7 3193.3v11.4M834.9 3193.3v23.4M935.1 3193.3v11.4M1035.3 3193.3v23.4M1135.5 3193.3v11.4M1235.8 3193.3v23.4M1336 3193.3v11.4M1436.2 3193.3v23.4M1536.4 3193.3v11.4M1636.6 3193.3v23.4M1736.8 3193.3v11.4M1837 3193.3v23.4M1937.2 3193.3v11.4M2037.4 3193.3v23.4M434.1 2380v10.4M634.5 2380v22.4M834.9 2380v10.4M1035.3 2380v22.4M1235.8 2380v10.4M1436.2 2380v22.4M1636.6 2380v10.4M1837 2380v22.4M233.7 2380h-23.4M233.7 2583.3h-23.4M233.7 2786.7h-23.4M233.7 2990h-23.4M233.7 3193.3h-23.4M233.7 2481.7h-11.4M233.7 2685h-11.4M233.7 2888.3h-11.4M233.7 3091.6h-11.4M2037.4 2786.7h-22.4M2037.4 2583.3h-10.4M2037.4 2990h-10.4" fill="none" stroke="#000" stroke-width="5.8" stroke-linecap="round"/>
<path d="M233.7 2380H2037.4V3193.3H233.7Z" fill="none" stroke="#000" stroke-width="5.2" stroke-linejoin="miter"/>
<g font-size="59" text-anchor="end">
<text x="194.2" y="2398.7">20</text>
<text x="194.2" y="2602.1">10</text>
<text x="194.2" y="2805.4">0</text>
<text x="194.2" y="3008.7">-10</text>
<text x="194.2" y="3212">-20</text>
</g><g font-size="59" text-anchor="middle">
<text x="233.7" y="3278">1</text>
<text x="434.1" y="3278">2</text>
<text x="634.5" y="3278">3</text>
<text x="834.9" y="3278">4</text>
<text x="1035.3" y="3278">5</text>
<text x="1235.8" y="3278">6</text>
<text x="1436.2" y="3278">7</text>
<text x="1636.6" y="3278">8</text>
<text x="1837" y="3278">9</text>
<text x="2037.4" y="3278">10</text>
</g>
<text transform="translate(87.6 2788.5) rotate(-90) scale(1 1.03)" font-size="75.2" text-anchor="middle">Acceleration (m/s<tspan font-size="46" dy="-27">2</tspan><tspan dy="27">)</tspan></text>
<text x="1136.2" y="3360" font-size="75.7" text-anchor="middle">Time (s)</text>
<text x="1047.4" y="3444.9" font-size="77.5" text-anchor="middle">(<tspan font-weight="bold">i</tspan>)</text>
<path d="M345.4 3493.6V4308M444.5 3493.6V4308M543.6 3493.6V4308M642.7 3493.6V4308M741.8 3493.6V4308M840.9 3493.6V4308M940 3493.6V4308M1039.1 3493.6V4308M1138.2 3493.6V4308M1237.2 3493.6V4308M1336.3 3493.6V4308M1435.4 3493.6V4308M1534.5 3493.6V4308M1633.6 3493.6V4308M1732.7 3493.6V4308M1831.8 3493.6V4308M1930.9 3493.6V4308" fill="none" stroke="#000" stroke-width="2.8" stroke-dasharray="11.6 4.7" stroke-dashoffset="10.9"/>
<path d="M246.3 4191.7H2030M246.3 4075.3H2030M246.3 3959H2030M246.3 3842.6H2030M246.3 3726.3H2030M246.3 3609.9H2030" fill="none" stroke="#000" stroke-width="2.8" stroke-dasharray="11.6 4.8" stroke-dashoffset="2.7"/>
<path d="M246.3 3805.4L247.7 3801.8L249.2 3808.4L250.6 3802.7L252.1 3811.1L253.5 3801L254.9 3810.2L256.4 3801.1L257.8 3809L259.3 3800.4L260.7 3809.7L262.2 3805.4L263.6 3798.3L265.1 3806.2L266.5 3794.2L268 3801.5L269.4 3793L270.9 3793.8L272.5 3791.2L274 3778.4L275.6 3780.8L277.2 3772.8L278.9 3777.5L280.6 3796L282.3 3798.4L284 3810.1L285.5 3817L287 3811.5L288.5 3821L290 3812L291.5 3822.1L293 3816.1L294.5 3822.9L296 3823.7L297.5 3812L299 3815.1L300.6 3803.6L302.1 3807.7L303.6 3793.1L305.2 3793.8L306.6 3793.9L308 3779.8L309.4 3779.7L310.8 3766L312.3 3769.2L313.7 3758.9L315.1 3751L316.6 3754.3L318 3738.3L319.5 3742L321 3731L322.4 3728.6L324 3725.4L325.6 3709L327.2 3709.4L328.7 3692.8L330.3 3692.5L331.9 3680.9L333.4 3683.2L335 3692.5L336.5 3690.4L338 3703.7L339.5 3699.5L341 3707.7L342.8 3726.6L344.5 3731.4L346.2 3749.6L347.8 3762.6L349.4 3760L350.9 3775.6L352.5 3779.8L354 3776.9L355.5 3781.7L356.9 3776.9L358.4 3784.3L359.9 3773.1L361.3 3783.4L362.8 3775.6L364.3 3782.6L365.7 3775.1L367.2 3777.5L368.7 3784.7L370.2 3776.1L371.7 3787.4L373.1 3779.5L374.6 3789.4L376.1 3781.8L377.6 3794.7L379.1 3787.5L380.6 3795.9L382.1 3788.8L383.5 3800.1L385 3797L386.4 3799.2L387.7 3812.7L389 3814.7L390.4 3810.3L391.9 3820.8L393.3 3816.2L394.8 3825.4L396.2 3818.9L397.6 3829.2L399.1 3821.7L400.5 3832.3L402 3824.5L403.4 3835.1L404.9 3831L406.4 3825.1L407.9 3834.2L409.4 3825.4L410.9 3830.2L412.5 3824.3L414 3828.4L415.5 3820L417 3826.2L418.6 3819.9L420.1 3826.4L421.6 3818.4L423.1 3823.6L424.7 3819.4L426.2 3814.9L427.7 3821.2L429.2 3812.5L430.8 3819.6L432.3 3807.8L433.8 3815.6L435.3 3805.1L436.9 3811.9L438.4 3800.6L439.9 3810.6L441.4 3798.3L443 3804.4L444.5 3800.7L446 3793.6L447.5 3801.1L449 3788L450.6 3794L452.1 3782.5L453.6 3784.5L455.2 3784L456.8 3773.1L458.4 3780L459.9 3769.3L461.5 3772.5L463.1 3760.8L464.7 3765.5L466.3 3758.9L467.8 3758.4L469.3 3773.1L470.7 3766L472.2 3779.2L473.7 3777.5L475.2 3784.5L476.6 3790.9L478.1 3782L479.5 3792.9L480.9 3783.1L482.4 3792.8L483.8 3786.3L485.2 3795L486.7 3787.5L488.1 3793.8L489.5 3804.2L491 3802L492.4 3814.6L493.8 3811.8L495.2 3824.8L496.7 3824.6L498.1 3837L499.5 3836.3L501 3844.3L502.5 3849.5L504.1 3840.9L505.6 3853.2L507.1 3846.8L508.7 3855.6L510.2 3846.6L511.8 3857.6L513.3 3851.8L514.9 3860.2L516.4 3853.5L517.9 3862.8L519.5 3855.5L521 3863.6L522.6 3861.2L524 3862.3L525.4 3874.5L526.9 3869.9L528.3 3882.3L529.7 3876.5L531.2 3887.2L532.6 3883.7L534 3896.4L535.5 3896.1L537 3899.4L538.5 3912.4L540 3909.4L541.6 3920.3L543.1 3918.5L544.6 3934L546.2 3934.5L547.6 3923L549.1 3921.5L550.5 3906.5L552 3907.1L553.4 3890L554.9 3886.8L556.3 3892.4L557.7 3885.6L559.1 3896.4L560.6 3890.2L562 3897.4L563.4 3896.1L564.9 3889.1L566.5 3895L568 3881.6L569.5 3889.2L571 3876.9L572.6 3882.5L574.1 3874.5L575.6 3873.9L577 3881.9L578.5 3877.8L579.9 3887.4L581.4 3877.9L582.8 3890.5L584.3 3882.7L585.7 3893.2L587.2 3891.5L588.7 3888.2L590.2 3897.7L591.6 3893.6L593.1 3902.5L594.6 3895.5L596.1 3905.6L597.6 3902L599.1 3906.6L600.5 3905.1L601.9 3893.3L603.3 3898L604.7 3885L606.2 3890L607.6 3877.3L609 3878.7L610.5 3884.3L612.1 3878.6L613.7 3892.9L615.2 3884.2L616.8 3897.3L618.4 3889.7L619.9 3903.7L621.5 3900.8L623 3892.9L624.6 3900L626.1 3889.4L627.7 3898L629.3 3887.4L630.8 3891.6L632.4 3886.8L633.8 3884.9L635.1 3898.1L636.5 3893.7L637.9 3907.1L639.3 3901.3L640.7 3908.9L642.1 3909.6L643.6 3899.3L645.1 3905.8L646.5 3896L648 3901.5L649.4 3888.6L650.9 3894.8L652.3 3884L653.8 3886.8L655.3 3890.1L656.9 3879.2L658.4 3884.5L660 3875.2L661.5 3881.3L663.1 3873.3L664.6 3880.1L666.2 3869.7L667.7 3873.6L669.3 3864L670.9 3873.6L672.4 3865.9L673.9 3863.5L675.5 3871.4L677 3864.4L678.5 3874.5L680 3868.2L681.6 3875.9L683.1 3869.2L684.6 3878.8L686.1 3870.2L687.7 3880.6L689.2 3871.9L690.7 3881.3L692.2 3877.5L693.7 3873.5L695.3 3876.8L696.8 3868.9L698.3 3873.9L699.8 3865.8L701.4 3870.5L702.9 3862.6L704.4 3867.5L705.9 3855.6L707.5 3865.1L709 3853.3L710.5 3862L712 3854.3L713.6 3847.9L715.1 3856L716.6 3846.1L718.1 3851L719.7 3841.5L721.2 3851.3L722.7 3839L724.2 3847.6L725.8 3836.1L727.3 3845.8L728.8 3832.6L730.3 3842.2L731.9 3835.6L733.4 3831.3L734.9 3837.1L736.4 3824.9L738 3830.9L739.5 3821.1L741 3825.9L742.5 3818.4L744.1 3823L745.6 3811.8L747.1 3816.6L748.6 3806.3L750.2 3815.5L751.7 3807.7L753.1 3797.6L754.5 3802.6L755.9 3790.2L757.3 3793L758.8 3780.9L760.2 3785.6L761.6 3775.1L763.1 3769.2L764.5 3780.2L766 3770.2L767.5 3778.2L769 3769.1L770.4 3776.8L771.9 3770.5L773.4 3779L774.9 3772.8L776.5 3781.3L778.1 3799.2L779.8 3803.7L781.4 3819.4L782.8 3828.8L784.3 3829.2L785.7 3843L787.1 3841.9L788.5 3856.7L789.9 3861.2L791.5 3856.9L793 3866.3L794.5 3858.9L796 3870.2L797.6 3860.1L799.1 3869.6L800.6 3861.8L802.1 3871.4L803.7 3866.2L805.2 3870.6L806.6 3867.6L808 3856.4L809.5 3857.8L810.9 3846.1L812.3 3851.1L813.7 3840.3L815.3 3821.2L816.9 3817L818.5 3796L820.1 3784.5L821.5 3784.6L823 3769.3L824.5 3772.8L826 3758.5L827.5 3758.6L829 3749.6L830.5 3745.2L831.9 3757.5L833.4 3751.1L834.9 3759.3L836.4 3752.6L837.9 3761.4L839.4 3756.8L840.9 3761.2L842.4 3766.3L843.9 3762.5L845.4 3773L847 3768.5L848.5 3778.6L850 3773.8L851.5 3783.6L853.1 3777.6L854.6 3788L856.1 3785.6L857.6 3794.6L859.2 3790.2L860.7 3796.1L862.2 3798.3L863.7 3787.1L865.3 3796.5L866.8 3783.6L868.3 3792.8L869.8 3782.4L871.4 3787L872.9 3779.2L874.4 3783.2L875.9 3775.1L877.5 3779.4L879 3771.2L880.5 3772.8L882 3775L883.6 3761.6L885.1 3767.7L886.6 3754.3L888.1 3759.9L889.7 3746.6L891.2 3752.2L892.7 3738.5L894.2 3745L895.7 3733L897.3 3736.4L898.8 3727.4L900.3 3726.3L901.7 3726.7L903.2 3716L904.6 3718.9L906 3707.2L907.4 3711.8L908.8 3702.5L910.2 3703L911.7 3702.4L913.2 3692L914.7 3697.3L916.2 3682.4L917.7 3688.3L919.2 3680.9L920.6 3675.6L922 3685.7L923.4 3676.5L924.9 3683L926.3 3675.2L927.7 3683.9L929.2 3674.9L930.6 3683.4L932 3677.4L933.5 3676.9L935 3686.8L936.5 3679.8L938 3689L939.5 3685.7L941 3696.7L942.4 3690L943.9 3696L945.5 3697.5L947 3690.4L948.6 3697.6L950.2 3688.6L951.7 3695.4L953.3 3685L954.9 3694.6L956.4 3689.1L957.9 3685.9L959.4 3694.2L960.9 3685.9L962.4 3694.7L963.8 3688.4L965.3 3698.1L966.8 3691.3L968.3 3697.1L969.8 3692.7L971.3 3700.4L972.8 3691.1L974.2 3701.7L975.7 3693.2L977.2 3698.4L978.8 3709.3L980.4 3712.3L982 3728.4L983.6 3733.3L985 3735.5L986.4 3747.6L987.8 3746.6L989.2 3758.7L990.7 3759L992.1 3767L993.6 3771.8L995 3765.7L996.5 3772.2L998 3765.2L999.5 3774.6L1000.9 3764.9L1002.4 3774.2L1003.9 3768.6L1005.4 3771.2L1006.9 3780.4L1008.4 3774.9L1009.9 3788.7L1011.4 3782.5L1012.9 3796.8L1014.4 3793.5L1015.9 3801.4L1017.4 3810.5L1018.9 3808.7L1020.5 3820.6L1022 3818.4L1023.5 3830.6L1025 3826.3L1026.6 3835.6L1028.2 3853.2L1029.8 3858.4L1031.5 3878.9L1033.1 3886.8L1034.6 3891L1036.1 3912.6L1037.6 3911.4L1039.1 3926.4L1040.6 3934.8L1042.1 3932.6L1043.6 3946.2L1045.1 3943.1L1046.7 3956.9L1048.2 3960.4L1049.8 3959.8L1051.3 3967.2L1052.9 3962.7L1054.5 3972.5L1056.1 3962.5L1057.7 3972.9L1059.3 3965.9L1060.9 3972.9L1062.4 3972.4L1064 3959.7L1065.5 3963.6L1067.1 3951.2L1068.6 3956.8L1070.2 3946L1071.8 3945L1073.1 3957.5L1074.5 3960.3L1075.9 3973.4L1077.3 3975.9L1078.7 3988.5L1080.2 3995L1081.6 3986.7L1083.1 3998.9L1084.6 3993.5L1086.1 4002.1L1087.5 3998.9L1089 4003.2L1090.4 4006.8L1091.8 3994.2L1093.3 4000L1094.7 3989.8L1096.1 3997.5L1097.5 3990.6L1099.2 3993.5L1100.8 4009.5L1102.4 4007.6L1104.1 4020.6L1105.6 4013.3L1107.2 3989.4L1108.8 3984.2L1110.4 3968.3L1111.9 3957.5L1113.3 3958.9L1114.8 3941.5L1116.2 3944.4L1117.7 3929.4L1119.1 3926.4L1120.7 3927.4L1122.2 3921.4L1123.7 3925.6L1125.2 3916.3L1126.8 3922.7L1128.3 3913.4L1129.8 3917.1L1131.2 3916.7L1132.6 3903.8L1134 3906.1L1135.4 3891.6L1136.8 3894.1L1138.2 3886.8L1139.6 3882.8L1141.1 3892.9L1142.6 3882.5L1144.1 3892.3L1145.5 3884.8L1147 3895.2L1148.5 3887.2L1150 3896.1L1151.4 3891.5L1152.9 3882.1L1154.4 3888.7L1155.9 3874.8L1157.4 3876.7L1158.9 3865.8L1160.4 3870.3L1161.9 3861.2L1163.5 3848.3L1165 3851.7L1166.6 3835.1L1168.2 3837.4L1169.7 3819.3L1171.3 3821.9L1172.8 3810.1L1174.3 3808.8L1175.7 3816L1177.1 3811.3L1178.6 3819.8L1180 3816L1181.4 3827.3L1182.9 3820.2L1184.3 3829.9L1185.7 3827L1187.2 3823.7L1188.7 3833.7L1190.2 3827.6L1191.7 3839.2L1193.1 3830.4L1194.6 3840.4L1196.1 3832.7L1197.6 3840.3L1199.1 3846.6L1200.6 3840.5L1202.1 3850.4L1203.6 3841.6L1205 3853.9L1206.5 3844.6L1208 3856.8L1209.5 3849.6L1211 3859.9L1212.5 3856.4L1214 3846.7L1215.6 3852.5L1217.1 3839.6L1218.7 3843.9L1220.3 3828.9L1221.8 3834.3L1223.4 3824L1224.9 3824.5L1226.4 3838.4L1227.9 3833.5L1229.4 3845.8L1230.9 3843.2L1232.4 3857.1L1233.9 3856.4L1235.5 3858.2L1237 3872.1L1238.6 3866.4L1240.2 3881.5L1241.8 3877.1L1243.4 3891.1L1245 3886.6L1246.6 3896.1L1248.1 3903.9L1249.7 3902.2L1251.2 3912.6L1252.8 3907.6L1254.4 3920.8L1255.9 3916.9L1257.5 3928.9L1259 3928.7L1260.6 3921.6L1262.2 3924L1263.7 3912.4L1265.3 3912.7L1266.8 3903L1268.4 3906.6L1269.9 3896.1L1271.5 3881.2L1273.1 3882.1L1274.6 3862.5L1276.2 3861.8L1277.7 3844.9L1279.3 3844.2L1280.8 3831L1282.3 3825.3L1283.8 3829L1285.2 3818.9L1286.7 3821.4L1288.2 3812.4L1289.6 3814.9L1291.1 3803.1L1292.6 3809.5L1294 3798.1L1295.5 3799.1L1297 3807L1298.6 3806.9L1300.1 3817.3L1301.6 3815.2L1303.2 3829.6L1304.7 3825.4L1306.2 3835.6L1307.7 3843.9L1309.2 3840.3L1310.6 3850.8L1312.1 3847.5L1313.6 3860.6L1315 3853.9L1316.5 3862.6L1318 3865.5L1319.4 3853.1L1320.9 3861.2L1322.3 3847.9L1323.8 3852.7L1325.2 3845.8L1326.7 3848L1328.1 3837.8L1329.6 3841L1331.2 3842.3L1332.7 3833.8L1334.3 3840.5L1335.9 3831.5L1337.4 3836L1339 3825.7L1340.5 3832.4L1342.1 3822.6L1343.7 3826.3L1345.2 3835.3L1346.8 3831.6L1348.3 3845L1349.9 3841.7L1351.4 3856.3L1353 3856.4L1354.4 3856.5L1355.8 3867.2L1357.3 3864L1358.7 3876.5L1360.1 3873.1L1361.6 3881.9L1363 3879.3L1364.4 3891.4L1365.9 3890.3L1367.5 3886.8L1369 3894.5L1370.6 3886.5L1372.2 3897L1373.8 3887.7L1375.4 3897.4L1377 3888.6L1378.6 3895L1380.1 3892L1381.6 3876.8L1383.1 3875.5L1384.7 3860.2L1386.2 3860.9L1387.7 3845.4L1389.3 3843.3L1390.8 3856.6L1392.3 3856.8L1393.8 3872.4L1395.3 3870.7L1396.8 3886L1398.3 3886.5L1399.8 3899.6L1401.2 3903.9L1402.6 3893.1L1404.1 3899.1L1405.5 3889.7L1406.9 3894.9L1408.3 3887.6L1409.8 3893.5L1411.2 3881.4L1412.6 3885.7L1414.1 3886.4L1415.5 3879.8L1416.9 3884.4L1418.4 3875.2L1419.8 3882L1421.2 3871.5L1422.7 3875.1L1424.1 3867.8L1425.5 3869.3L1426.9 3871.1L1428.4 3861.8L1429.8 3867.5L1431.2 3858.7L1432.6 3866L1434 3856.1L1435.4 3856.4L1436.9 3862.1L1438.4 3856.6L1439.9 3867.5L1441.3 3864.4L1442.8 3873.7L1444.3 3868.3L1445.8 3880.9L1447.2 3873.1L1448.7 3881L1450.3 3888.5L1452 3884.6L1453.6 3897.8L1455.3 3899.6L1456.8 3892.4L1458.3 3901.1L1459.8 3891.1L1461.3 3895.2L1462.8 3886.7L1464.3 3891.6L1465.8 3885.7L1467.2 3873.9L1468.6 3877.7L1470.1 3860.8L1471.5 3861.5L1472.9 3849.5L1474.3 3851.8L1475.8 3834.6L1477.2 3838L1478.6 3826.3L1480.2 3830.4L1481.8 3842.7L1483.4 3842.8L1485 3858.2L1486.6 3857.9L1488.2 3872.9L1489.7 3869.9L1491.3 3881L1492.7 3877.2L1494.2 3856.4L1495.6 3856.2L1497 3839.8L1498.4 3838.9L1499.8 3824L1501.3 3827.9L1502.7 3844.2L1504.1 3842.8L1505.6 3861.5L1507 3859.3L1508.4 3875.2L1509.9 3873.8L1511.3 3889.5L1512.7 3895L1514.2 3882.7L1515.7 3881L1517.2 3865.1L1518.7 3866.4L1520.2 3848.8L1521.7 3847L1523.2 3835.6L1524.7 3837.5L1526.1 3850.2L1527.5 3844.6L1529 3859.2L1530.4 3854.7L1531.8 3865.5L1533.3 3864L1534.7 3875.8L1536.1 3875.7L1537.6 3870.8L1539.2 3880L1540.7 3869.7L1542.2 3876.9L1543.7 3870.5L1545.2 3877.6L1546.7 3866.1L1548.3 3874.8L1549.8 3867.6L1551.3 3874.5L1552.8 3866.2L1554.3 3869.3L1555.8 3871.4L1557.2 3859.5L1558.7 3864.5L1560.1 3854L1561.5 3857.7L1563 3846L1564.4 3854.6L1565.8 3845.9L1567.4 3840.8L1568.9 3845.2L1570.4 3834.6L1572 3840.9L1573.5 3831.4L1575 3837.4L1576.5 3831L1578 3832.3L1579.5 3843.5L1581 3839.5L1582.5 3854.6L1584 3851L1585.5 3863.3L1586.9 3859.8L1588.4 3871.4L1589.9 3868.9L1591.4 3875.7L1593 3881L1594.5 3874.9L1596.1 3884.2L1597.7 3877.9L1599.2 3885.3L1600.8 3876.5L1602.3 3887.6L1603.9 3884.5L1605.4 3878.1L1606.9 3883.9L1608.4 3871.5L1609.8 3878.8L1611.3 3867.7L1612.8 3871.7L1614.3 3861L1615.8 3867.6L1617.3 3855.1L1618.8 3861.8L1620.2 3852.4L1621.7 3857L1623.2 3844.5L1624.7 3853L1626.2 3842L1627.7 3842.6L1629.2 3849.4L1630.8 3841.2L1632.3 3850.8L1633.8 3845.4L1635.4 3856.3L1636.9 3848.7L1638.5 3861.2L1640 3854.6L1641.5 3860.1L1643 3864L1644.5 3859.5L1646 3868.3L1647.5 3863.4L1649 3872.6L1650.5 3863.9L1652 3874.7L1653.4 3872.4L1655 3867.3L1656.5 3871.6L1658 3861.4L1659.5 3864.5L1661.1 3857.2L1662.6 3860.8L1664.1 3852.4L1665.6 3854.7L1667.2 3843.7L1668.7 3851.2L1670.2 3841.6L1671.7 3844.2L1673.3 3839.4L1674.7 3833.5L1676.1 3837.4L1677.6 3825.6L1679 3831.5L1680.5 3820.4L1681.9 3827.4L1683.3 3815.5L1684.8 3822.3L1686.2 3809.5L1687.7 3818.6L1689.1 3810.1L1690.6 3809.7L1692.1 3821.8L1693.6 3819.4L1695.1 3829.5L1696.6 3828L1698.1 3839.7L1699.6 3839.4L1701.1 3834.5L1702.6 3841.2L1704 3830L1705.5 3839.6L1707 3827.7L1708.5 3837.4L1709.9 3828L1711.4 3832.2L1712.9 3823.9L1714.3 3830.2L1715.8 3821.7L1717.3 3827.6L1718.8 3819.7L1720.2 3822.9L1721.7 3820.2L1723.1 3805.4L1724.5 3807.7L1725.9 3790.9L1727.3 3791.9L1728.8 3782.1L1730.2 3773.6L1731.6 3776.9L1733 3765.1L1734.4 3767.2L1735.8 3756.7L1737.2 3759.7L1738.7 3750.7L1740.1 3753.6L1741.5 3765L1742.9 3762.4L1744.3 3775.6L1745.8 3772.1L1747.2 3782.1L1748.6 3785.2L1750 3773.7L1751.3 3778.5L1752.7 3770.8L1754.1 3777.2L1755.5 3769.3L1757.1 3772L1758.8 3786.5L1760.4 3786.1L1762 3800.1L1763.6 3802.1L1765.1 3795.8L1766.5 3801L1768 3789.6L1769.4 3796.8L1770.9 3783.2L1772.4 3785.6L1773.8 3785.1L1775.2 3767.8L1776.6 3769.6L1778 3756.5L1779.4 3758L1780.8 3745.3L1782.3 3742.6L1783.8 3750.4L1785.4 3745.9L1787 3758.1L1788.6 3753.7L1790.2 3761.2L1791.8 3767.8L1793.5 3763.4L1795.1 3775.6L1796.7 3777.5L1798.3 3767.6L1799.8 3775.3L1801.3 3760.6L1802.9 3761.2L1804.4 3772.3L1805.9 3772.6L1807.5 3789L1809 3793.8L1810.6 3798.6L1812.2 3815.8L1813.8 3813.8L1815.4 3827L1817 3832.5L1818.6 3827.9L1820.2 3840.6L1821.9 3837L1823.5 3843.6L1825 3854.9L1826.6 3856.1L1828.1 3870.5L1829.6 3869.1L1831.2 3888.2L1832.7 3884.6L1834.2 3902.3L1835.8 3905.5L1837.3 3897L1838.9 3900.1L1840.5 3888.8L1842 3889.9L1843.6 3879.9L1845.1 3882.7L1846.7 3870.4L1848.3 3868.2L1849.8 3869L1851.4 3860.4L1852.9 3867.4L1854.5 3857.7L1856.1 3863.1L1857.6 3852.7L1859.2 3857.6L1860.7 3851.9L1862.3 3854.2L1863.9 3870.1L1865.5 3864.3L1867.1 3879.5L1868.7 3878L1870.3 3892L1871.8 3891.3L1873.4 3900.8L1875 3910.3L1876.6 3904.6L1878.2 3917.5L1879.8 3914.3L1881.4 3921.7L1882.8 3925.9L1884.3 3919L1885.8 3928.8L1887.3 3920.9L1888.8 3929L1890.3 3920L1891.8 3928.1L1893.2 3926.4L1894.8 3919.8L1896.4 3924.2L1897.9 3913.1L1899.5 3917.6L1901 3904.3L1902.6 3909L1904.2 3900.8L1905.5 3892.2L1906.9 3892.5L1908.3 3878.7L1909.7 3881.7L1911.1 3870.6L1912.5 3864.8L1914 3870.6L1915.4 3864.1L1916.9 3868.3L1918.3 3859.5L1919.7 3865.1L1921.2 3858.5L1922.6 3863.4L1924.1 3855.5L1925.5 3861.7L1926.9 3855.9L1928.4 3855L1929.9 3862.9L1931.4 3857.1L1932.9 3868.7L1934.4 3861.2L1935.9 3870.9L1937.3 3865.8L1938.8 3872.4L1940.4 3878.6L1941.9 3873.6L1943.4 3883.1L1945 3877.4L1946.5 3890.6L1948 3884L1949.6 3894L1951.1 3890L1952.6 3899.7L1954.1 3894.9L1955.7 3900.8L1957.2 3905.8L1958.7 3898.7L1960.3 3909.7L1961.8 3900L1963.3 3909L1964.9 3902.6L1966.4 3912.6L1967.9 3907.6L1969.5 3915.1L1971 3906.9L1972.5 3913.6L1974 3913.6L1975.5 3903L1977 3906.9L1978.5 3894.8L1980 3901.1L1981.4 3886.1L1982.9 3894.1L1984.4 3884.5L1986 3879.1L1987.5 3883.3L1989.1 3871.3L1990.7 3876.7L1992.2 3863.9L1993.8 3869.5L1995.3 3861L1996.9 3860.1L1998.4 3866.4L1999.9 3860.8L2001.4 3875.6L2003 3869.3L2004.5 3879.1L2006 3874.8L2007.5 3886.3L2009 3880.8L2010.5 3893.7L2012 3889.6L2013.6 3896.1L2015 3894.8L2016.5 3885.7L2018 3888.6L2019.5 3878.3L2021 3882.9L2022.5 3868.8L2024 3875.2L2025.5 3863L2027 3867.9L2028.5 3857.3L2030 3855.9" fill="none" stroke="#0000ff" stroke-width="10.8" stroke-linejoin="round" stroke-linecap="butt" clip-path="url(#c4)"/>
<g fill="#fff" stroke="#0000ff" stroke-width="2.7" clip-path="url(#c4)">
<rect x="235.6" y="3794.7" width="21.5" height="21.5"/>
<rect x="354.5" y="3767.1" width="21.5" height="21.5"/>
<rect x="473.4" y="3780.2" width="21.5" height="21.5"/>
<rect x="592.3" y="3884.7" width="21.5" height="21.5"/>
<rect x="711.2" y="3834.2" width="21.5" height="21.5"/>
<rect x="830.1" y="3750.5" width="21.5" height="21.5"/>
<rect x="949" y="3678.3" width="21.5" height="21.5"/>
<rect x="1068" y="3977.8" width="21.5" height="21.5"/>
<rect x="1186.9" y="3829.6" width="21.5" height="21.5"/>
<rect x="1305.8" y="3851.8" width="21.5" height="21.5"/>
<rect x="1424.7" y="3845.7" width="21.5" height="21.5"/>
<rect x="1543.6" y="3858.5" width="21.5" height="21.5"/>
<rect x="1662.5" y="3828.6" width="21.5" height="21.5"/>
<rect x="1781.4" y="3755.4" width="21.5" height="21.5"/>
<rect x="1900.4" y="3859.8" width="21.5" height="21.5"/>
<rect x="2019.3" y="3845.2" width="21.5" height="21.5"/>
</g>
<path d="M246.3 3805.4C252.9 3807.7 269.8 3815.1 285.9 3819.4C302.1 3823.6 326.9 3830.6 343.4 3831C359.9 3831.4 374.8 3826.7 385 3821.7C395.3 3816.6 398.2 3809.7 404.9 3800.7C411.5 3791.8 417.4 3777.5 424.7 3768.2C431.9 3758.9 441.8 3747.2 448.5 3744.9C455.1 3742.6 459 3746.1 464.3 3754.2C469.6 3762.4 474.9 3782.3 480.2 3793.8C485.4 3805.2 488.8 3812.8 496 3822.9C503.3 3832.9 512.5 3846.3 523.8 3854.3C535 3862.2 550.2 3866.7 563.4 3870.6C576.6 3874.4 589.8 3878.3 603 3877.5C616.3 3876.8 629.5 3870.6 642.7 3865.9C655.9 3861.2 669.1 3854.7 682.3 3849.6C695.5 3844.6 708.7 3838 722 3835.6C735.2 3833.3 748.4 3836.4 761.6 3835.6C774.8 3834.9 791.3 3837.6 801.2 3831C811.1 3824.4 814.4 3809.7 821 3796.1C827.7 3782.5 834.3 3753.4 840.9 3749.6C847.5 3745.7 853.4 3764.2 860.7 3772.8C868 3781.5 874.6 3803.4 884.5 3801.4C894.4 3799.5 910.9 3775.7 920.1 3761.2C929.4 3746.7 933.4 3723.6 940 3714.7C946.6 3705.7 953.2 3698 959.8 3707.7C966.4 3717.4 973 3748.6 979.6 3772.8C986.2 3797.1 991.2 3839.7 999.4 3853.1C1007.7 3866.5 1019.2 3851.7 1029.1 3853.1C1039.1 3854.5 1050.6 3859.1 1058.9 3861.2C1067.1 3863.4 1065.5 3865.1 1078.7 3865.9C1091.9 3866.7 1121.6 3865.9 1138.2 3865.9C1154.7 3865.9 1167.9 3865.9 1177.8 3865.9C1187.7 3865.9 1184.4 3868.6 1197.6 3865.9C1210.8 3863.2 1237.2 3851.2 1257.1 3849.6C1276.9 3848.1 1286.8 3856.6 1316.5 3856.6C1346.2 3856.6 1395.8 3848.1 1435.4 3849.6C1475.1 3851.2 1524.6 3866.3 1554.3 3865.9C1584.1 3865.5 1594 3854.3 1613.8 3847.3C1633.6 3840.3 1658.7 3828.1 1673.3 3824C1687.8 3819.9 1693.1 3826.5 1701 3822.9C1708.9 3819.2 1714.2 3811.6 1720.8 3802.1C1727.4 3792.6 1733 3775 1740.6 3765.8C1748.2 3756.7 1759.5 3748 1766.4 3747.2C1773.3 3746.5 1778 3756.5 1782.3 3761.2C1786.6 3765.8 1788 3767 1792.2 3775.1C1796.3 3783.3 1801.8 3799.3 1807 3810.1C1812.3 3820.8 1817 3831.7 1823.9 3839.4C1830.8 3847 1841.3 3851.9 1848.3 3855.9C1855.2 3859.9 1855 3861.1 1865.5 3863.6C1876 3866 1896.9 3871.8 1911.1 3870.6C1925.3 3869.3 1930.9 3859.8 1950.7 3855.9C1970.5 3852 2016.8 3848.7 2030 3847.3" fill="none" stroke="#0000ff" stroke-width="3.9" stroke-linejoin="round" stroke-linecap="butt" clip-path="url(#c4)"/>
<g fill="#fff" stroke="#0000ff" stroke-width="2.7" clip-path="url(#c4)">
<rect x="235.6" y="3794.7" width="21.5" height="21.5"/>
<rect x="354.5" y="3815.4" width="21.5" height="21.5"/>
<rect x="473.4" y="3790.3" width="21.5" height="21.5"/>
<rect x="592.3" y="3866.8" width="21.5" height="21.5"/>
<rect x="711.2" y="3824.9" width="21.5" height="21.5"/>
<rect x="830.1" y="3738.8" width="21.5" height="21.5"/>
<rect x="949" y="3696.9" width="21.5" height="21.5"/>
<rect x="1068" y="3855.2" width="21.5" height="21.5"/>
<rect x="1186.9" y="3855.2" width="21.5" height="21.5"/>
<rect x="1305.8" y="3845.9" width="21.5" height="21.5"/>
<rect x="1424.7" y="3838.9" width="21.5" height="21.5"/>
<rect x="1543.6" y="3855.2" width="21.5" height="21.5"/>
<rect x="1662.5" y="3813.3" width="21.5" height="21.5"/>
<rect x="1781.4" y="3764.4" width="21.5" height="21.5"/>
<rect x="1900.4" y="3859.8" width="21.5" height="21.5"/>
<rect x="2019.3" y="3836.6" width="21.5" height="21.5"/>
</g>
<path d="M246.3 3844.3L247.8 3835.4L249.2 3837.9L250.7 3828.2L252.2 3830.1L253.6 3822.9L255.1 3813.6L256.5 3819L257.9 3804.4L259.3 3808.1L260.7 3797.6L262.2 3797L263.6 3802.2L265.1 3800L266.5 3809.9L268 3806.6L269.4 3814.6L270.9 3814.7L272.5 3805.1L274 3809L275.6 3796.9L277.2 3794.9L278.7 3814.4L280.1 3819.8L281.6 3842.2L283 3849.9L284.5 3875L285.9 3885.2L287.4 3875L288.8 3874.3L290.2 3858.9L291.6 3861.3L293 3848.6L294.5 3844.3L295.9 3837.9L297.4 3821.2L298.8 3822.3L300.3 3803.8L301.7 3805.2L303.2 3791.4L304.6 3792.5L306 3807.8L307.4 3803.6L308.9 3816.6L310.3 3812.3L311.7 3822.9L313.3 3817.8L315 3798.2L316.6 3798.4L318.2 3784.5L319.7 3787.3L321.2 3802.1L322.6 3804.5L324.1 3818.4L325.6 3822.9L327.3 3809.1L328.9 3803.2L330.6 3786.3L332.3 3777.5C334.3 3799.4 339.9 3911.3 344 3908.9C348.1 3906.6 353 3765.6 356.9 3763.5C360.8 3761.4 364.2 3903.9 367.6 3896.1C371 3888.4 373.9 3707.7 377.1 3717C380.3 3726.3 383.7 3940 387 3952C390.3 3964 393.5 3785.6 396.9 3789.1C400.4 3792.6 404.1 3978.4 407.6 3972.9C411.2 3967.5 414.8 3763.6 418.3 3756.5C421.8 3749.4 425.1 3923.6 428.6 3930.4C432.2 3937.1 436.1 3802.7 439.5 3797C443 3791.3 446.4 3899 449.4 3896.1C452.5 3893.3 456.5 3799.2 458 3779.8L459.5 3786.1L461 3781.4L462.6 3792.6L464.1 3788.6L465.6 3798.2L467.1 3795.2L468.7 3801.4L470.1 3812.9L471.6 3808.2L473 3823L474.5 3821.5L475.9 3834.9L477.4 3835.6L478.8 3825.6L480.2 3824.6L481.6 3807.7L483.1 3811L484.5 3794.8L485.9 3796.5L487.3 3784.5L488.7 3784.4L490.2 3800.2L491.6 3797.4L493 3808L494.5 3807.7L495.9 3819.5L497.4 3818.8L498.8 3827L500.2 3826.1L501.7 3808.2L503.2 3810.4L504.6 3795.7L506.1 3797.3L507.5 3781.3L509 3784.2L510.4 3770.5L511.9 3767L513.4 3783.5L514.9 3789.6L516.5 3810.5L518 3816.5L519.5 3839.9L521 3844.1L522.6 3861.2L524 3862.3L525.4 3851.5L526.9 3859.7L528.3 3851.2L529.7 3854.1L531.2 3847.4L532.6 3852.6L534 3841L535.5 3844.3L537 3856.6L538.5 3859.1L540 3873.7L541.6 3872.7L543.1 3891.5L544.6 3890L546.2 3904.5L547.6 3898.2L549.1 3878.8L550.5 3874L552 3852.5L553.5 3849.7L554.9 3830.5L556.4 3826.5L557.9 3810.1L559.4 3811.8L560.9 3822.4L562.4 3819L563.9 3833L565.4 3825.9L566.9 3838.8L568.4 3835.9L569.9 3844.3L571.4 3848L572.8 3840.5L574.2 3852.6L575.7 3844.8L577.1 3853.6L578.5 3845.5L580 3853.6L581.4 3846.8L582.8 3852.9L584.2 3863.5L585.7 3860.6L587.1 3876.3L588.5 3876.5L589.9 3888.4L591.3 3891.5L592.9 3881.3L594.4 3881.3L595.9 3862L597.5 3864.9L599 3848.3L600.5 3846L602 3835.6L603.6 3828.9L605.2 3839L606.7 3829.5L608.3 3834.7L609.8 3827.1L611.4 3833.3L612.9 3827L614.4 3832.7L615.8 3851.1L617.2 3855.3L618.6 3874.3L620.1 3877.6L621.5 3891.5L623 3883.8L624.6 3861.4L626.1 3854.9L627.7 3834.5L629.2 3830.5L630.8 3812.4L632.2 3822.7L633.6 3842L635 3845.9L636.4 3869.7L637.9 3874.4L639.3 3895.5L640.7 3904.5L642.1 3892.2L643.6 3887.9L645.1 3871.7L646.5 3869.7L648 3852.5L649.4 3848.7L650.9 3833.6L652.3 3830.7L653.8 3816.3L655.2 3829.4L656.7 3854L658.1 3858.9L659.6 3882.8L661 3893.4L662.5 3912.4L664 3900.4L665.6 3875.9L667.1 3864.7L668.6 3839.5L670.1 3832.8L671.7 3807.8L673.2 3794.9L674.6 3820.1L676 3829.6L677.5 3857.7L678.9 3872.3L680.3 3898.6L681.7 3914.8L683.2 3902.2L684.7 3901L686.2 3883.3L687.7 3884.1L689.2 3864.6L690.7 3864.2L692.2 3852.9L693.8 3846.1L695.4 3850.2L697 3838.2L698.6 3843.7L700.2 3834.7L701.7 3838.4L703.3 3831.5L704.9 3832L706.5 3843.3L708.1 3841.3L709.7 3854.4L711.3 3849.2L712.8 3862.7L714.4 3857.3L716 3865.9L717.4 3861.2L718.9 3845.9L720.3 3850.3L721.8 3832.1L723.2 3836.7L724.6 3818.6L726.1 3819.8L727.5 3810.1C729.3 3830.5 734.8 3940.6 738.4 3932.4C742 3924.3 745.9 3765.1 749.1 3761.2C752.3 3757.3 754.6 3907.3 757.6 3908.9C760.6 3910.6 763.5 3768.3 767.1 3771.2C770.7 3774.1 775.3 3912.8 779.2 3926.4C783.2 3940 787.4 3850.2 790.9 3852.9C794.5 3855.6 797.6 3937 800.6 3942.7C803.7 3948.3 807 3887.6 809.4 3886.8C811.7 3886.1 812 3960.5 814.9 3938C817.8 3915.5 822.9 3743.1 826.6 3751.9C830.3 3760.6 833.5 4006.7 837.3 3990.6C841.1 3974.5 845.6 3622.4 849.4 3655.1C853.2 3687.8 856.2 4192.7 860.1 4187C864 4181.3 869 3616.8 873 3620.6C876.9 3624.5 879.6 4209.5 883.7 4210.3C887.8 4211 893.5 3630.1 897.5 3625.1C901.6 3620 904.3 4178.6 908.3 4180C912.2 4181.5 917.2 3643.4 921.1 3633.7C925.1 3624 928.1 4121.5 932 4121.9C936 4122.2 940.9 3657.1 944.9 3635.5C949 3614 952.7 3989.1 956.4 3992.7C960.1 3996.3 963.5 3668.2 967.3 3657.2C971.1 3646.1 975.4 3911.8 979.2 3926.4C983 3941 986.5 3757.2 990.1 3744.9C993.7 3732.6 997.6 3850.5 1000.8 3852.9C1004 3855.2 1006.1 3761.7 1009.3 3758.9C1012.6 3756 1016.6 3828.6 1020.2 3835.6C1023.9 3842.7 1029.3 3807.1 1031.1 3801.4L1032.7 3805.5L1034.3 3820.5L1035.9 3821.9L1037.5 3836L1039.1 3838.1L1040.6 3855.7L1042.2 3854.7L1043.8 3865.9L1045.3 3867.7L1046.7 3855.3L1048.2 3859.6L1049.6 3846.6L1051.1 3855.1L1052.5 3841.5L1054 3847.3L1055.4 3836.3L1056.9 3835.6L1058.4 3834.8L1059.9 3821.6L1061.4 3827.8L1062.8 3815.1L1064.3 3820.3L1065.8 3808.9L1067.3 3811.5L1068.8 3799L1070.3 3804.4L1071.8 3794.9L1073.3 3799.3L1074.9 3814.9L1076.4 3813.7L1078 3825.9L1079.5 3825.7L1081.1 3841.9L1082.7 3844.3L1084.2 3845.1L1085.8 3854.6L1087.3 3850.3L1088.9 3862.8L1090.4 3859.2L1092 3872L1093.5 3867.6L1095.1 3879.6L1096.6 3875L1098.2 3888.7L1099.7 3886.8L1101.2 3877L1102.7 3877.8L1104.2 3862.9L1105.7 3862.6L1107.2 3847.2L1108.7 3848.2L1110.2 3834.6L1111.8 3836L1113.3 3821.6L1114.8 3817L1116.3 3824.2L1117.9 3817.7L1119.4 3833L1121 3827.9L1122.5 3836.6L1124.1 3833.8L1125.7 3840.3L1127.2 3842.4L1128.7 3827.5L1130.2 3834.9L1131.7 3822.1L1133.2 3824.7L1134.7 3813L1136.2 3814.7L1137.7 3825.1L1139.2 3821.4L1140.7 3837.4L1142.3 3832.4L1143.8 3844.8L1145.3 3842.9L1146.9 3857.1L1148.4 3854.7L1149.9 3870.7L1151.4 3870.6L1152.9 3862.2L1154.3 3861.6L1155.7 3850.7L1157.2 3851.7L1158.6 3838.6L1160 3840.4L1161.4 3825.3L1162.9 3827.3L1164.3 3818.7L1165.7 3816L1167.2 3825.6L1168.6 3820.3L1170 3831.8L1171.5 3822.7L1172.9 3832.4L1174.3 3828.1L1175.8 3836.9L1177.2 3835.6L1178.7 3833.5L1180.1 3840.8L1181.6 3831.1L1183 3838.8L1184.5 3830.7L1185.9 3839.9L1187.4 3831.9L1188.9 3837.8L1190.3 3833.3L1191.8 3841.2L1193.2 3830L1194.7 3839.9L1196.1 3830.3L1197.6 3835.6L1199.1 3841.4L1200.6 3835.8L1202.1 3842.4L1203.6 3837.9L1205 3848.2L1206.5 3838.8L1208 3850.9L1209.5 3841.2L1211 3851.1L1212.5 3849.6L1214 3839.6L1215.6 3838.1L1217.1 3823.5L1218.7 3827.2L1220.3 3811L1221.8 3812.2L1223.4 3800.7L1224.9 3805L1226.4 3820.4L1227.9 3816.2L1229.4 3834.6L1230.9 3830.4L1232.4 3848.2L1233.9 3849.6L1235.5 3850.6L1237 3861L1238.6 3855.8L1240.2 3868.1L1241.8 3860.4L1243.4 3874.3L1245 3866.7L1246.6 3875.2L1248.1 3880.8L1249.7 3875L1251.2 3885.1L1252.8 3879.6L1254.4 3893L1255.9 3887.1L1257.5 3897.8L1259 3895L1260.6 3888.3L1262.2 3892.6L1263.7 3881.3L1265.3 3886.7L1266.8 3878.7L1268.4 3880.9L1269.9 3875.2L1271.5 3862.2L1273.1 3861.4L1274.6 3840.4L1276.2 3839.8L1277.7 3822.4L1279.3 3821L1280.8 3807.7L1282.3 3798.6L1283.8 3805.5L1285.2 3792.4L1286.7 3797.5L1288.2 3785.9L1289.6 3791.4L1291.1 3779.6L1292.6 3785.4L1294 3776.5L1295.5 3775.8L1297 3784.9L1298.6 3781.3L1300.1 3794.8L1301.6 3792.3L1303.2 3806L1304.7 3803.6L1306.2 3812.4L1307.7 3822.7L1309.2 3821.3L1310.6 3835.2L1312.1 3834.2L1313.6 3848L1315 3844.1L1316.5 3854.3L1318 3855.8L1319.4 3842.5L1320.9 3848.8L1322.3 3837.2L1323.8 3839.7L1325.2 3829.3L1326.7 3833.9L1328.1 3823.8L1329.6 3823.8L1331.2 3826.9L1332.7 3814.3L1334.3 3820.1L1335.9 3811.3L1337.4 3816L1339 3806.3L1340.5 3810.9L1342.1 3802.8L1343.7 3803.1L1345.2 3814.6L1346.8 3812.8L1348.3 3831.1L1349.9 3828.5L1351.4 3846.4L1353 3849.6L1354.4 3849.7L1355.8 3860.6L1357.3 3857.6L1358.7 3866.3L1360.1 3862.6L1361.6 3874.1L1363 3868.5L1364.4 3880.4L1365.9 3879.9L1367.5 3876.6L1369 3884L1370.6 3877.7L1372.2 3887.8L1373.8 3877.6L1375.4 3886.1L1377 3881.5L1378.6 3884.5L1380.1 3880.9L1381.6 3864.6L1383.1 3864.9L1384.7 3848.5L1386.2 3851.1L1387.7 3833.7L1389.3 3830.8L1390.8 3842.1L1392.3 3844.6L1393.8 3858L1395.3 3861.1L1396.8 3876.4L1398.3 3875.4L1399.8 3889.2L1401.2 3890L1402.6 3882.3L1404.1 3889.1L1405.5 3880.1L1406.9 3886.2L1408.3 3875.8L1409.8 3881.4L1411.2 3872.1L1412.6 3875.2L1414.1 3871.1L1415.5 3857.8L1416.9 3861.7L1418.4 3847.9L1419.8 3847.9L1421.2 3835.2L1422.7 3837.6L1424.1 3821.4L1425.5 3819.4L1427 3816.1L1428.5 3805.2L1430 3808.2L1431.5 3797.3L1432.8 3801.5L1434.1 3818.8L1435.4 3821.7L1436.9 3822.4L1438.4 3838.5L1439.9 3833.6L1441.3 3849.2L1442.8 3843.3L1444.3 3858.8L1445.8 3854.8L1447.2 3869.2L1448.7 3870.6L1450.3 3869.9L1452 3884.1L1453.6 3878.9L1455.3 3889.2L1456.8 3892.2L1458.3 3881.2L1459.8 3886.3L1461.3 3878.1L1462.8 3883.8L1464.3 3872.1L1465.8 3875.2L1467.2 3871.3L1468.6 3854.6L1470.1 3854.3L1471.5 3840.7L1472.9 3838.3L1474.3 3824L1475.8 3822.4L1477.2 3806.9L1478.6 3803.1L1480.2 3814.1L1481.8 3816.9L1483.4 3833.2L1485 3832L1486.6 3847.6L1488.2 3850L1489.7 3866.3L1491.3 3870.6L1492.7 3855.2L1494.2 3850.2L1495.6 3831.9L1497 3829.6L1498.4 3808L1499.8 3800.7L1501.3 3814.9L1502.7 3813.9L1504.1 3833.8L1505.6 3834.4L1507 3849.4L1508.4 3853.1L1509.9 3870.9L1511.3 3869.8L1512.7 3884.5L1514.2 3880L1515.7 3860.2L1517.2 3858.6L1518.7 3839.1L1520.2 3837.4L1521.7 3819.7L1523.2 3812.4L1524.7 3821.2L1526.1 3820.3L1527.5 3832.2L1529 3832.4L1530.4 3846.5L1531.8 3843.9L1533.3 3856.2L1534.7 3855.4L1536.1 3865.2L1537.6 3867.3L1539.2 3859.7L1540.7 3865.9L1542.2 3859.6L1543.7 3867.1L1545.2 3860.1L1546.7 3866.4L1548.3 3858.7L1549.8 3864.7L1551.3 3858.1L1552.8 3863.4L1554.3 3859.4L1555.8 3853.8L1557.2 3857.5L1558.7 3846.5L1560.1 3852.5L1561.5 3841.3L1563 3849L1564.4 3838L1565.8 3838.4L1567.4 3836.5L1568.9 3827.5L1570.4 3829.5L1572 3814.9L1573.5 3820L1575 3807.5L1576.5 3807.7L1578 3818.6L1579.5 3814.6L1581 3830L1582.5 3824.9L1584 3839.3L1585.5 3840L1586.9 3850.7L1588.4 3851.1L1589.9 3864.2L1591.4 3865.2L1593 3863.3L1594.5 3873L1596.1 3867.6L1597.7 3879.9L1599.2 3874.5L1600.8 3884.2L1602.3 3877.1L1603.9 3884.5L1605.3 3883.9L1606.7 3872.9L1608.1 3880.9L1609.6 3869.4L1611 3870.9L1612.4 3862.2L1613.8 3862.4L1615.3 3857.5L1616.8 3837.2L1618.2 3837L1619.7 3818.7L1621.2 3816.3L1622.7 3799.4L1624.1 3799.1L1625.6 3782.3L1627.1 3775.1L1628.5 3785.2L1630 3779.6L1631.4 3794.4L1632.8 3792.4L1634.3 3805.8L1635.7 3799.7L1637.1 3813.2L1638.6 3814.7L1640.1 3811.5L1641.6 3819.4L1643.2 3812.4L1644.7 3820.5L1646.3 3812.2L1647.8 3823.5L1649.3 3816.3L1650.9 3819.4L1652.5 3832L1654.1 3828.3L1655.7 3844.9L1657.4 3841.5L1659 3853.1L1660.4 3854.1L1661.8 3842.5L1663.3 3850.4L1664.7 3838.6L1666.1 3844.2L1667.6 3831.9L1669 3837.2L1670.4 3826.6L1671.8 3832.5L1673.3 3824.7L1674.8 3819.9L1676.3 3826.9L1677.9 3814.5L1679.4 3820.6L1681 3811L1682.5 3818L1684.1 3809.4L1685.6 3816.2L1687.1 3810.1L1688.6 3818.3L1690 3836L1691.4 3840.2L1692.8 3860.3L1694.2 3866.5L1695.7 3881.3L1697.1 3887.8L1698.6 3880.6L1700.1 3890.9L1701.5 3881.9L1703 3891.2L1704.5 3887.3L1706 3890.8L1707.4 3894.7L1708.8 3884.6L1710.2 3890L1711.7 3879.3L1713.1 3886.4L1714.5 3874.7L1715.9 3882.2L1717.4 3871.7L1718.8 3879L1720.2 3871.9L1721.8 3863L1723.3 3861.9L1724.8 3847.6L1726.4 3849.2L1727.9 3835L1729.4 3836.8L1731 3822.2L1732.5 3823.6L1734.1 3808.3L1735.6 3810.2L1737.1 3795.4L1738.7 3793.8L1740.1 3800.9L1741.5 3798.7L1742.9 3808.4L1744.4 3807L1745.8 3816.5L1747.2 3813.7L1748.7 3827L1750.1 3823.1L1751.5 3832.9L1752.9 3834L1754.5 3835.1L1756 3849.2L1757.5 3843.5L1759.1 3858.6L1760.6 3856.4L1762.1 3867.2L1763.7 3867L1765.2 3878L1766.8 3877.3L1768.3 3887.4L1769.8 3886.1L1771.4 3895.4L1772.8 3885.4L1774.3 3863.2L1775.7 3860.1L1777.1 3837.8L1778.6 3832.1L1780 3810.8L1781.5 3803.1L1783 3810.8L1784.5 3805.1L1786.1 3818.7L1787.6 3814.2L1789.1 3825.7L1790.6 3822.8L1792.2 3829.4L1793.6 3828.9L1795 3818.1L1796.4 3825.1L1797.8 3813L1799.3 3819.2L1800.7 3810.4L1802.1 3810.1L1803.6 3823.3L1805.2 3825.2L1806.7 3838.9L1808.2 3840.6L1809.8 3856.9L1811.3 3856.4L1812.9 3873.6L1814.4 3874.7L1816 3888.5L1817.5 3890.6L1819 3878.6L1820.5 3884.4L1822 3874.9L1823.5 3880.5L1825 3870.5L1826.5 3871.9L1828.1 3881.2L1829.7 3873.5L1831.3 3886.5L1833 3882.5L1834.6 3890.8L1836 3885.8L1837.4 3866.9L1838.7 3868.2L1840.1 3850L1841.5 3846.4L1842.9 3834L1844.4 3824.2L1845.9 3826.5L1847.3 3815.8L1848.8 3815.9L1850.3 3806.2L1851.8 3807L1853.3 3793.6L1854.7 3796.1L1856.2 3784.8L1857.7 3787.5L1859.2 3777.5L1860.5 3782.1L1861.9 3800.2L1863.3 3801L1864.7 3820.9L1866.1 3819.4L1867.5 3834L1868.9 3846.7L1870.3 3845.6L1871.7 3864.1L1873.1 3862.7L1874.6 3878.8L1876 3878.1L1877.4 3890.8L1878.8 3885.4L1880.2 3863.4L1881.6 3860.1L1882.9 3844L1884.3 3839L1885.7 3824.7L1887.3 3831L1889 3851.6L1890.6 3855.4L1892.2 3872.5L1893.8 3881.3L1895.2 3868.6L1896.6 3870.3L1898 3851.9L1899.4 3853.8L1900.8 3837.9L1902.2 3834L1903.7 3830.9L1905.1 3820.7L1906.6 3821.2L1908.1 3808.5L1909.6 3809.4L1911.1 3800.7L1912.6 3797.8L1914.1 3805.6L1915.6 3793.8L1917.1 3803L1918.6 3792.4L1920.1 3803.6L1921.6 3792.4L1923.1 3799.8L1924.6 3796.1L1926 3800.2L1927.3 3813.8L1928.7 3811.1L1930.1 3826L1931.5 3822L1932.9 3834L1934.4 3840.4L1935.9 3836.7L1937.3 3849.2L1938.8 3844.2L1940.3 3854.2L1941.8 3851.9L1943.3 3862.3L1944.8 3862.4L1946.3 3859.5L1947.9 3871.4L1949.5 3864.3L1951 3874.3L1952.6 3868.1L1954.1 3878.8L1955.7 3869.6L1957.3 3876.6L1958.7 3882.7L1960.1 3876.5L1961.5 3885.6L1963 3880.8L1964.4 3891.9L1965.8 3884.2L1967.3 3893.9L1968.7 3885.7L1970.1 3898.2L1971.5 3895.4L1973 3888.9L1974.4 3894.5L1975.8 3885.6L1977.2 3889.6L1978.7 3878.6L1980.1 3885.9L1981.5 3873.9L1982.9 3879.5L1984.4 3870.1L1985.8 3871.9L1987.3 3874.8L1988.7 3862.5L1990.1 3868.3L1991.6 3858L1993 3863.6L1994.5 3850.4L1995.9 3855.1L1997.4 3846.5L1998.8 3850.6L2000.3 3843.6L2001.8 3845.8L2003.3 3859L2004.8 3857L2006.3 3875.2L2007.8 3872.1L2009.3 3885L2010.8 3883.6L2012.4 3895.4L2013.8 3886.6L2015.3 3864.8L2016.8 3860.9L2018.3 3840.8L2019.7 3836.5L2021.2 3812.3L2022.7 3805.4L2024.1 3808.4L2025.6 3801.1L2027.1 3809L2028.5 3799.7L2030 3805.4" fill="none" stroke="#008000" stroke-width="10.8" stroke-linejoin="round" stroke-linecap="butt" clip-path="url(#c4)"/>
<g fill="#fff" stroke="#008000" stroke-width="2.7" clip-path="url(#c4)">
<path d="M246.3 3828.4L260 3852.2L232.6 3852.2Z"/>
<path d="M365.2 3850.8L378.9 3874.6L351.5 3874.6Z"/>
<path d="M484.1 3785L497.8 3808.8L470.4 3808.8Z"/>
<path d="M603 3819L616.8 3842.8L589.3 3842.8Z"/>
<path d="M722 3821.2L735.7 3844.9L708.2 3844.9Z"/>
<path d="M840.9 3875.8L854.6 3899.5L827.1 3899.5Z"/>
<path d="M959.8 3910.6L973.5 3934.3L946.1 3934.3Z"/>
<path d="M1078.7 3810.5L1092.4 3834.2L1065 3834.2Z"/>
<path d="M1197.6 3819.8L1211.3 3843.6L1183.9 3843.6Z"/>
<path d="M1316.5 3838.4L1330.2 3862.2L1302.8 3862.2Z"/>
<path d="M1435.4 3805.8L1449.2 3829.6L1421.7 3829.6Z"/>
<path d="M1554.3 3843.5L1568.1 3867.3L1540.6 3867.3Z"/>
<path d="M1673.3 3808.9L1687 3832.6L1659.5 3832.6Z"/>
<path d="M1792.2 3813.5L1805.9 3837.3L1778.5 3837.3Z"/>
<path d="M1911.1 3782.6L1924.8 3806.3L1897.4 3806.3Z"/>
<path d="M2030 3789.6L2043.7 3813.3L2016.3 3813.3Z"/>
</g>
<path d="M246.3 3842.6C252.9 3840.7 272.7 3831 285.9 3831C299.2 3831 312.4 3831 325.6 3842.6C338.8 3854.3 352 3896.9 365.2 3900.8C378.4 3904.7 391.6 3879.5 404.9 3865.9C418.1 3852.3 431.3 3831.8 444.5 3819.4C457.7 3807 470.9 3793.4 484.1 3791.4C497.3 3789.5 510.6 3802.3 523.8 3807.7C537 3813.2 550.2 3819 563.4 3824C576.6 3829.1 586.5 3832.9 603 3838C619.6 3843 642.7 3851.2 662.5 3854.3C682.3 3857.4 702.1 3852.7 722 3856.6C741.8 3860.5 761.6 3868.2 781.4 3877.5C801.2 3886.8 821 3914.4 840.9 3912.4C860.7 3910.5 880.5 3882.6 900.3 3865.9C920.1 3849.2 940 3822.1 959.8 3812.4C979.6 3802.7 999.4 3803.8 1019.2 3807.7C1039.1 3811.6 1058.9 3829.8 1078.7 3835.6C1098.5 3841.5 1118.3 3836.4 1138.2 3842.6C1158 3848.8 1184.4 3874.6 1197.6 3872.9C1210.8 3871.2 1212.8 3838.7 1217.4 3832.4C1222 3826.1 1222.7 3833.6 1225.4 3835.2C1228 3836.8 1230.6 3838.1 1233.3 3842.2C1236 3846.2 1238.7 3854.2 1241.4 3859.4C1244.1 3864.5 1246.7 3870.1 1249.3 3873.1C1252 3876.1 1254.6 3878.2 1257.3 3877.3C1259.9 3876.4 1262.5 3872.9 1265.2 3868C1267.8 3863.1 1270.4 3855.5 1273.1 3848C1275.8 3840.5 1278.6 3830 1281.2 3822.9C1283.9 3815.7 1286.5 3808.2 1289.2 3804.9C1291.8 3801.7 1294.5 3801.8 1297.1 3803.5C1299.7 3805.2 1302.4 3811.1 1305 3815.2C1307.7 3819.2 1310.3 3824.8 1313 3827.7C1315.6 3830.7 1318.4 3832.7 1321.1 3832.9C1323.8 3833 1326.4 3830.4 1329 3828.9C1331.6 3827.4 1334.3 3823.7 1336.9 3823.8C1339.6 3823.9 1342.2 3826.4 1344.9 3829.6C1347.5 3832.8 1350.1 3837.8 1352.8 3842.9C1355.5 3847.9 1358.2 3855.5 1360.9 3860.1C1363.6 3864.6 1366.2 3869.2 1368.8 3870.1C1371.5 3871 1374.1 3866.6 1376.8 3865.7C1379.4 3864.7 1382.1 3864.5 1384.7 3864.3C1387.3 3864.1 1389.9 3864.4 1392.6 3864.5C1395.3 3864.6 1398.1 3864.9 1400.8 3865C1403.4 3865.1 1406 3867.6 1408.7 3865.2C1411.3 3862.8 1414 3855.3 1416.6 3850.5C1419.2 3845.7 1421.9 3839.3 1424.5 3836.3C1427.2 3833.4 1429.8 3831.7 1432.5 3832.6C1435.1 3833.6 1437.7 3837.5 1440.4 3841.9C1443.1 3846.4 1445.8 3855.1 1448.5 3859.4C1451.2 3863.6 1453.8 3867.6 1456.4 3867.5C1459.1 3867.4 1461.7 3862.1 1464.4 3858.7C1467 3855.3 1469.7 3850.1 1472.3 3847.3C1474.9 3844.5 1477.5 3844.3 1480.2 3841.7C1482.9 3839.1 1485.7 3832.1 1488.3 3831.7C1491 3831.3 1493.6 3836.7 1496.3 3839.1C1498.9 3841.5 1501.6 3846.1 1504.2 3846.1C1506.8 3846.1 1509.5 3839.1 1512.1 3839.1C1514.8 3839.2 1517.4 3844.9 1520.1 3846.4C1522.7 3847.8 1525.5 3847.6 1528.2 3848C1530.9 3848.4 1533.5 3847.3 1536.1 3848.7C1538.8 3850.1 1541.4 3855.4 1544 3856.4C1546.7 3857.3 1549.3 3856.4 1552 3854.5C1554.6 3852.6 1557.2 3848.1 1559.9 3845C1562.6 3841.8 1565.3 3837.2 1568 3835.4C1570.7 3833.6 1573.3 3833.1 1575.9 3834C1578.6 3834.9 1581.2 3837.5 1583.9 3841C1586.5 3844.5 1589.2 3851.1 1591.8 3855.2C1594.4 3859.3 1597.1 3865 1599.7 3865.7C1602.4 3866.4 1605.2 3863.8 1607.9 3859.4C1610.5 3855 1613.1 3845.5 1615.8 3839.1C1618.4 3832.8 1621.1 3826 1623.7 3821.2C1626.4 3816.4 1629 3812 1631.6 3810.3C1634.3 3808.5 1636.9 3808.2 1639.6 3810.8C1642.2 3813.3 1645 3821.7 1647.7 3825.4C1650.4 3829.1 1653 3831.4 1655.6 3832.9C1658.3 3834.3 1660.9 3834.3 1663.5 3834C1666.2 3833.8 1668.8 3832.1 1671.5 3831.5C1674.1 3830.8 1676.7 3828.7 1679.4 3830.3C1682.1 3831.9 1684.9 3836.8 1687.5 3841.2C1690.2 3845.7 1692.8 3852 1695.5 3857.1C1698.1 3862.1 1700.7 3868.8 1703.4 3871.7C1706 3874.6 1708.7 3876.1 1711.3 3874.3C1714 3872.5 1716.6 3866.6 1719.2 3861C1721.9 3855.5 1724.7 3846.7 1727.4 3841C1730 3835.3 1732.7 3829.6 1735.3 3826.6C1737.9 3823.5 1740.6 3821.8 1743.2 3822.9C1745.9 3823.9 1748.5 3828 1751.1 3832.9C1753.8 3837.7 1756.4 3848.6 1759.1 3852.2C1761.8 3855.8 1764.5 3855.1 1767.2 3854.5C1769.9 3853.9 1772.5 3851.2 1775.1 3848.4C1777.8 3845.7 1780.4 3842.2 1783.1 3838C1785.7 3833.7 1788.3 3824.2 1791 3823.1C1793.6 3821.9 1796.2 3827.2 1798.9 3831C1801.6 3834.8 1804.4 3841.6 1807 3846.1C1809.7 3850.7 1812.3 3853.8 1815 3858.2C1817.6 3862.6 1820.3 3870.9 1822.9 3872.4C1825.5 3874 1828.2 3871.2 1830.8 3867.5C1833.5 3863.8 1836.1 3856.4 1838.7 3850.1C1841.4 3843.7 1844 3834.9 1846.7 3829.4C1849.4 3823.8 1852.1 3817.5 1854.8 3816.8C1857.5 3816.1 1860.1 3821.7 1862.7 3824.9C1865.4 3828.2 1868 3832 1870.7 3836.3C1873.3 3840.7 1875.9 3847.6 1878.6 3851.2C1881.2 3854.8 1883.8 3859 1886.5 3858C1889.2 3857 1892 3849.2 1894.6 3845.2C1897.3 3841.2 1899.9 3838.1 1902.6 3833.8C1905.2 3829.5 1907.8 3823 1910.5 3819.4C1913.1 3815.8 1915.8 3812.2 1918.4 3812.1C1921.1 3812.1 1923.7 3815.5 1926.3 3819.1C1929 3822.7 1931.8 3828.5 1934.5 3833.8C1937.1 3839.1 1939.8 3845.9 1942.4 3851C1945 3856.1 1947.7 3860.5 1950.3 3864.5C1953 3868.5 1955.6 3872.3 1958.3 3874.7C1960.9 3877.2 1963.5 3878.7 1966.2 3879.4C1968.9 3880.1 1971.6 3880.1 1974.3 3878.9C1977 3877.8 1979.6 3875.2 1982.2 3872.6C1984.9 3870 1987.5 3864.9 1990.2 3863.3C1992.8 3861.8 1995.4 3864.4 1998.1 3863.6C2000.7 3862.8 2003.3 3861.3 2006 3858.5C2008.7 3855.6 2011.5 3850.3 2014.1 3846.6C2016.8 3842.8 2019.4 3840.7 2022.1 3835.9C2024.7 3831 2028.7 3820.6 2030 3817.5" fill="none" stroke="#008000" stroke-width="3.9" stroke-linejoin="round" stroke-linecap="butt" clip-path="url(#c4)"/>
<g fill="#fff" stroke="#008000" stroke-width="2.7" clip-path="url(#c4)">
<path d="M246.3 3826.8L260 3850.5L232.6 3850.5Z"/>
<path d="M365.2 3885L378.9 3908.7L351.5 3908.7Z"/>
<path d="M484.1 3775.6L497.8 3799.4L470.4 3799.4Z"/>
<path d="M603 3822.1L616.8 3845.9L589.3 3845.9Z"/>
<path d="M722 3840.8L735.7 3864.5L708.2 3864.5Z"/>
<path d="M840.9 3896.6L854.6 3920.4L827.1 3920.4Z"/>
<path d="M959.8 3796.5L973.5 3820.3L946.1 3820.3Z"/>
<path d="M1078.7 3819.8L1092.4 3843.6L1065 3843.6Z"/>
<path d="M1197.6 3857L1211.3 3880.8L1183.9 3880.8Z"/>
<path d="M1316.5 3814.1L1330.2 3837.9L1302.8 3837.9Z"/>
<path d="M1435.4 3820.3L1449.2 3844L1421.7 3844Z"/>
<path d="M1554.3 3835.8L1568.1 3859.6L1540.6 3859.6Z"/>
<path d="M1673.3 3815.4L1687 3839.1L1659.5 3839.1Z"/>
<path d="M1792.2 3808.4L1805.9 3832.2L1778.5 3832.2Z"/>
<path d="M1911.1 3803L1924.8 3826.7L1897.4 3826.7Z"/>
<path d="M2030 3801.7L2043.7 3825.4L2016.3 3825.4Z"/>
</g>
<path d="M246.3 3850.8L247.8 3847.4L249.4 3853.3L250.9 3844.6L252.5 3850L254 3840.2L255.5 3849L257.1 3838.8L258.6 3845.5L260.2 3840.3L261.7 3836.2L263.2 3840.3L264.8 3831.1L266.3 3838.1L267.8 3826.6L269.3 3834L270.9 3827L272.3 3821.7L273.7 3826.8L275.2 3817L276.6 3826.2L278 3819.4L279.6 3822.5L281.2 3835.2L282.8 3835.4L284.4 3850.2L285.9 3852.9L287.4 3849.9L288.8 3861.6L290.2 3855.3L291.6 3865.9L293 3860.2L294.5 3865.9L296 3868.2L297.5 3863.6L299 3871.7L300.6 3860.5L302.1 3869.2L303.6 3860.3L305.1 3870L306.7 3863.4L308.2 3871.3L309.7 3865.9L311.1 3858.6L312.6 3865.9L314 3852.5L315.4 3856.9L316.8 3847L318.2 3848.7L319.7 3852.9L321.2 3841.2L322.7 3849.3L324.1 3840.8L325.6 3848.9L327.1 3840.3L328.6 3847.6L330 3836.1L331.5 3840.3L333 3845.6L334.5 3841.9L335.9 3852.8L337.4 3849.4L338.9 3859.7L340.4 3852.4L341.8 3861.2L343.3 3866.5L344.7 3860.7L346.1 3868.2L347.6 3860L349 3872L350.4 3862.2L351.8 3870.4L353.3 3863.2L354.7 3870.1L356.2 3872.3L357.7 3863.1L359.2 3865.9L360.7 3858.6L362.2 3863.5L363.7 3853.8L365.2 3854.3L366.7 3858.7L368.3 3850.2L369.8 3856.1L371.3 3847.4L372.8 3852.7L374.4 3847.5L375.9 3854.5L377.4 3842.2L378.9 3849.9L380.5 3841.6L382 3851.8L383.5 3839.4L385 3844.3L386.6 3849L388.1 3839.3L389.7 3846.8L391.2 3837.1L392.8 3846.1L394.3 3834.7L395.9 3844.2L397.4 3832.6L399 3840.8L400.5 3831.6L402.1 3835.6L403.7 3836.5L405.2 3829.5L406.8 3836.6L408.4 3825.6L410 3832.4L411.6 3821.7L413.2 3827.6L414.8 3822.9L416.2 3819.5L417.7 3830.6L419.1 3822.7L420.6 3830.6L422 3825.4L423.5 3832L424.9 3825L426.4 3836.2L427.8 3826.6L429.3 3838.2L430.7 3828.7L432.2 3835.6L433.8 3837.8L435.3 3831.3L436.9 3836.2L438.5 3828.9L440 3837.7L441.6 3828L443.2 3834.1L444.7 3827L446.3 3830.8L447.9 3823.6L449.4 3827L450.9 3829.6L452.3 3819.2L453.7 3827L455.2 3814L456.6 3823.4L458 3811.4L459.5 3817L460.9 3809.3L462.3 3810.1L463.9 3813.4L465.5 3803.9L467.1 3807L468.7 3798.3L470.3 3801.4L471.8 3804.7L473.3 3798.3L474.9 3806.4L476.4 3800.5L478 3807.1L479.5 3802.1L481 3809.7L482.6 3803.9L484.1 3807.7L485.6 3811.4L487.1 3805.6L488.5 3815.8L490 3809.2L491.5 3815.5L492.9 3811.1L494.4 3820.2L495.9 3813.3L497.3 3822.2L498.8 3818.7L500.3 3812.3L501.7 3815.5L503.2 3804.1L504.6 3805.7L506.1 3793.8L507.6 3798.7L509 3786.2L510.5 3786.8L512 3795.6L513.6 3793.2L515.1 3806.8L516.7 3805.1L518.2 3814.7L519.9 3816.8L521.5 3805.6L523.1 3814.5L524.8 3807.7L526.3 3806.9L527.8 3819.9L529.3 3813.4L530.9 3826.2L532.4 3820.6L533.9 3832.4L535.5 3831.5L537 3833.4L538.5 3847L540 3841.6L541.6 3856.4L543.1 3851.6L544.6 3863.2L546.2 3865.9L547.7 3859.7L549.2 3864.1L550.7 3850.1L552.3 3856.9L553.8 3842L555.3 3847L556.9 3840.3L558.3 3833.8L559.8 3843.7L561.2 3833.8L562.7 3842.3L564.1 3834.6L565.6 3841.2L567 3832.8L568.5 3839.4L569.9 3835.6L571.4 3834.1L572.9 3843.3L574.4 3838.2L575.8 3845.9L577.3 3840L578.8 3850.6L580.3 3845.5L581.7 3856.1L583.2 3852.9L584.7 3848.5L586.3 3857.6L587.8 3851L589.3 3859.9L590.8 3852.2L592.4 3859.6L593.9 3852.6L595.4 3862.6L596.9 3854L598.5 3861.9L600 3853.8L601.5 3860.7L603 3858.9L604.6 3856.9L606.1 3866L607.7 3856.1L609.2 3865L610.7 3860L612.3 3869.3L613.8 3860L615.4 3870L616.9 3865.9L618.4 3859.3L619.9 3867.1L621.3 3859L622.8 3867.7L624.3 3858.3L625.8 3863.3L627.2 3853.7L628.7 3863.6L630.2 3857.3L631.6 3856.7L633 3867L634.5 3862.6L635.9 3874.9L637.3 3870.1L638.7 3878.7L640.2 3880.5L641.7 3873.4L643.2 3879.7L644.7 3869.9L646.2 3875.9L647.8 3867.2L649.3 3873.6L650.8 3864.5L652.3 3871.8L653.8 3865.9L655.3 3862.9L656.8 3869.7L658.3 3860.5L659.8 3869.3L661.3 3860.4L662.8 3867.8L664.3 3859.7L665.8 3867L667.3 3857L668.8 3861.2L670.3 3867.4L671.7 3861.2L673.1 3872.9L674.6 3865.5L676 3873.4L677.4 3869.5L678.9 3877.1L680.3 3871.2L681.7 3878.7L683.2 3886.5L684.7 3880.9L686.2 3890.7L687.7 3885.8L689.2 3896.6L690.7 3889.9L692.2 3896.1L693.8 3897.8L695.4 3890.2L697 3896.6L698.6 3887.9L700.2 3898.5L701.7 3887.7L703.3 3891.5L704.9 3892.7L706.4 3882.7L707.9 3888.3L709.4 3881.6L711 3885.6L712.5 3878.1L714 3878.7L715.6 3882.6L717.2 3870.7L718.8 3879.1L720.4 3867.5L722 3870.6L723.4 3875L724.8 3870.3L726.3 3879.5L727.7 3871.3L729.2 3882.5L730.6 3876.1L732 3886.1L733.5 3878.7L734.9 3888.4L736.4 3879.9L737.8 3886.8L739.3 3888.7L740.8 3877.3L742.3 3882.7L743.8 3872.6L745.3 3876.4L746.8 3864.4L748.3 3870.9L749.8 3861.9L751.3 3861.2L752.7 3866.5L754.1 3858.5L755.6 3863.5L757 3856.9L758.4 3866.3L759.9 3858.7L761.3 3865.1L762.7 3857.3L764.2 3861.2L765.7 3867.5L767.2 3864L768.8 3875.3L770.3 3871.1L771.8 3883.6L773.3 3879L774.9 3886.8L776.3 3892.7L777.7 3887.5L779.2 3897.5L780.6 3894.9L782 3903.6L783.5 3901.5L784.9 3908.9L786.3 3905.5L787.8 3912.4L789.2 3916.4L790.7 3913L792.2 3920.9L793.7 3913.9L795.2 3923.1L796.7 3917.1L798.2 3927.6L799.7 3919.1L801.2 3926.4L802.7 3929.2L804.2 3915.4L805.6 3922.4L807.1 3910.9L808.6 3917.3L810.1 3908.2L811.5 3908.9L813 3910.8L814.4 3902.9L815.8 3908L817.3 3898.7L818.7 3903.7L820.1 3895L821.6 3899.1L823 3890.3L824.4 3891.5L825.9 3895.4L827.4 3884.4L828.9 3889.3L830.4 3880.6L831.9 3884.6L833.4 3875.5L834.9 3881.4L836.4 3873.1L837.9 3877.7L839.4 3869L840.9 3870.6L842.4 3873.8L843.9 3863.7L845.5 3867.2L847 3859.3L848.6 3865L850.1 3855.6L851.7 3859.3L853.2 3851.3L854.7 3852.9L856.3 3857.9L857.8 3845.7L859.4 3854.4L860.9 3845.9L862.5 3851.7L864 3843.5L865.6 3852.3L867.1 3843.5L868.7 3850.4L870.2 3842.5L871.8 3844.3L873.4 3847.6L875 3841L876.5 3849.5L878.1 3839.7L879.7 3848.4L881.3 3840.5L882.9 3848.5L884.5 3844.3L885.9 3842.2L887.4 3851.1L888.8 3844.6L890.3 3857L891.7 3850.1L893.2 3859.3L894.6 3851.8L896.1 3861.5L897.5 3861.2L899.1 3855.4L900.7 3862.5L902.3 3856.1L903.8 3861.7L905.4 3852.9L907 3860L908.5 3851.8L910.1 3859.3L911.7 3848.7L913.2 3858L914.8 3852.9L916.3 3848.5L917.8 3855L919.4 3844.9L920.9 3851.2L922.4 3841.8L924 3847.6L925.5 3844.3L927 3840.7L928.5 3854.6L930 3849.2L931.5 3858.8L933 3853.8L934.5 3864.8L936 3861.2L937.5 3856.9L938.9 3865.4L940.4 3856.8L941.8 3864.1L943.3 3856.8L944.7 3863.8L946.2 3855L947.6 3860.5L949.1 3857.3L950.6 3854L952.1 3862.5L953.7 3856.7L955.2 3862.3L956.7 3856.5L958.3 3864.9L959.8 3861.2L961.2 3852.1L962.7 3855.3L964.1 3843.1L965.6 3847.7L967 3833.9L968.5 3835.6L970 3840.5L971.5 3834.4L973 3843.1L974.5 3838.4L976 3847.9L977.5 3839.1L979 3849.8L980.6 3843.4L982.1 3851.4L983.6 3848.7L985 3842.2L986.4 3845.3L987.9 3835.3L989.3 3840.2L990.7 3828.5L992.2 3834L993.6 3819.9L995 3827L996.4 3819.4L997.9 3810.8L999.3 3818.4L1000.7 3803.4L1002.2 3809.4L1003.6 3797.2L1005 3804L1006.5 3793.7L1007.9 3797.8L1009.3 3789.1L1010.8 3781.1L1012.3 3789.8L1013.8 3778.4L1015.4 3784.3L1016.9 3771.6L1018.4 3778.3L1019.9 3767.4L1021.4 3773.2L1022.9 3761.4L1024.4 3764.7L1025.8 3772.9L1027.3 3769.8L1028.7 3780.7L1030.2 3776.6L1031.7 3788.6L1033.1 3789.1L1034.6 3789.4L1036.2 3801L1037.7 3796.7L1039.2 3807.7L1040.8 3805L1042.3 3814.4L1043.8 3814.7L1045.3 3814.5L1046.7 3823.3L1048.2 3818.3L1049.6 3827.6L1051.1 3824.1L1052.5 3834.6L1054 3828.1L1055.4 3835.5L1056.9 3835.6L1058.5 3832.9L1060.1 3841.2L1061.6 3836.2L1063.2 3847.8L1064.8 3841.5L1066.4 3849.4L1068 3841.7L1069.6 3848.7L1071.1 3851.4L1072.6 3845.4L1074.1 3850L1075.7 3842.5L1077.2 3852L1078.7 3846.6L1080.3 3850.9L1081.9 3866.1L1083.4 3864.8L1085 3881.9L1086.6 3886.8L1088.2 3884.1L1089.7 3897.1L1091.3 3890.6L1092.8 3902.1L1094.4 3896.1L1096 3907.6L1097.5 3904.5L1099.2 3905L1100.8 3920L1102.4 3915.6L1104.1 3926.4L1105.6 3919.2L1107.2 3897.1L1108.8 3894.1L1110.4 3878.7L1112 3872.1L1113.5 3878.4L1115.1 3865.7L1116.6 3869.8L1118.2 3858.2L1119.7 3863.8L1121.3 3857.3L1122.8 3850.5L1124.3 3855.6L1125.8 3845.8L1127.2 3850.6L1128.7 3837.7L1130.2 3841.4L1131.7 3833.6L1133.2 3836.3L1134.7 3826.3L1136.2 3827L1137.7 3834.8L1139.2 3827L1140.7 3839.8L1142.3 3832.4L1143.8 3844L1145.3 3840.1L1146.9 3848.6L1148.4 3842.7L1149.9 3852.5L1151.4 3852.9L1152.9 3847.9L1154.3 3851.2L1155.7 3843.8L1157.2 3848.6L1158.6 3839.3L1160 3844.2L1161.4 3835.2L1162.9 3840.1L1164.3 3835.6L1165.7 3828.3L1167.2 3836.7L1168.6 3825.5L1170 3832.7L1171.4 3820.3L1172.8 3822.9L1174.3 3829.1L1175.7 3822.1L1177.1 3832.5L1178.6 3828L1180 3838.2L1181.4 3831.5L1182.9 3841.9L1184.3 3834.8L1185.7 3840.3L1187.2 3846L1188.7 3838.7L1190.2 3848.2L1191.7 3840.2L1193.1 3853L1194.6 3845.4L1196.1 3853.9L1197.6 3851.9L1199.1 3845.8L1200.6 3856.5L1202.1 3846.7L1203.6 3852.2L1205 3844.8L1206.5 3852.4L1208 3844L1209.5 3851.7L1211 3844.5L1212.5 3846.1L1214 3846.6L1215.6 3833.7L1217.1 3838.9L1218.7 3828.7L1220.3 3831.3L1221.8 3817.5L1223.4 3819.4L1224.9 3828L1226.4 3822.9L1227.9 3834.4L1229.4 3831.7L1230.9 3842.4L1232.4 3836.5L1233.9 3846.1L1235.5 3851.3L1237 3846.5L1238.6 3857.7L1240.2 3853.6L1241.8 3861.5L1243.4 3857.8L1245 3865.9L1246.6 3865.9L1248.1 3865.9L1249.7 3876.2L1251.2 3870L1252.8 3880.5L1254.4 3874.3L1255.9 3884.8L1257.5 3879.3L1259 3885.7L1260.6 3885.1L1262.2 3877.6L1263.7 3879.8L1265.3 3869.1L1266.8 3876.4L1268.4 3862.9L1269.9 3865.9L1271.5 3865L1273.1 3851.6L1274.6 3853.3L1276.2 3838.6L1277.7 3840.8L1279.3 3828.3L1280.8 3826.3L1282.3 3828.4L1283.8 3817.1L1285.2 3819L1286.7 3808L1288.2 3813.8L1289.6 3802.7L1291.1 3809.9L1292.6 3798L1294 3800.8L1295.5 3794.5L1297 3796.3L1298.6 3808.1L1300.1 3806.1L1301.6 3817.5L1303.2 3815.3L1304.7 3831.8L1306.2 3831L1307.7 3830.6L1309.2 3839.6L1310.6 3834.9L1312.1 3845.8L1313.6 3839.7L1315 3851.4L1316.5 3848.4L1318 3841.3L1319.4 3848.9L1320.9 3841.9L1322.3 3847.5L1323.8 3839.4L1325.2 3844.1L1326.7 3836.2L1328.1 3843L1329.6 3836.3L1331.2 3831L1332.7 3838.4L1334.3 3827L1335.9 3834.8L1337.4 3823.5L1339 3831.7L1340.5 3820L1342.1 3828.6L1343.7 3821.7L1345.2 3822.1L1346.8 3832.6L1348.3 3830.9L1349.9 3843.3L1351.4 3839.5L1353 3846.1L1354.4 3853.9L1355.8 3849.3L1357.3 3856.4L1358.7 3852L1360.1 3864.6L1361.6 3857.2L1363 3868.7L1364.4 3863.1L1365.9 3870.6L1367.5 3876.1L1369 3868.7L1370.6 3874.9L1372.2 3870.5L1373.8 3876.7L1375.4 3868.9L1377 3877.6L1378.6 3875.2L1380.1 3864.6L1381.6 3869.4L1383.1 3853.7L1384.7 3857.5L1386.2 3843.2L1387.7 3849L1389.3 3838.7L1390.8 3842.3L1392.3 3853.6L1393.8 3853.8L1395.3 3865.6L1396.8 3863.7L1398.3 3879.9L1399.8 3879.9L1401.2 3872.9L1402.6 3880.1L1404.1 3870.8L1405.5 3877.7L1406.9 3869.9L1408.3 3873.8L1409.8 3864.9L1411.2 3871.5L1412.6 3865.9L1414.1 3859.3L1415.5 3865.9L1416.9 3855L1418.4 3865L1419.8 3854.4L1421.2 3858.6L1422.7 3851.3L1424.1 3856.1L1425.5 3851L1426.9 3846.3L1428.4 3853.4L1429.8 3844.4L1431.2 3853.1L1432.6 3845.4L1434 3849.4L1435.4 3846.1L1436.9 3844L1438.4 3853.5L1439.9 3846.2L1441.3 3857.9L1442.8 3850.9L1444.3 3860.8L1445.8 3854.6L1447.2 3863.7L1448.7 3861.2L1450.3 3860.5L1452 3875.5L1453.6 3873L1455.3 3879.9L1456.8 3882.8L1458.3 3871.5L1459.8 3879.5L1461.3 3869.6L1462.8 3872L1464.3 3864.6L1465.8 3865.9L1467.2 3866.9L1468.6 3852.6L1470.1 3855.4L1471.5 3843.3L1472.9 3845.4L1474.3 3831.3L1475.8 3834.8L1477.2 3824.2L1478.6 3821.7L1480.2 3831L1481.8 3829.2L1483.4 3838.7L1485 3838.8L1486.6 3849.9L1488.2 3848.6L1489.7 3862.2L1491.3 3861.2L1492.7 3849.5L1494.2 3852.4L1495.6 3835.5L1497 3836.7L1498.4 3824.2L1499.8 3819.4L1501.3 3827.7L1502.7 3829.1L1504.1 3841.5L1505.6 3840L1507 3855.4L1508.4 3850.9L1509.9 3868.2L1511.3 3864.6L1512.7 3875.2L1514.2 3873.8L1515.7 3856.7L1517.2 3862L1518.7 3845.4L1520.2 3848.4L1521.7 3831.9L1523.2 3831L1524.7 3839.2L1526.1 3832.3L1527.5 3843.6L1529 3836.2L1530.4 3848.1L1531.8 3844.2L1533.3 3856.3L1534.7 3849L1536.1 3855.9L1537.6 3859.9L1539.2 3851.5L1540.7 3856.8L1542.2 3849.9L1543.7 3859.1L1545.2 3849.6L1546.7 3855.6L1548.3 3850.2L1549.8 3854.5L1551.3 3846.4L1552.8 3855.9L1554.3 3851L1555.8 3844.6L1557.2 3853.9L1558.7 3845.1L1560.1 3850.4L1561.5 3842.2L1563 3846.9L1564.4 3839.6L1565.8 3841.2L1567.4 3843.2L1568.9 3833.6L1570.4 3837.3L1572 3827.5L1573.5 3836L1575 3824.2L1576.5 3826.3L1578 3834.9L1579.5 3828.1L1581 3837.9L1582.5 3832.9L1584 3845.3L1585.5 3840.5L1586.9 3849.5L1588.4 3844.6L1589.9 3856.1L1591.4 3855.9L1593 3852.4L1594.5 3863.7L1596.1 3860L1597.7 3870.1L1599.2 3863.1L1600.8 3876.1L1602.3 3869.5L1603.9 3875.2L1605.3 3874.5L1606.8 3863.4L1608.3 3869L1609.7 3859.8L1611.2 3862.3L1612.6 3852.4L1614.1 3854.8L1615.5 3843.4L1617 3846.1L1618.5 3846L1620 3830.9L1621.6 3833.5L1623.1 3821.9L1624.6 3822.9L1626.1 3809.8L1627.7 3807.7L1629.2 3815.6L1630.7 3810.3L1632.2 3818.9L1633.7 3813.3L1635.2 3827L1636.7 3819.5L1638.2 3826.3L1639.6 3831.4L1641 3824.9L1642.5 3837.2L1643.9 3830.7L1645.3 3837.5L1646.8 3833.7L1648.2 3842.3L1649.6 3834.2L1651.1 3841.2L1652.6 3847.7L1654.2 3842.1L1655.8 3852.6L1657.4 3851.1L1659 3859.6L1660.6 3854.4L1662.2 3867.3L1663.7 3865.9L1665.3 3862L1666.9 3867.6L1668.5 3855.7L1670.1 3863.5L1671.7 3854.2L1673.3 3856.6L1674.8 3858.7L1676.3 3846.9L1677.9 3849.6L1679.4 3837.6L1680.9 3842.7L1682.5 3831.1L1684 3835.2L1685.5 3829.4L1687 3831.9L1688.4 3844L1689.9 3841.4L1691.3 3854.1L1692.8 3853.9L1694.2 3864.1L1695.7 3867.1L1697.2 3862.3L1698.7 3871.6L1700.3 3865.4L1701.8 3874.6L1703.3 3865.3L1704.9 3874.6L1706.4 3868.3L1707.9 3871.9L1709.5 3873.5L1711 3861.8L1712.6 3869.4L1714.1 3859.4L1715.6 3863.6L1717.2 3852.9L1718.7 3861.1L1720.2 3853.1L1721.8 3846.2L1723.3 3849.7L1724.8 3839.3L1726.4 3843L1727.9 3831L1729.4 3836.7L1731 3822.4L1732.5 3829.8L1734.1 3815.1L1735.6 3821.3L1737.1 3811.2L1738.7 3810.1L1740.1 3819.6L1741.5 3816.4L1742.9 3825.5L1744.4 3822.6L1745.8 3836.4L1747.2 3830.7L1748.7 3843.3L1750.1 3839.5L1751.5 3852.6L1752.9 3853.1L1754.5 3852.5L1756 3861.2L1757.5 3853.1L1759.1 3862.9L1760.6 3857.2L1762.1 3865.1L1763.7 3858.8L1765.2 3868.7L1766.8 3864.3L1768.3 3874L1769.8 3866.8L1771.4 3871.9L1772.8 3868.3L1774.3 3851.5L1775.7 3851.4L1777.1 3834.7L1778.6 3835L1780 3820.5L1781.5 3814.7L1783 3821.5L1784.5 3816L1786.1 3825.2L1787.6 3823.6L1789.1 3834.4L1790.6 3827.9L1792.2 3834L1793.7 3833L1795.1 3824.4L1796.6 3827.1L1798.1 3814.2L1799.6 3821.5L1801.1 3808.5L1802.6 3814L1804.1 3805.4L1805.6 3809.5L1807 3828.2L1808.5 3826.5L1810 3844.5L1811.5 3845.9L1813 3863.8L1814.5 3862.7L1816 3876.6L1817.5 3879.9L1819 3870.1L1820.5 3875.3L1822 3863.4L1823.5 3871L1825 3860L1826.5 3862.4L1827.9 3868.4L1829.4 3864.3L1830.9 3873.5L1832.3 3871L1833.8 3878.2L1835.3 3876.2L1836.8 3881.3L1838.2 3881.2L1839.7 3865L1841.1 3868.8L1842.5 3853.1L1844 3855.7L1845.4 3840L1846.9 3838.9L1848.4 3837L1849.9 3826.1L1851.5 3828.8L1853 3819.7L1854.6 3821.1L1856.1 3808.2L1857.6 3814.7L1859.2 3805.4L1860.6 3808.2L1862.1 3819.5L1863.6 3818.2L1865.1 3830.2L1866.5 3829.3L1868 3841.7L1869.5 3843.6L1870.9 3843.1L1872.3 3858.8L1873.7 3854.8L1875.1 3867.2L1876.5 3864.3L1878 3877.8L1879.4 3876.6L1881 3862.9L1882.5 3864.8L1884.1 3846.8L1885.7 3843.6L1887.3 3853.6L1889 3854.5L1890.6 3868L1892.2 3867.8L1893.8 3876.6L1895.2 3876.7L1896.6 3859.7L1898 3865.3L1899.4 3851.7L1900.8 3851.5L1902.2 3843.6L1903.7 3838.3L1905.1 3848.4L1906.6 3837.6L1908.1 3846L1909.6 3838.3L1911.1 3841.2L1912.6 3843.9L1914.1 3834.1L1915.6 3838.4L1917.1 3830L1918.6 3836.3L1920.1 3825.5L1921.6 3833.2L1923.1 3823.2L1924.6 3824.7L1926.1 3831.6L1927.6 3825.6L1929.2 3839.2L1930.7 3831.6L1932.2 3843.5L1933.8 3840.2L1935.3 3849.1L1936.9 3848.2L1938.3 3845.9L1939.8 3855.9L1941.3 3849.1L1942.8 3859L1944.2 3853L1945.7 3862.7L1947.2 3856.9L1948.7 3867.1L1950.1 3860.2L1951.6 3870.9L1953.1 3867.1L1954.6 3862.4L1956.2 3874.4L1957.7 3868.1L1959.2 3877.1L1960.8 3867.5L1962.3 3876.4L1963.9 3870.4L1965.4 3881.6L1966.9 3874.2L1968.5 3882.1L1970 3877.9L1971.5 3881.3L1973 3884.1L1974.4 3872.1L1975.8 3877.9L1977.2 3867.2L1978.7 3872.3L1980.1 3861.2L1981.5 3865.9L1982.9 3855.6L1984.4 3859.5L1985.8 3853.1L1987.3 3845.9L1988.8 3850.7L1990.3 3842.1L1991.8 3846.4L1993.3 3836.6L1994.8 3841.2L1996.3 3832L1997.8 3835L1999.3 3824.9L2000.8 3831.3L2002.3 3824.7L2003.7 3825.5L2005.1 3839.7L2006.6 3836.9L2008 3851.3L2009.5 3852.8L2010.9 3866.9L2012.4 3867.1L2013.8 3857.6L2015.3 3859L2016.8 3845.3L2018.3 3845.8L2019.7 3831.1L2021.2 3836.5L2022.7 3824.7L2024.1 3819.6L2025.6 3826.8L2027.1 3817.9L2028.5 3825.5L2030 3819.4" fill="none" stroke="#ff0000" stroke-width="10.8" stroke-linejoin="round" stroke-linecap="butt" clip-path="url(#c4)"/>
<g fill="#fff" stroke="#ff0000" stroke-width="2.7" clip-path="url(#c4)">
<circle cx="246.3" cy="3850.8" r="11.8"/>
<circle cx="365.2" cy="3854.3" r="11.8"/>
<circle cx="484.1" cy="3807.7" r="11.8"/>
<circle cx="603" cy="3858.9" r="11.8"/>
<circle cx="722" cy="3870.6" r="11.8"/>
<circle cx="840.9" cy="3870.6" r="11.8"/>
<circle cx="959.8" cy="3861.2" r="11.8"/>
<circle cx="1078.7" cy="3846.6" r="11.8"/>
<circle cx="1197.6" cy="3851.9" r="11.8"/>
<circle cx="1316.5" cy="3848.4" r="11.8"/>
<circle cx="1435.4" cy="3846.1" r="11.8"/>
<circle cx="1554.3" cy="3851" r="11.8"/>
<circle cx="1673.3" cy="3856.6" r="11.8"/>
<circle cx="1792.2" cy="3834" r="11.8"/>
<circle cx="1911.1" cy="3841.2" r="11.8"/>
<circle cx="2030" cy="3819.4" r="11.8"/>
</g>
<path d="M246.3 3875.2C256.2 3872.9 285.9 3860.7 305.8 3861.2C325.6 3861.8 345.4 3881.8 365.2 3878.7C385 3875.6 404.9 3853.7 424.7 3842.6C444.5 3831.6 467.6 3816.3 484.1 3812.4C500.6 3808.5 510.6 3814.3 523.8 3819.4C537 3824.4 550.2 3836 563.4 3842.6C576.6 3849.2 586.5 3854.3 603 3858.9C619.6 3863.6 642.7 3867.1 662.5 3870.6C682.3 3874 702.1 3875.6 722 3879.9C741.8 3884.1 761.6 3894.2 781.4 3896.1C801.2 3898.1 821 3896.5 840.9 3891.5C860.7 3886.5 880.5 3871.7 900.3 3865.9C920.1 3860.1 943.3 3864.3 959.8 3856.6C976.3 3848.8 987.9 3833.3 999.4 3819.4C1011 3805.4 1019.9 3772.8 1029.1 3772.8C1038.4 3772.8 1046.7 3803.5 1054.9 3819.4C1063.2 3835.3 1070.4 3856.6 1078.7 3868.2C1087 3879.9 1094.5 3893.4 1104.5 3889.2C1114.4 3884.9 1122.6 3847.7 1138.2 3842.6C1153.7 3837.6 1184.4 3859.7 1197.6 3858.9C1210.8 3858.2 1212.8 3841.6 1217.4 3838.2C1222 3834.8 1222.7 3837.8 1225.4 3838.7C1228 3839.6 1230.6 3840.8 1233.3 3843.6C1236 3846.4 1238.7 3851.7 1241.4 3855.4C1244.1 3859.1 1246.7 3863.6 1249.3 3865.9C1252 3868.2 1254.6 3869.5 1257.3 3869.2C1259.9 3868.8 1262.5 3866.9 1265.2 3863.8C1267.8 3860.7 1270.4 3855.7 1273.1 3850.3C1275.8 3845 1278.6 3836.8 1281.2 3831.7C1283.9 3826.6 1286.5 3821.7 1289.2 3819.6C1291.8 3817.5 1294.5 3817.9 1297.1 3818.9C1299.7 3819.9 1302.4 3822.9 1305 3825.6C1307.7 3828.4 1310.3 3832.9 1313 3835.2C1315.6 3837.5 1318.4 3839.1 1321.1 3839.4C1323.8 3839.6 1326.4 3837.7 1329 3836.8C1331.6 3835.9 1334.3 3834 1336.9 3834C1339.6 3834.1 1342.2 3835.2 1344.9 3837C1347.5 3838.9 1350.1 3841.8 1352.8 3845C1355.5 3848.1 1358.2 3853.1 1360.9 3856.1C1363.6 3859.2 1366.2 3862.4 1368.8 3863.3C1371.5 3864.2 1374.1 3861.9 1376.8 3861.5C1379.4 3861.1 1382.1 3861 1384.7 3861C1387.3 3861 1389.9 3861.4 1392.6 3861.5C1395.3 3861.6 1398.1 3861 1400.8 3861.5C1403.4 3861.9 1406 3864.3 1408.7 3864C1411.3 3863.8 1414 3861.6 1416.6 3859.8C1419.2 3858.1 1421.9 3855.2 1424.5 3853.8C1427.2 3852.4 1429.8 3851.3 1432.5 3851.5C1435.1 3851.7 1437.7 3853.4 1440.4 3855C1443.1 3856.5 1445.8 3859.3 1448.5 3860.5C1451.2 3861.8 1453.8 3863.3 1456.4 3862.6C1459.1 3862 1461.7 3858.9 1464.4 3856.6C1467 3854.3 1469.7 3850.9 1472.3 3848.9C1474.9 3846.9 1477.5 3846.3 1480.2 3844.5C1482.9 3842.7 1485.7 3838.4 1488.3 3838.2C1491 3838 1493.6 3841.6 1496.3 3843.3C1498.9 3845 1501.6 3848.1 1504.2 3848.4C1506.8 3848.8 1509.5 3845 1512.1 3845.2C1514.8 3845.4 1517.4 3849 1520.1 3849.6C1522.7 3850.2 1525.5 3849.3 1528.2 3848.9C1530.9 3848.6 1533.5 3847.2 1536.1 3847.5C1538.8 3847.8 1541.4 3850.3 1544 3850.5C1546.7 3850.8 1549.3 3850.2 1552 3849.1C1554.6 3848.1 1557.2 3845.8 1559.9 3844.3C1562.6 3842.7 1565.3 3840.4 1568 3839.6C1570.7 3838.8 1573.3 3838.6 1575.9 3839.4C1578.6 3840.1 1581.2 3841.7 1583.9 3844C1586.5 3846.3 1589.2 3850.7 1591.8 3853.1C1594.4 3855.5 1597.1 3858.2 1599.7 3858.7C1602.4 3859.1 1605.2 3858.3 1607.9 3855.9C1610.5 3853.5 1613.1 3848.3 1615.8 3844.5C1618.4 3840.7 1621.1 3835.7 1623.7 3832.9C1626.4 3830 1629 3827.9 1631.6 3827.3C1634.3 3826.6 1636.9 3826.9 1639.6 3828.9C1642.2 3830.9 1645 3835.9 1647.7 3839.1C1650.4 3842.4 1653 3846.2 1655.6 3848.4C1658.3 3850.7 1660.9 3852.5 1663.5 3852.9C1666.2 3853.3 1668.8 3851.4 1671.5 3850.8C1674.1 3850.1 1676.7 3848.9 1679.4 3848.9C1682.1 3848.9 1684.9 3849.5 1687.5 3850.5C1690.2 3851.5 1692.8 3853.2 1695.5 3855C1698.1 3856.7 1700.7 3860.2 1703.4 3861C1706 3861.8 1708.7 3861.4 1711.3 3859.6C1714 3857.8 1716.6 3854 1719.2 3850.3C1721.9 3846.7 1724.7 3840.8 1727.4 3837.7C1730 3834.6 1732.7 3832.3 1735.3 3831.7C1737.9 3831.1 1740.6 3832.2 1743.2 3834C1745.9 3835.8 1748.5 3839 1751.1 3842.4C1753.8 3845.8 1756.4 3852.5 1759.1 3854.3C1761.8 3856 1764.5 3854.3 1767.2 3852.9C1769.9 3851.4 1772.5 3848.3 1775.1 3845.7C1777.8 3843.1 1780.4 3840.7 1783.1 3837.3C1785.7 3833.8 1788.3 3826.3 1791 3824.9C1793.6 3823.5 1796.2 3826.5 1798.9 3828.9C1801.6 3831.3 1804.4 3836.3 1807 3839.6C1809.7 3842.9 1812.3 3844.5 1815 3848.4C1817.6 3852.4 1820.3 3860.8 1822.9 3863.6C1825.5 3866.4 1828.2 3866.6 1830.8 3865.2C1833.5 3863.8 1836.1 3859.1 1838.7 3855.4C1841.4 3851.7 1844 3846.9 1846.7 3843.1C1849.4 3839.3 1852.1 3834.4 1854.8 3832.9C1857.5 3831.3 1860.1 3832.3 1862.7 3833.8C1865.4 3835.3 1868 3838.5 1870.7 3841.7C1873.3 3844.9 1875.9 3850.2 1878.6 3853.1C1881.2 3856 1883.8 3859.1 1886.5 3859.4C1889.2 3859.6 1892 3856.2 1894.6 3854.5C1897.3 3852.8 1899.9 3851.6 1902.6 3849.4C1905.2 3847.2 1907.8 3843.4 1910.5 3841.2C1913.1 3839.1 1915.8 3836.9 1918.4 3836.3C1921.1 3835.8 1923.7 3836.9 1926.3 3838C1929 3839.1 1931.8 3840.7 1934.5 3843.1C1937.1 3845.5 1939.8 3849.2 1942.4 3852.2C1945 3855.1 1947.7 3858.2 1950.3 3860.8C1953 3863.3 1955.6 3866.1 1958.3 3867.5C1960.9 3869 1963.5 3869.6 1966.2 3869.4C1968.9 3869.2 1971.6 3868 1974.3 3866.1C1977 3864.2 1979.6 3861.2 1982.2 3858C1984.9 3854.8 1987.5 3849.1 1990.2 3846.8C1992.8 3844.5 1995.4 3844.8 1998.1 3844C2000.7 3843.3 2003.3 3843.2 2006 3842.4C2008.7 3841.5 2011.5 3840 2014.1 3838.9C2016.8 3837.9 2019.4 3838 2022.1 3836.1C2024.7 3834.2 2028.7 3828.9 2030 3827.5" fill="none" stroke="#ff0000" stroke-width="3.9" stroke-linejoin="round" stroke-linecap="butt" clip-path="url(#c4)"/>
<g fill="#fff" stroke="#ff0000" stroke-width="2.7" clip-path="url(#c4)">
<circle cx="246.3" cy="3875.2" r="11.8"/>
<circle cx="365.2" cy="3878.7" r="11.8"/>
<circle cx="484.1" cy="3812.4" r="11.8"/>
<circle cx="603" cy="3858.9" r="11.8"/>
<circle cx="722" cy="3879.9" r="11.8"/>
<circle cx="840.9" cy="3891.5" r="11.8"/>
<circle cx="959.8" cy="3856.6" r="11.8"/>
<circle cx="1078.7" cy="3868.2" r="11.8"/>
<circle cx="1197.6" cy="3858.9" r="11.8"/>
<circle cx="1316.5" cy="3837" r="11.8"/>
<circle cx="1435.4" cy="3852.8" r="11.8"/>
<circle cx="1554.3" cy="3847.7" r="11.8"/>
<circle cx="1673.3" cy="3850.4" r="11.8"/>
<circle cx="1792.2" cy="3825.5" r="11.8"/>
<circle cx="1911.1" cy="3840.9" r="11.8"/>
<circle cx="2030" cy="3827.5" r="11.8"/>
</g>
<rect x="890.6" y="4100.6" width="1131.6" height="200.4" fill="#fff" stroke="#000" stroke-width="2.3"/>
<text x="1237.8" y="4154" font-size="51.4" text-anchor="end">Without Control</text>
<path d="M1251.8 4137H1370" stroke="#0000ff" stroke-width="9.9" stroke-linecap="round" fill="none"/>
<g fill="#fff" stroke="#0000ff" stroke-width="2.7"><rect x="1300.2" y="4126.3" width="21.5" height="21.5"/></g>
<text x="1383.5" y="4154.6" font-size="51.4" text-anchor="start">Circumferential</text>
<path d="M1725.5 4137H1842" stroke="#0000ff" stroke-width="4.0" stroke-linecap="round" fill="none"/>
<g fill="#fff" stroke="#0000ff" stroke-width="2.7"><rect x="1773" y="4126.3" width="21.5" height="21.5"/></g>
<text x="1856.6" y="4154.6" font-size="51.4" text-anchor="start">Chassis</text>
<text x="1240.6" y="4218" font-size="51.4" text-anchor="end">With MFC</text>
<path d="M1254.6 4201H1372.8" stroke="#008000" stroke-width="9.9" stroke-linecap="round" fill="none"/>
<g fill="#fff" stroke="#008000" stroke-width="2.7"><path d="M1313.7 4185.2L1327.4 4208.9L1300 4208.9Z"/></g>
<text x="1386.3" y="4218.6" font-size="51.4" text-anchor="start">Circumferential</text>
<path d="M1728.3 4201H1844.8" stroke="#008000" stroke-width="4.0" stroke-linecap="round" fill="none"/>
<g fill="#fff" stroke="#008000" stroke-width="2.7"><path d="M1786.5 4185.2L1800.3 4208.9L1772.8 4208.9Z"/></g>
<text x="1859.4" y="4218.6" font-size="51.4" text-anchor="start">Chassis</text>
<text x="1231.8" y="4283.1" font-size="51.4" text-anchor="end">With Proposed</text>
<path d="M1245.8 4266.1H1364" stroke="#ff0000" stroke-width="9.9" stroke-linecap="round" fill="none"/>
<g fill="#fff" stroke="#ff0000" stroke-width="2.7"><circle cx="1304.9" cy="4266.1" r="11.8"/></g>
<text x="1377.5" y="4283.7" font-size="51.4" text-anchor="start">Circumferential</text>
<path d="M1719.5 4266.1H1836" stroke="#ff0000" stroke-width="4.0" stroke-linecap="round" fill="none"/>
<g fill="#fff" stroke="#ff0000" stroke-width="2.7"><circle cx="1777.8" cy="4266.1" r="11.8"/></g>
<text x="1850.6" y="4283.7" font-size="51.4" text-anchor="start">Chassis</text>
<path d="M246.3 4308v23.4M345.4 4308v11.4M444.5 4308v23.4M543.6 4308v11.4M642.7 4308v23.4M741.8 4308v11.4M840.9 4308v23.4M940 4308v11.4M1039.1 4308v23.4M1138.2 4308v11.4M1237.2 4308v23.4M1336.3 4308v11.4M1435.4 4308v23.4M1534.5 4308v11.4M1633.6 4308v23.4M1732.7 4308v11.4M1831.8 4308v23.4M1930.9 4308v11.4M2030 4308v23.4M444.5 3493.6v10.4M642.7 3493.6v22.4M840.9 3493.6v10.4M1039.1 3493.6v22.4M1237.2 3493.6v10.4M1435.4 3493.6v22.4M1633.6 3493.6v10.4M1831.8 3493.6v22.4M246.3 3609.9h-23.4M246.3 3842.6h-23.4M246.3 4075.3h-23.4M246.3 4308h-23.4M246.3 3493.6h-11.4M246.3 3726.3h-11.4M246.3 3959h-11.4M246.3 4191.7h-11.4M2030 3842.6h-22.4M2030 3609.9h-10.4M2030 4075.3h-10.4" fill="none" stroke="#000" stroke-width="5.8" stroke-linecap="round"/>
<path d="M246.3 3493.6H2030V4308H246.3Z" fill="none" stroke="#000" stroke-width="5.2" stroke-linejoin="miter"/>
<g font-size="59" text-anchor="end">
<text x="206.8" y="3628.7">10</text>
<text x="206.8" y="3861.4">0</text>
<text x="206.8" y="4094.1">-10</text>
<text x="206.8" y="4326.7">-20</text>
</g><g font-size="59" text-anchor="middle">
<text x="246.3" y="4392.7">1</text>
<text x="444.5" y="4392.7">2</text>
<text x="642.7" y="4392.7">3</text>
<text x="840.9" y="4392.7">4</text>
<text x="1039.1" y="4392.7">5</text>
<text x="1237.2" y="4392.7">6</text>
<text x="1435.4" y="4392.7">7</text>
<text x="1633.6" y="4392.7">8</text>
<text x="1831.8" y="4392.7">9</text>
<text x="2030" y="4392.7">10</text>
</g>
<text transform="translate(101.7 3902) rotate(-90) scale(1 1.03)" font-size="75.2" text-anchor="middle">Acceleration (m/s<tspan font-size="46" dy="-27">2</tspan><tspan dy="27">)</tspan></text>
<text x="1138.2" y="4476" font-size="75.7" text-anchor="middle">Time (s)</text>
<text x="1047.4" y="4559.6" font-size="77.5" text-anchor="middle">(<tspan font-weight="bold">j</tspan>)</text>
</svg></body></html>
